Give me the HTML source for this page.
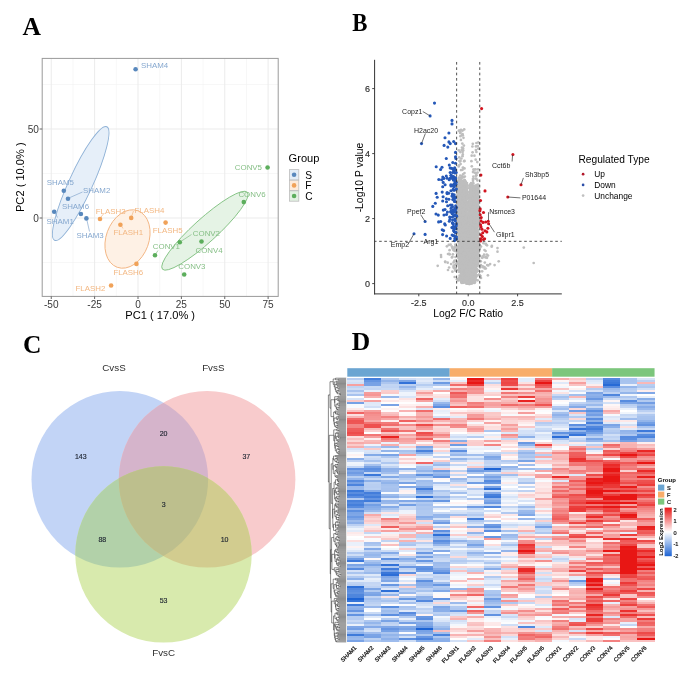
<!DOCTYPE html>
<html><head><meta charset="utf-8"><style>
html,body{margin:0;padding:0;background:#fff;width:685px;height:685px;overflow:hidden;}
svg{display:block;}
text{-webkit-font-smoothing:antialiased;}
</style></head><body>
<svg width="685" height="685" viewBox="0 0 685 685" style="will-change:transform">
<rect width="685" height="685" fill="#fff"/>
<text x="22.60" y="34.60" font-size="25.5" fill="#000" text-anchor="start" font-weight="bold" font-family='"Liberation Serif", serif' >A</text>
<text x="352.30" y="30.50" font-size="25.5" fill="#000" text-anchor="start" font-weight="bold" font-family='"Liberation Serif", serif' textLength="15.2" lengthAdjust="spacingAndGlyphs">B</text>
<text x="23.00" y="353.20" font-size="25.5" fill="#000" text-anchor="start" font-weight="bold" font-family='"Liberation Serif", serif' >C</text>
<text x="351.80" y="349.60" font-size="25.5" fill="#000" text-anchor="start" font-weight="bold" font-family='"Liberation Serif", serif' >D</text>
<g id="panelA">
<line x1="72.94" y1="58.40" x2="72.94" y2="296.40" stroke="#f2f2f2" stroke-width="0.6" />
<line x1="116.31" y1="58.40" x2="116.31" y2="296.40" stroke="#f2f2f2" stroke-width="0.6" />
<line x1="159.69" y1="58.40" x2="159.69" y2="296.40" stroke="#f2f2f2" stroke-width="0.6" />
<line x1="203.06" y1="58.40" x2="203.06" y2="296.40" stroke="#f2f2f2" stroke-width="0.6" />
<line x1="246.44" y1="58.40" x2="246.44" y2="296.40" stroke="#f2f2f2" stroke-width="0.6" />
<line x1="42.20" y1="262.50" x2="278.20" y2="262.50" stroke="#f2f2f2" stroke-width="0.6" />
<line x1="42.20" y1="173.50" x2="278.20" y2="173.50" stroke="#f2f2f2" stroke-width="0.6" />
<line x1="42.20" y1="84.50" x2="278.20" y2="84.50" stroke="#f2f2f2" stroke-width="0.6" />
<line x1="51.25" y1="58.40" x2="51.25" y2="296.40" stroke="#ebebeb" stroke-width="1.0" />
<line x1="94.62" y1="58.40" x2="94.62" y2="296.40" stroke="#ebebeb" stroke-width="1.0" />
<line x1="138.00" y1="58.40" x2="138.00" y2="296.40" stroke="#ebebeb" stroke-width="1.0" />
<line x1="181.38" y1="58.40" x2="181.38" y2="296.40" stroke="#ebebeb" stroke-width="1.0" />
<line x1="224.75" y1="58.40" x2="224.75" y2="296.40" stroke="#ebebeb" stroke-width="1.0" />
<line x1="268.12" y1="58.40" x2="268.12" y2="296.40" stroke="#ebebeb" stroke-width="1.0" />
<line x1="42.20" y1="218.00" x2="278.20" y2="218.00" stroke="#ebebeb" stroke-width="1.0" />
<line x1="42.20" y1="129.00" x2="278.20" y2="129.00" stroke="#ebebeb" stroke-width="1.0" />
<ellipse cx="80.7" cy="183.5" rx="62.5" ry="11.8" transform="rotate(-65.3 80.7 183.5)" fill="#e6eff9" stroke="#8eb1d6" stroke-width="0.9"/>
<ellipse cx="127.5" cy="239" rx="21.4" ry="30.1" transform="rotate(20 127.5 239)" fill="#fef1e5" stroke="#f3b684" stroke-width="0.9"/>
<ellipse cx="204.9" cy="230.7" rx="57.3" ry="11.8" transform="rotate(-42.2 204.9 230.7)" fill="#e5f3e5" stroke="#83c283" stroke-width="0.9"/>
<line x1="70.00" y1="197.50" x2="82.50" y2="192.00" stroke="#86a8cf" stroke-width="0.7" />
<line x1="55.50" y1="213.50" x2="57.50" y2="217.50" stroke="#86a8cf" stroke-width="0.7" />
<line x1="87.00" y1="220.50" x2="89.50" y2="231.50" stroke="#86a8cf" stroke-width="0.7" />
<line x1="101.00" y1="217.00" x2="103.50" y2="214.00" stroke="#f3b883" stroke-width="0.7" />
<line x1="131.80" y1="215.80" x2="133.50" y2="211.00" stroke="#f3b883" stroke-width="0.7" />
<line x1="121.50" y1="226.00" x2="123.00" y2="228.50" stroke="#f3b883" stroke-width="0.7" />
<line x1="156.00" y1="253.50" x2="158.00" y2="250.50" stroke="#86bf86" stroke-width="0.7" />
<line x1="181.50" y1="241.00" x2="191.50" y2="234.50" stroke="#86bf86" stroke-width="0.7" />
<circle cx="135.6" cy="69.2" r="2.3" fill="#5888bd"/>
<circle cx="63.8" cy="190.7" r="2.3" fill="#5888bd"/>
<circle cx="68.0" cy="198.7" r="2.3" fill="#5888bd"/>
<circle cx="80.9" cy="214.0" r="2.3" fill="#5888bd"/>
<circle cx="54.2" cy="211.8" r="2.3" fill="#5888bd"/>
<circle cx="86.4" cy="218.4" r="2.3" fill="#5888bd"/>
<circle cx="100.0" cy="219.0" r="2.3" fill="#f0a259"/>
<circle cx="131.2" cy="217.9" r="2.3" fill="#f0a259"/>
<circle cx="120.4" cy="224.7" r="2.3" fill="#f0a259"/>
<circle cx="165.6" cy="222.6" r="2.3" fill="#f0a259"/>
<circle cx="136.4" cy="263.9" r="2.3" fill="#f0a259"/>
<circle cx="111.1" cy="285.5" r="2.3" fill="#f0a259"/>
<circle cx="155.0" cy="255.2" r="2.3" fill="#5cae5c"/>
<circle cx="179.8" cy="242.3" r="2.3" fill="#5cae5c"/>
<circle cx="201.5" cy="241.5" r="2.3" fill="#5cae5c"/>
<circle cx="184.2" cy="274.5" r="2.3" fill="#5cae5c"/>
<circle cx="243.8" cy="202.1" r="2.3" fill="#5cae5c"/>
<circle cx="267.6" cy="167.5" r="2.3" fill="#5cae5c"/>
<text x="141.00" y="68.40" font-size="7.9" fill="#86a8cf" text-anchor="start" font-weight="normal" font-family='"Liberation Sans", sans-serif' >SHAM4</text>
<text x="46.80" y="185.30" font-size="7.9" fill="#86a8cf" text-anchor="start" font-weight="normal" font-family='"Liberation Sans", sans-serif' >SHAM5</text>
<text x="83.10" y="193.40" font-size="7.9" fill="#86a8cf" text-anchor="start" font-weight="normal" font-family='"Liberation Sans", sans-serif' >SHAM2</text>
<text x="61.90" y="208.80" font-size="7.9" fill="#86a8cf" text-anchor="start" font-weight="normal" font-family='"Liberation Sans", sans-serif' >SHAM6</text>
<text x="46.60" y="223.70" font-size="7.9" fill="#86a8cf" text-anchor="start" font-weight="normal" font-family='"Liberation Sans", sans-serif' >SHAM1</text>
<text x="76.50" y="238.30" font-size="7.9" fill="#86a8cf" text-anchor="start" font-weight="normal" font-family='"Liberation Sans", sans-serif' >SHAM3</text>
<text x="95.80" y="213.80" font-size="7.9" fill="#f3b883" text-anchor="start" font-weight="normal" font-family='"Liberation Sans", sans-serif' >FLASH3</text>
<text x="134.50" y="212.90" font-size="7.9" fill="#f3b883" text-anchor="start" font-weight="normal" font-family='"Liberation Sans", sans-serif' >FLASH4</text>
<text x="113.40" y="235.20" font-size="7.9" fill="#f3b883" text-anchor="start" font-weight="normal" font-family='"Liberation Sans", sans-serif' >FLASH1</text>
<text x="152.80" y="233.40" font-size="7.9" fill="#f3b883" text-anchor="start" font-weight="normal" font-family='"Liberation Sans", sans-serif' >FLASH5</text>
<text x="113.40" y="274.70" font-size="7.9" fill="#f3b883" text-anchor="start" font-weight="normal" font-family='"Liberation Sans", sans-serif' >FLASH6</text>
<text x="105.30" y="291.40" font-size="7.9" fill="#f3b883" text-anchor="end" font-weight="normal" font-family='"Liberation Sans", sans-serif' >FLASH2</text>
<text x="152.80" y="249.40" font-size="7.9" fill="#86bf86" text-anchor="start" font-weight="normal" font-family='"Liberation Sans", sans-serif' >CONV1</text>
<text x="192.80" y="236.00" font-size="7.9" fill="#86bf86" text-anchor="start" font-weight="normal" font-family='"Liberation Sans", sans-serif' >CONV2</text>
<text x="195.50" y="252.90" font-size="7.9" fill="#86bf86" text-anchor="start" font-weight="normal" font-family='"Liberation Sans", sans-serif' >CONV4</text>
<text x="178.30" y="269.00" font-size="7.9" fill="#86bf86" text-anchor="start" font-weight="normal" font-family='"Liberation Sans", sans-serif' >CONV3</text>
<text x="238.40" y="196.50" font-size="7.9" fill="#86bf86" text-anchor="start" font-weight="normal" font-family='"Liberation Sans", sans-serif' >CONV6</text>
<text x="262.00" y="170.20" font-size="7.9" fill="#86bf86" text-anchor="end" font-weight="normal" font-family='"Liberation Sans", sans-serif' >CONV5</text>
<rect x="42.2" y="58.4" width="236.00" height="238.00" fill="none" stroke="#9a9a9a" stroke-width="1"/>
<line x1="51.25" y1="296.40" x2="51.25" y2="299.00" stroke="#555" stroke-width="0.9" />
<text x="51.25" y="307.60" font-size="10.1" fill="#3a3a3a" text-anchor="middle" font-weight="normal" font-family='"Liberation Sans", sans-serif' >-50</text>
<line x1="94.62" y1="296.40" x2="94.62" y2="299.00" stroke="#555" stroke-width="0.9" />
<text x="94.62" y="307.60" font-size="10.1" fill="#3a3a3a" text-anchor="middle" font-weight="normal" font-family='"Liberation Sans", sans-serif' >-25</text>
<line x1="138.00" y1="296.40" x2="138.00" y2="299.00" stroke="#555" stroke-width="0.9" />
<text x="138.00" y="307.60" font-size="10.1" fill="#3a3a3a" text-anchor="middle" font-weight="normal" font-family='"Liberation Sans", sans-serif' >0</text>
<line x1="181.38" y1="296.40" x2="181.38" y2="299.00" stroke="#555" stroke-width="0.9" />
<text x="181.38" y="307.60" font-size="10.1" fill="#3a3a3a" text-anchor="middle" font-weight="normal" font-family='"Liberation Sans", sans-serif' >25</text>
<line x1="224.75" y1="296.40" x2="224.75" y2="299.00" stroke="#555" stroke-width="0.9" />
<text x="224.75" y="307.60" font-size="10.1" fill="#3a3a3a" text-anchor="middle" font-weight="normal" font-family='"Liberation Sans", sans-serif' >50</text>
<line x1="268.12" y1="296.40" x2="268.12" y2="299.00" stroke="#555" stroke-width="0.9" />
<text x="268.12" y="307.60" font-size="10.1" fill="#3a3a3a" text-anchor="middle" font-weight="normal" font-family='"Liberation Sans", sans-serif' >75</text>
<line x1="39.60" y1="218.00" x2="42.20" y2="218.00" stroke="#555" stroke-width="0.9" />
<text x="38.90" y="221.60" font-size="10.1" fill="#3a3a3a" text-anchor="end" font-weight="normal" font-family='"Liberation Sans", sans-serif' >0</text>
<line x1="39.60" y1="129.00" x2="42.20" y2="129.00" stroke="#555" stroke-width="0.9" />
<text x="38.90" y="132.60" font-size="10.1" fill="#3a3a3a" text-anchor="end" font-weight="normal" font-family='"Liberation Sans", sans-serif' >50</text>
<text x="160.20" y="319.40" font-size="11.1" fill="#000" text-anchor="middle" font-weight="normal" font-family='"Liberation Sans", sans-serif' >PC1 ( 17.0% )</text>
<text x="23.60" y="177.20" font-size="11.1" fill="#000" text-anchor="middle" font-weight="normal" font-family='"Liberation Sans", sans-serif' transform="rotate(-90 23.6 177.2)">PC2 ( 10.0% )</text>
<text x="288.60" y="162.20" font-size="11.1" fill="#000" text-anchor="start" font-weight="normal" font-family='"Liberation Sans", sans-serif' >Group</text>
<rect x="289.4" y="169.60" width="9.4" height="10.4" fill="#e3edf7" stroke="#bdbdbd" stroke-width="0.8"/>
<circle cx="294.1" cy="174.80" r="2.3" fill="#5888bd"/>
<text x="305.20" y="178.50" font-size="10.2" fill="#000" text-anchor="start" font-weight="normal" font-family='"Liberation Sans", sans-serif' >S</text>
<rect x="289.4" y="180.20" width="9.4" height="10.4" fill="#fdebdb" stroke="#bdbdbd" stroke-width="0.8"/>
<circle cx="294.1" cy="185.40" r="2.3" fill="#f0a259"/>
<text x="305.20" y="189.10" font-size="10.2" fill="#000" text-anchor="start" font-weight="normal" font-family='"Liberation Sans", sans-serif' >F</text>
<rect x="289.4" y="190.80" width="9.4" height="10.4" fill="#e2f1e2" stroke="#bdbdbd" stroke-width="0.8"/>
<circle cx="294.1" cy="196.00" r="2.3" fill="#5cae5c"/>
<text x="305.20" y="199.70" font-size="10.2" fill="#000" text-anchor="start" font-weight="normal" font-family='"Liberation Sans", sans-serif' >C</text>
</g>
<g id="panelB">
<path fill="#bebebe" d="M459.0 182.8 L458.4 190.8 L458.1 200.8 L458.1 238.8 L459.4 242.2 L459.4 267.2 L460.1 273.2 L461.1 278.2 L462.1 282.4 L467.2 283.4 L474.0 282.4 L475.5 277.2 L476.7 269.2 L477.5 261.2 L478.0 240.2 L478.2 210.8 L478.0 192.8 L477.4 186.8 L469.7 186.8 L468.7 183.8 Z"/>
<path fill="#fff" d="M466.6 180 L469.8 180 L468.9 200 L468.2 228 L467.5 200 Z"/>
<g fill="#bebebe"><circle cx="459.1" cy="232.9" r="1.35"/><circle cx="457.7" cy="193.8" r="1.35"/><circle cx="464.9" cy="234.2" r="1.35"/><circle cx="471.9" cy="209.2" r="1.35"/><circle cx="459.3" cy="263.5" r="1.35"/><circle cx="472.1" cy="234.3" r="1.35"/><circle cx="475.6" cy="238.2" r="1.35"/><circle cx="469.3" cy="231.3" r="1.35"/><circle cx="464.5" cy="242.7" r="1.35"/><circle cx="461.6" cy="265.0" r="1.35"/><circle cx="476.8" cy="193.6" r="1.35"/><circle cx="467.2" cy="209.4" r="1.35"/><circle cx="466.3" cy="195.7" r="1.35"/><circle cx="472.2" cy="201.4" r="1.35"/><circle cx="477.6" cy="203.0" r="1.35"/><circle cx="464.3" cy="229.7" r="1.35"/><circle cx="477.7" cy="253.9" r="1.35"/><circle cx="467.0" cy="253.3" r="1.35"/><circle cx="476.3" cy="242.3" r="1.35"/><circle cx="463.4" cy="213.6" r="1.35"/><circle cx="458.1" cy="198.3" r="1.35"/><circle cx="467.2" cy="193.5" r="1.35"/><circle cx="473.7" cy="200.7" r="1.35"/><circle cx="475.3" cy="200.2" r="1.35"/><circle cx="463.0" cy="257.1" r="1.35"/><circle cx="467.8" cy="270.4" r="1.35"/><circle cx="461.2" cy="213.4" r="1.35"/><circle cx="478.6" cy="216.1" r="1.35"/><circle cx="466.5" cy="213.3" r="1.35"/><circle cx="457.6" cy="222.8" r="1.35"/><circle cx="461.9" cy="269.6" r="1.35"/><circle cx="473.8" cy="237.9" r="1.35"/><circle cx="471.9" cy="253.4" r="1.35"/><circle cx="474.7" cy="278.3" r="1.35"/><circle cx="459.6" cy="246.4" r="1.35"/><circle cx="459.4" cy="227.0" r="1.35"/><circle cx="474.9" cy="274.8" r="1.35"/><circle cx="464.6" cy="197.3" r="1.35"/><circle cx="461.9" cy="217.9" r="1.35"/><circle cx="471.3" cy="196.9" r="1.35"/><circle cx="470.7" cy="204.6" r="1.35"/><circle cx="469.3" cy="247.5" r="1.35"/><circle cx="463.8" cy="248.2" r="1.35"/><circle cx="464.4" cy="193.8" r="1.35"/><circle cx="463.6" cy="221.9" r="1.35"/><circle cx="477.9" cy="192.3" r="1.35"/><circle cx="458.1" cy="239.5" r="1.35"/><circle cx="472.8" cy="187.1" r="1.35"/><circle cx="475.4" cy="252.4" r="1.35"/><circle cx="459.5" cy="229.3" r="1.35"/><circle cx="473.2" cy="265.3" r="1.35"/><circle cx="474.2" cy="208.3" r="1.35"/><circle cx="475.0" cy="206.4" r="1.35"/><circle cx="459.3" cy="221.4" r="1.35"/><circle cx="470.5" cy="243.9" r="1.35"/><circle cx="461.8" cy="246.0" r="1.35"/><circle cx="464.6" cy="257.9" r="1.35"/><circle cx="463.0" cy="264.7" r="1.35"/><circle cx="466.0" cy="238.6" r="1.35"/><circle cx="472.2" cy="234.9" r="1.35"/><circle cx="458.3" cy="214.4" r="1.35"/><circle cx="459.7" cy="264.7" r="1.35"/><circle cx="474.8" cy="247.5" r="1.35"/><circle cx="477.6" cy="260.1" r="1.35"/><circle cx="463.2" cy="248.4" r="1.35"/><circle cx="464.2" cy="259.5" r="1.35"/><circle cx="465.2" cy="196.2" r="1.35"/><circle cx="477.0" cy="253.2" r="1.35"/><circle cx="473.9" cy="239.3" r="1.35"/><circle cx="474.8" cy="227.5" r="1.35"/><circle cx="469.6" cy="186.6" r="1.35"/><circle cx="469.3" cy="266.3" r="1.35"/><circle cx="472.9" cy="265.1" r="1.35"/><circle cx="467.9" cy="273.4" r="1.35"/><circle cx="464.9" cy="189.6" r="1.35"/><circle cx="470.9" cy="228.2" r="1.35"/><circle cx="466.3" cy="270.3" r="1.35"/><circle cx="459.3" cy="245.4" r="1.35"/><circle cx="465.9" cy="236.0" r="1.35"/><circle cx="468.3" cy="271.4" r="1.35"/><circle cx="457.6" cy="228.7" r="1.35"/><circle cx="458.9" cy="224.4" r="1.35"/><circle cx="461.0" cy="255.7" r="1.35"/><circle cx="469.0" cy="210.5" r="1.35"/><circle cx="462.1" cy="271.9" r="1.35"/><circle cx="474.4" cy="226.2" r="1.35"/><circle cx="465.7" cy="258.2" r="1.35"/><circle cx="459.8" cy="218.4" r="1.35"/><circle cx="465.3" cy="258.4" r="1.35"/><circle cx="464.8" cy="274.1" r="1.35"/><circle cx="478.3" cy="223.1" r="1.35"/><circle cx="473.9" cy="218.7" r="1.35"/><circle cx="459.7" cy="241.0" r="1.35"/><circle cx="475.4" cy="277.0" r="1.35"/><circle cx="466.8" cy="192.4" r="1.35"/><circle cx="472.2" cy="219.6" r="1.35"/><circle cx="460.4" cy="210.9" r="1.35"/><circle cx="473.3" cy="214.4" r="1.35"/><circle cx="472.6" cy="233.2" r="1.35"/><circle cx="466.8" cy="282.6" r="1.35"/><circle cx="460.0" cy="231.6" r="1.35"/><circle cx="467.7" cy="215.2" r="1.35"/><circle cx="460.0" cy="243.0" r="1.35"/><circle cx="465.6" cy="193.5" r="1.35"/><circle cx="470.0" cy="235.0" r="1.35"/><circle cx="467.5" cy="235.5" r="1.35"/><circle cx="465.5" cy="222.4" r="1.35"/><circle cx="461.9" cy="183.1" r="1.35"/><circle cx="467.2" cy="256.1" r="1.35"/><circle cx="466.5" cy="218.6" r="1.35"/><circle cx="471.8" cy="197.3" r="1.35"/><circle cx="468.7" cy="271.8" r="1.35"/><circle cx="466.0" cy="263.3" r="1.35"/><circle cx="470.4" cy="204.0" r="1.35"/><circle cx="457.6" cy="193.5" r="1.35"/><circle cx="465.0" cy="215.7" r="1.35"/><circle cx="469.5" cy="274.1" r="1.35"/><circle cx="464.8" cy="199.5" r="1.35"/><circle cx="465.2" cy="213.6" r="1.35"/><circle cx="465.3" cy="185.4" r="1.35"/><circle cx="469.3" cy="246.2" r="1.35"/><circle cx="474.0" cy="281.5" r="1.35"/><circle cx="464.5" cy="249.6" r="1.35"/><circle cx="466.6" cy="202.8" r="1.35"/><circle cx="477.3" cy="259.1" r="1.35"/><circle cx="478.0" cy="193.6" r="1.35"/><circle cx="465.9" cy="252.9" r="1.35"/><circle cx="466.5" cy="234.4" r="1.35"/><circle cx="474.3" cy="187.5" r="1.35"/><circle cx="462.0" cy="256.6" r="1.35"/><circle cx="472.4" cy="223.0" r="1.35"/><circle cx="463.1" cy="267.8" r="1.35"/><circle cx="462.6" cy="183.3" r="1.35"/><circle cx="475.5" cy="193.0" r="1.35"/><circle cx="463.3" cy="242.0" r="1.35"/><circle cx="463.4" cy="220.2" r="1.35"/><circle cx="458.5" cy="221.2" r="1.35"/><circle cx="477.8" cy="209.8" r="1.35"/><circle cx="462.5" cy="252.0" r="1.35"/><circle cx="477.2" cy="211.4" r="1.35"/><circle cx="465.0" cy="255.8" r="1.35"/><circle cx="475.0" cy="245.1" r="1.35"/><circle cx="460.3" cy="199.2" r="1.35"/><circle cx="474.2" cy="254.9" r="1.35"/><circle cx="477.5" cy="262.7" r="1.35"/><circle cx="466.1" cy="194.1" r="1.35"/><circle cx="477.4" cy="253.7" r="1.35"/><circle cx="469.8" cy="252.3" r="1.35"/><circle cx="465.2" cy="216.4" r="1.35"/><circle cx="469.8" cy="231.2" r="1.35"/><circle cx="473.0" cy="279.2" r="1.35"/><circle cx="476.3" cy="221.1" r="1.35"/><circle cx="464.9" cy="278.2" r="1.35"/><circle cx="465.5" cy="264.8" r="1.35"/><circle cx="458.2" cy="227.8" r="1.35"/><circle cx="468.4" cy="265.7" r="1.35"/><circle cx="477.1" cy="196.2" r="1.35"/><circle cx="470.8" cy="246.7" r="1.35"/><circle cx="459.6" cy="268.4" r="1.35"/><circle cx="469.3" cy="281.9" r="1.35"/><circle cx="460.5" cy="235.6" r="1.35"/><circle cx="463.8" cy="248.1" r="1.35"/><circle cx="470.6" cy="234.3" r="1.35"/><circle cx="463.8" cy="233.4" r="1.35"/><circle cx="464.9" cy="274.4" r="1.35"/><circle cx="467.1" cy="230.4" r="1.35"/><circle cx="462.2" cy="206.9" r="1.35"/><circle cx="478.9" cy="213.3" r="1.35"/><circle cx="476.8" cy="243.0" r="1.35"/><circle cx="469.6" cy="255.1" r="1.35"/><circle cx="473.3" cy="227.5" r="1.35"/><circle cx="471.2" cy="204.2" r="1.35"/><circle cx="467.4" cy="276.0" r="1.35"/><circle cx="462.3" cy="266.7" r="1.35"/><circle cx="460.0" cy="204.2" r="1.35"/><circle cx="464.7" cy="192.2" r="1.35"/><circle cx="478.4" cy="218.3" r="1.35"/><circle cx="471.0" cy="228.2" r="1.35"/><circle cx="473.8" cy="265.5" r="1.35"/><circle cx="465.2" cy="236.7" r="1.35"/><circle cx="458.3" cy="210.3" r="1.35"/><circle cx="461.3" cy="212.7" r="1.35"/><circle cx="463.8" cy="241.0" r="1.35"/><circle cx="464.0" cy="214.6" r="1.35"/><circle cx="476.8" cy="247.2" r="1.35"/><circle cx="473.5" cy="281.5" r="1.35"/><circle cx="461.2" cy="277.5" r="1.35"/><circle cx="461.8" cy="235.0" r="1.35"/><circle cx="472.3" cy="264.5" r="1.35"/><circle cx="462.0" cy="230.6" r="1.35"/><circle cx="470.0" cy="263.4" r="1.35"/><circle cx="477.7" cy="215.2" r="1.35"/><circle cx="459.8" cy="236.2" r="1.35"/><circle cx="470.2" cy="253.4" r="1.35"/><circle cx="471.3" cy="277.7" r="1.35"/><circle cx="472.1" cy="283.4" r="1.35"/><circle cx="468.3" cy="265.9" r="1.35"/><circle cx="466.5" cy="272.9" r="1.35"/><circle cx="463.7" cy="246.2" r="1.35"/><circle cx="476.3" cy="255.4" r="1.35"/><circle cx="470.9" cy="282.9" r="1.35"/><circle cx="458.1" cy="190.8" r="1.35"/><circle cx="469.2" cy="281.2" r="1.35"/><circle cx="472.5" cy="212.8" r="1.35"/><circle cx="458.6" cy="227.5" r="1.35"/><circle cx="467.5" cy="229.6" r="1.35"/><circle cx="470.9" cy="208.9" r="1.35"/><circle cx="477.1" cy="210.6" r="1.35"/><circle cx="458.6" cy="217.0" r="1.35"/><circle cx="478.5" cy="196.9" r="1.35"/><circle cx="462.7" cy="278.2" r="1.35"/><circle cx="464.4" cy="269.4" r="1.35"/><circle cx="461.7" cy="199.1" r="1.35"/><circle cx="469.3" cy="195.3" r="1.35"/><circle cx="476.4" cy="222.0" r="1.35"/><circle cx="463.5" cy="233.1" r="1.35"/><circle cx="462.3" cy="243.2" r="1.35"/><circle cx="474.0" cy="281.5" r="1.35"/><circle cx="475.6" cy="279.8" r="1.35"/><circle cx="471.3" cy="257.8" r="1.35"/><circle cx="470.1" cy="188.6" r="1.35"/><circle cx="460.9" cy="263.7" r="1.35"/><circle cx="469.5" cy="227.0" r="1.35"/><circle cx="457.8" cy="207.7" r="1.35"/><circle cx="463.4" cy="216.6" r="1.35"/><circle cx="473.0" cy="197.7" r="1.35"/><circle cx="466.6" cy="244.3" r="1.35"/><circle cx="478.7" cy="192.2" r="1.35"/><circle cx="457.9" cy="200.3" r="1.35"/><circle cx="461.3" cy="197.3" r="1.35"/><circle cx="457.8" cy="202.2" r="1.35"/><circle cx="461.4" cy="230.8" r="1.35"/><circle cx="471.5" cy="218.6" r="1.35"/><circle cx="460.0" cy="190.0" r="1.35"/><circle cx="462.3" cy="198.1" r="1.35"/><circle cx="467.5" cy="272.3" r="1.35"/><circle cx="473.2" cy="201.5" r="1.35"/><circle cx="466.5" cy="218.5" r="1.35"/><circle cx="472.4" cy="188.9" r="1.35"/><circle cx="462.1" cy="252.7" r="1.35"/><circle cx="469.6" cy="234.8" r="1.35"/><circle cx="477.6" cy="192.0" r="1.35"/><circle cx="460.7" cy="240.0" r="1.35"/><circle cx="469.6" cy="283.9" r="1.35"/><circle cx="474.2" cy="253.9" r="1.35"/><circle cx="459.2" cy="243.8" r="1.35"/><circle cx="463.3" cy="218.1" r="1.35"/><circle cx="476.5" cy="256.0" r="1.35"/><circle cx="474.1" cy="210.5" r="1.35"/><circle cx="466.0" cy="198.7" r="1.35"/><circle cx="470.5" cy="269.0" r="1.35"/><circle cx="474.7" cy="279.0" r="1.35"/><circle cx="462.3" cy="254.3" r="1.35"/><circle cx="459.0" cy="236.8" r="1.35"/><circle cx="458.6" cy="237.3" r="1.35"/><circle cx="469.0" cy="216.8" r="1.35"/><circle cx="464.4" cy="255.4" r="1.35"/><circle cx="467.5" cy="223.2" r="1.35"/><circle cx="458.7" cy="209.9" r="1.35"/><circle cx="465.0" cy="272.3" r="1.35"/><circle cx="477.0" cy="203.1" r="1.35"/><circle cx="462.6" cy="253.8" r="1.35"/><circle cx="463.3" cy="281.3" r="1.35"/><circle cx="464.8" cy="257.4" r="1.35"/><circle cx="473.0" cy="202.6" r="1.35"/><circle cx="476.8" cy="214.8" r="1.35"/><circle cx="458.6" cy="185.3" r="1.35"/><circle cx="466.8" cy="247.1" r="1.35"/><circle cx="462.5" cy="269.2" r="1.35"/><circle cx="462.4" cy="269.8" r="1.35"/><circle cx="459.8" cy="227.5" r="1.35"/><circle cx="464.4" cy="221.8" r="1.35"/><circle cx="476.4" cy="241.4" r="1.35"/><circle cx="470.5" cy="221.3" r="1.35"/><circle cx="475.4" cy="233.2" r="1.35"/><circle cx="473.9" cy="276.9" r="1.35"/><circle cx="470.7" cy="226.1" r="1.35"/><circle cx="462.3" cy="276.7" r="1.35"/><circle cx="474.4" cy="264.7" r="1.35"/><circle cx="461.3" cy="226.3" r="1.35"/><circle cx="477.2" cy="206.1" r="1.35"/><circle cx="475.5" cy="237.1" r="1.35"/><circle cx="461.3" cy="219.8" r="1.35"/><circle cx="463.2" cy="261.5" r="1.35"/><circle cx="460.8" cy="236.9" r="1.35"/><circle cx="475.3" cy="240.4" r="1.35"/><circle cx="473.9" cy="239.9" r="1.35"/><circle cx="464.0" cy="241.7" r="1.35"/><circle cx="465.4" cy="192.6" r="1.35"/><circle cx="458.9" cy="184.8" r="1.35"/><circle cx="460.1" cy="206.0" r="1.35"/><circle cx="471.2" cy="241.5" r="1.35"/><circle cx="470.2" cy="267.1" r="1.35"/><circle cx="458.3" cy="221.2" r="1.35"/><circle cx="457.9" cy="224.4" r="1.35"/><circle cx="457.9" cy="187.0" r="1.35"/><circle cx="458.5" cy="221.3" r="1.35"/><circle cx="474.3" cy="209.9" r="1.35"/><circle cx="473.8" cy="204.7" r="1.35"/><circle cx="462.9" cy="230.0" r="1.35"/><circle cx="457.8" cy="227.6" r="1.35"/><circle cx="470.0" cy="267.4" r="1.35"/><circle cx="469.7" cy="241.3" r="1.35"/><circle cx="462.7" cy="237.9" r="1.35"/><circle cx="468.9" cy="276.5" r="1.35"/><circle cx="461.6" cy="250.2" r="1.35"/><circle cx="469.8" cy="234.4" r="1.35"/><circle cx="471.1" cy="238.4" r="1.35"/><circle cx="464.1" cy="248.0" r="1.35"/><circle cx="458.0" cy="230.8" r="1.35"/><circle cx="466.9" cy="202.6" r="1.35"/><circle cx="469.6" cy="251.0" r="1.35"/><circle cx="459.0" cy="211.5" r="1.35"/><circle cx="458.0" cy="204.3" r="1.35"/><circle cx="466.7" cy="227.9" r="1.35"/><circle cx="461.5" cy="244.7" r="1.35"/><circle cx="461.3" cy="243.2" r="1.35"/><circle cx="464.5" cy="213.8" r="1.35"/><circle cx="467.4" cy="242.1" r="1.35"/><circle cx="470.4" cy="253.0" r="1.35"/><circle cx="462.4" cy="189.7" r="1.35"/><circle cx="462.1" cy="214.6" r="1.35"/><circle cx="470.6" cy="223.9" r="1.35"/><circle cx="463.5" cy="190.4" r="1.35"/><circle cx="470.3" cy="191.7" r="1.35"/><circle cx="468.4" cy="253.0" r="1.35"/><circle cx="471.0" cy="196.9" r="1.35"/><circle cx="464.5" cy="279.7" r="1.35"/><circle cx="466.5" cy="245.0" r="1.35"/><circle cx="465.4" cy="193.1" r="1.35"/><circle cx="476.7" cy="264.7" r="1.35"/><circle cx="465.0" cy="237.0" r="1.35"/><circle cx="468.7" cy="283.8" r="1.35"/><circle cx="465.8" cy="263.5" r="1.35"/><circle cx="473.5" cy="224.9" r="1.35"/><circle cx="465.8" cy="192.4" r="1.35"/><circle cx="471.1" cy="227.2" r="1.35"/><circle cx="463.4" cy="208.5" r="1.35"/><circle cx="465.4" cy="279.8" r="1.35"/><circle cx="467.5" cy="206.9" r="1.35"/><circle cx="468.5" cy="277.2" r="1.35"/><circle cx="476.8" cy="251.8" r="1.35"/><circle cx="477.6" cy="260.2" r="1.35"/><circle cx="472.3" cy="225.4" r="1.35"/><circle cx="459.6" cy="257.6" r="1.35"/><circle cx="471.2" cy="282.6" r="1.35"/><circle cx="463.7" cy="272.9" r="1.35"/><circle cx="461.2" cy="280.3" r="1.35"/><circle cx="462.0" cy="280.1" r="1.35"/><circle cx="475.3" cy="225.4" r="1.35"/><circle cx="474.3" cy="275.6" r="1.35"/><circle cx="463.2" cy="272.7" r="1.35"/><circle cx="462.5" cy="214.8" r="1.35"/><circle cx="469.1" cy="198.0" r="1.35"/><circle cx="474.0" cy="193.6" r="1.35"/><circle cx="461.0" cy="208.5" r="1.35"/><circle cx="470.0" cy="265.7" r="1.35"/><circle cx="474.1" cy="258.6" r="1.35"/><circle cx="472.4" cy="237.6" r="1.35"/><circle cx="464.2" cy="199.1" r="1.35"/><circle cx="476.7" cy="223.4" r="1.35"/><circle cx="471.6" cy="187.2" r="1.35"/><circle cx="464.7" cy="190.6" r="1.35"/><circle cx="464.5" cy="257.7" r="1.35"/><circle cx="464.2" cy="252.3" r="1.35"/><circle cx="459.0" cy="220.8" r="1.35"/><circle cx="465.8" cy="234.0" r="1.35"/><circle cx="461.5" cy="254.1" r="1.35"/><circle cx="477.2" cy="266.1" r="1.35"/><circle cx="464.3" cy="240.7" r="1.35"/><circle cx="466.0" cy="280.1" r="1.35"/><circle cx="467.7" cy="268.1" r="1.35"/><circle cx="474.2" cy="199.3" r="1.35"/><circle cx="463.4" cy="258.0" r="1.35"/><circle cx="466.1" cy="207.9" r="1.35"/><circle cx="464.5" cy="238.3" r="1.35"/><circle cx="478.3" cy="203.0" r="1.35"/><circle cx="473.4" cy="252.7" r="1.35"/><circle cx="472.4" cy="237.7" r="1.35"/><circle cx="470.0" cy="200.9" r="1.35"/><circle cx="469.5" cy="251.3" r="1.35"/><circle cx="467.7" cy="252.0" r="1.35"/><circle cx="467.0" cy="265.2" r="1.35"/><circle cx="473.3" cy="189.4" r="1.35"/><circle cx="474.5" cy="210.2" r="1.35"/><circle cx="458.0" cy="192.8" r="1.35"/><circle cx="463.8" cy="235.6" r="1.35"/><circle cx="463.9" cy="201.6" r="1.35"/><circle cx="474.5" cy="219.6" r="1.35"/><circle cx="477.0" cy="205.9" r="1.35"/><circle cx="472.6" cy="217.9" r="1.35"/><circle cx="476.4" cy="248.5" r="1.35"/><circle cx="472.3" cy="189.8" r="1.35"/><circle cx="474.0" cy="217.6" r="1.35"/><circle cx="473.8" cy="269.6" r="1.35"/><circle cx="474.2" cy="282.7" r="1.35"/><circle cx="477.6" cy="226.2" r="1.35"/><circle cx="468.7" cy="267.4" r="1.35"/><circle cx="461.6" cy="229.0" r="1.35"/><circle cx="465.7" cy="244.4" r="1.35"/><circle cx="472.6" cy="223.9" r="1.35"/><circle cx="465.6" cy="207.2" r="1.35"/><circle cx="467.2" cy="240.9" r="1.35"/><circle cx="465.4" cy="233.6" r="1.35"/><circle cx="471.3" cy="270.3" r="1.35"/><circle cx="469.5" cy="220.6" r="1.35"/><circle cx="462.4" cy="196.1" r="1.35"/><circle cx="465.2" cy="216.3" r="1.35"/><circle cx="464.5" cy="270.2" r="1.35"/><circle cx="463.0" cy="194.1" r="1.35"/><circle cx="461.2" cy="280.7" r="1.35"/><circle cx="466.3" cy="218.2" r="1.35"/><circle cx="474.7" cy="279.2" r="1.35"/><circle cx="468.2" cy="266.3" r="1.35"/><circle cx="462.3" cy="217.1" r="1.35"/><circle cx="469.8" cy="205.1" r="1.35"/><circle cx="462.6" cy="199.9" r="1.35"/><circle cx="462.3" cy="269.0" r="1.35"/><circle cx="475.1" cy="192.1" r="1.35"/><circle cx="464.4" cy="256.6" r="1.35"/><circle cx="476.6" cy="239.4" r="1.35"/><circle cx="473.4" cy="205.2" r="1.35"/><circle cx="474.8" cy="267.0" r="1.35"/><circle cx="465.8" cy="205.0" r="1.35"/><circle cx="468.5" cy="279.5" r="1.35"/><circle cx="457.4" cy="226.3" r="1.35"/><circle cx="465.2" cy="272.2" r="1.35"/><circle cx="457.6" cy="201.3" r="1.35"/><circle cx="462.2" cy="221.8" r="1.35"/><circle cx="470.5" cy="245.2" r="1.35"/><circle cx="470.6" cy="249.0" r="1.35"/><circle cx="471.7" cy="241.9" r="1.35"/><circle cx="461.2" cy="224.5" r="1.35"/><circle cx="461.7" cy="272.0" r="1.35"/><circle cx="462.7" cy="197.3" r="1.35"/><circle cx="475.1" cy="260.7" r="1.35"/><circle cx="476.5" cy="251.8" r="1.35"/><circle cx="466.0" cy="230.4" r="1.35"/><circle cx="469.3" cy="243.2" r="1.35"/><circle cx="478.7" cy="208.1" r="1.35"/><circle cx="460.6" cy="280.1" r="1.35"/><circle cx="462.0" cy="234.2" r="1.35"/><circle cx="478.0" cy="249.4" r="1.35"/><circle cx="467.7" cy="254.4" r="1.35"/><circle cx="460.4" cy="194.8" r="1.35"/><circle cx="462.9" cy="195.4" r="1.35"/><circle cx="474.3" cy="268.4" r="1.35"/><circle cx="459.4" cy="187.8" r="1.35"/><circle cx="463.8" cy="252.8" r="1.35"/><circle cx="474.5" cy="228.8" r="1.35"/><circle cx="471.3" cy="277.3" r="1.35"/><circle cx="477.1" cy="192.5" r="1.35"/><circle cx="473.1" cy="262.3" r="1.35"/><circle cx="477.8" cy="224.3" r="1.35"/><circle cx="459.7" cy="230.2" r="1.35"/><circle cx="464.9" cy="221.7" r="1.35"/><circle cx="475.3" cy="249.1" r="1.35"/><circle cx="472.3" cy="249.2" r="1.35"/><circle cx="459.4" cy="186.2" r="1.35"/><circle cx="465.5" cy="270.1" r="1.35"/><circle cx="471.6" cy="263.9" r="1.35"/><circle cx="470.9" cy="263.1" r="1.35"/><circle cx="473.8" cy="266.2" r="1.35"/><circle cx="478.2" cy="205.2" r="1.35"/><circle cx="463.3" cy="194.3" r="1.35"/><circle cx="475.2" cy="211.6" r="1.35"/><circle cx="473.9" cy="276.5" r="1.35"/><circle cx="472.6" cy="225.0" r="1.35"/><circle cx="471.0" cy="270.7" r="1.35"/><circle cx="473.1" cy="206.7" r="1.35"/><circle cx="471.0" cy="186.7" r="1.35"/><circle cx="469.2" cy="242.4" r="1.35"/><circle cx="463.0" cy="273.9" r="1.35"/><circle cx="461.8" cy="195.2" r="1.35"/><circle cx="463.4" cy="215.9" r="1.35"/><circle cx="477.2" cy="249.6" r="1.35"/><circle cx="458.9" cy="221.7" r="1.35"/><circle cx="476.5" cy="189.9" r="1.35"/><circle cx="462.8" cy="259.2" r="1.35"/><circle cx="469.0" cy="212.9" r="1.35"/><circle cx="459.7" cy="252.9" r="1.35"/><circle cx="473.9" cy="195.1" r="1.35"/><circle cx="470.3" cy="202.1" r="1.35"/><circle cx="474.3" cy="210.3" r="1.35"/><circle cx="472.5" cy="248.7" r="1.35"/><circle cx="469.8" cy="203.1" r="1.35"/><circle cx="476.0" cy="217.6" r="1.35"/><circle cx="474.5" cy="230.3" r="1.35"/><circle cx="466.8" cy="255.5" r="1.35"/><circle cx="464.2" cy="260.9" r="1.35"/><circle cx="466.7" cy="258.5" r="1.35"/><circle cx="472.7" cy="280.2" r="1.35"/><circle cx="465.8" cy="217.0" r="1.35"/><circle cx="466.0" cy="254.3" r="1.35"/><circle cx="462.0" cy="281.5" r="1.35"/><circle cx="474.1" cy="248.8" r="1.35"/><circle cx="463.0" cy="265.8" r="1.35"/><circle cx="478.1" cy="263.9" r="1.35"/><circle cx="477.9" cy="189.8" r="1.35"/><circle cx="473.8" cy="271.8" r="1.35"/><circle cx="469.0" cy="205.7" r="1.35"/><circle cx="476.0" cy="247.3" r="1.35"/><circle cx="474.0" cy="251.2" r="1.35"/><circle cx="467.1" cy="192.9" r="1.35"/><circle cx="462.9" cy="233.6" r="1.35"/><circle cx="470.0" cy="212.0" r="1.35"/><circle cx="459.1" cy="216.3" r="1.35"/><circle cx="460.5" cy="278.6" r="1.35"/><circle cx="461.3" cy="221.8" r="1.35"/><circle cx="469.0" cy="206.7" r="1.35"/><circle cx="467.9" cy="238.6" r="1.35"/><circle cx="468.9" cy="195.5" r="1.35"/><circle cx="473.5" cy="231.1" r="1.35"/><circle cx="462.2" cy="220.2" r="1.35"/><circle cx="467.5" cy="219.3" r="1.35"/><circle cx="461.9" cy="224.1" r="1.35"/><circle cx="466.5" cy="252.9" r="1.35"/><circle cx="460.7" cy="184.8" r="1.35"/><circle cx="476.0" cy="187.3" r="1.35"/><circle cx="471.2" cy="238.2" r="1.35"/><circle cx="477.3" cy="193.8" r="1.35"/><circle cx="460.1" cy="249.3" r="1.35"/><circle cx="460.0" cy="242.2" r="1.35"/><circle cx="472.2" cy="193.3" r="1.35"/><circle cx="475.0" cy="224.8" r="1.35"/><circle cx="462.2" cy="222.7" r="1.35"/><circle cx="477.8" cy="216.4" r="1.35"/><circle cx="469.3" cy="262.1" r="1.35"/><circle cx="474.2" cy="230.0" r="1.35"/><circle cx="461.8" cy="193.6" r="1.35"/><circle cx="461.4" cy="201.2" r="1.35"/><circle cx="477.8" cy="223.2" r="1.35"/><circle cx="458.8" cy="247.6" r="1.35"/><circle cx="467.0" cy="183.1" r="1.35"/><circle cx="462.3" cy="268.3" r="1.35"/><circle cx="466.9" cy="251.4" r="1.35"/><circle cx="471.7" cy="257.6" r="1.35"/><circle cx="466.6" cy="195.5" r="1.35"/><circle cx="475.3" cy="226.7" r="1.35"/><circle cx="466.6" cy="260.5" r="1.35"/><circle cx="465.3" cy="247.3" r="1.35"/><circle cx="458.0" cy="191.9" r="1.35"/><circle cx="462.1" cy="209.7" r="1.35"/><circle cx="466.7" cy="204.3" r="1.35"/><circle cx="478.5" cy="225.4" r="1.35"/><circle cx="465.2" cy="275.6" r="1.35"/><circle cx="475.1" cy="261.6" r="1.35"/><circle cx="477.9" cy="258.1" r="1.35"/><circle cx="463.3" cy="281.9" r="1.35"/><circle cx="466.1" cy="215.8" r="1.35"/><circle cx="467.4" cy="222.4" r="1.35"/><circle cx="476.7" cy="265.4" r="1.35"/><circle cx="473.9" cy="204.7" r="1.35"/><circle cx="466.6" cy="188.0" r="1.35"/><circle cx="465.5" cy="196.0" r="1.35"/><circle cx="462.9" cy="272.5" r="1.35"/><circle cx="460.3" cy="255.4" r="1.35"/><circle cx="462.0" cy="227.2" r="1.35"/><circle cx="470.7" cy="217.2" r="1.35"/><circle cx="460.7" cy="242.3" r="1.35"/><circle cx="463.7" cy="207.3" r="1.35"/><circle cx="457.8" cy="201.7" r="1.35"/><circle cx="473.4" cy="192.2" r="1.35"/><circle cx="471.5" cy="211.3" r="1.35"/><circle cx="461.5" cy="231.3" r="1.35"/><circle cx="466.5" cy="227.4" r="1.35"/><circle cx="458.8" cy="239.8" r="1.35"/><circle cx="463.6" cy="206.7" r="1.35"/><circle cx="478.1" cy="245.4" r="1.35"/><circle cx="457.8" cy="237.0" r="1.35"/><circle cx="462.6" cy="197.6" r="1.35"/><circle cx="478.5" cy="241.5" r="1.35"/><circle cx="475.7" cy="255.1" r="1.35"/><circle cx="463.0" cy="249.2" r="1.35"/><circle cx="462.9" cy="229.2" r="1.35"/><circle cx="475.7" cy="203.4" r="1.35"/><circle cx="460.2" cy="270.3" r="1.35"/><circle cx="467.1" cy="198.4" r="1.35"/><circle cx="463.6" cy="209.7" r="1.35"/><circle cx="477.5" cy="230.1" r="1.35"/><circle cx="478.1" cy="229.8" r="1.35"/><circle cx="469.6" cy="263.4" r="1.35"/><circle cx="462.9" cy="192.2" r="1.35"/><circle cx="467.2" cy="245.7" r="1.35"/><circle cx="474.4" cy="275.0" r="1.35"/><circle cx="460.9" cy="271.7" r="1.35"/><circle cx="467.9" cy="246.0" r="1.35"/><circle cx="467.1" cy="269.9" r="1.35"/><circle cx="475.9" cy="250.1" r="1.35"/><circle cx="473.2" cy="193.2" r="1.35"/><circle cx="460.9" cy="246.3" r="1.35"/><circle cx="473.9" cy="250.1" r="1.35"/><circle cx="470.3" cy="249.4" r="1.35"/><circle cx="459.5" cy="227.8" r="1.35"/><circle cx="463.9" cy="258.0" r="1.35"/><circle cx="468.4" cy="256.3" r="1.35"/><circle cx="472.7" cy="276.0" r="1.35"/><circle cx="472.0" cy="219.6" r="1.35"/><circle cx="458.4" cy="230.7" r="1.35"/><circle cx="476.2" cy="264.4" r="1.35"/><circle cx="458.5" cy="201.4" r="1.35"/><circle cx="472.7" cy="282.6" r="1.35"/><circle cx="457.9" cy="189.4" r="1.35"/><circle cx="472.7" cy="245.3" r="1.35"/><circle cx="475.5" cy="201.0" r="1.35"/><circle cx="467.9" cy="264.9" r="1.35"/><circle cx="465.2" cy="222.4" r="1.35"/><circle cx="466.7" cy="220.1" r="1.35"/><circle cx="471.7" cy="270.4" r="1.35"/><circle cx="476.8" cy="216.3" r="1.35"/><circle cx="470.6" cy="221.1" r="1.35"/><circle cx="476.1" cy="264.1" r="1.35"/><circle cx="471.9" cy="267.3" r="1.35"/><circle cx="468.2" cy="240.5" r="1.35"/><circle cx="459.9" cy="255.0" r="1.35"/><circle cx="462.9" cy="239.6" r="1.35"/><circle cx="470.8" cy="246.9" r="1.35"/><circle cx="469.5" cy="206.7" r="1.35"/><circle cx="471.7" cy="250.1" r="1.35"/><circle cx="470.2" cy="220.0" r="1.35"/><circle cx="459.7" cy="239.0" r="1.35"/><circle cx="464.5" cy="210.0" r="1.35"/><circle cx="466.8" cy="191.0" r="1.35"/><circle cx="475.8" cy="240.8" r="1.35"/><circle cx="478.6" cy="215.0" r="1.35"/><circle cx="467.2" cy="198.2" r="1.35"/><circle cx="466.2" cy="278.3" r="1.35"/><circle cx="471.9" cy="237.8" r="1.35"/><circle cx="468.9" cy="247.3" r="1.35"/><circle cx="470.6" cy="228.0" r="1.35"/><circle cx="466.6" cy="251.5" r="1.35"/><circle cx="461.4" cy="209.4" r="1.35"/><circle cx="475.3" cy="194.4" r="1.35"/><circle cx="460.7" cy="266.8" r="1.35"/><circle cx="458.9" cy="211.9" r="1.35"/><circle cx="477.8" cy="223.8" r="1.35"/><circle cx="475.6" cy="261.0" r="1.35"/><circle cx="477.9" cy="214.1" r="1.35"/><circle cx="465.7" cy="279.1" r="1.35"/><circle cx="471.5" cy="246.6" r="1.35"/><circle cx="475.7" cy="221.8" r="1.35"/><circle cx="457.8" cy="194.0" r="1.35"/><circle cx="457.9" cy="224.0" r="1.35"/><circle cx="475.6" cy="186.2" r="1.35"/><circle cx="465.7" cy="222.5" r="1.35"/><circle cx="465.6" cy="235.8" r="1.35"/><circle cx="468.8" cy="201.6" r="1.35"/><circle cx="475.1" cy="234.8" r="1.35"/><circle cx="464.4" cy="282.2" r="1.35"/><circle cx="472.9" cy="197.3" r="1.35"/><circle cx="464.2" cy="205.2" r="1.35"/><circle cx="457.6" cy="205.9" r="1.35"/><circle cx="462.9" cy="216.5" r="1.35"/><circle cx="460.6" cy="219.3" r="1.35"/><circle cx="466.4" cy="188.8" r="1.35"/><circle cx="467.2" cy="233.9" r="1.35"/><circle cx="477.8" cy="225.9" r="1.35"/><circle cx="472.5" cy="252.0" r="1.35"/><circle cx="460.2" cy="240.1" r="1.35"/><circle cx="466.8" cy="197.2" r="1.35"/><circle cx="464.8" cy="188.7" r="1.35"/><circle cx="465.7" cy="268.8" r="1.35"/><circle cx="473.0" cy="224.0" r="1.35"/><circle cx="473.2" cy="258.2" r="1.35"/><circle cx="460.1" cy="255.9" r="1.35"/><circle cx="478.0" cy="252.9" r="1.35"/><circle cx="475.1" cy="229.8" r="1.35"/><circle cx="469.5" cy="261.3" r="1.35"/><circle cx="471.2" cy="187.5" r="1.35"/><circle cx="457.4" cy="208.9" r="1.35"/><circle cx="475.6" cy="203.5" r="1.35"/><circle cx="463.7" cy="267.3" r="1.35"/><circle cx="459.1" cy="209.7" r="1.35"/><circle cx="462.2" cy="185.0" r="1.35"/><circle cx="473.8" cy="214.0" r="1.35"/><circle cx="465.8" cy="215.3" r="1.35"/><circle cx="459.2" cy="210.3" r="1.35"/><circle cx="473.3" cy="216.9" r="1.35"/><circle cx="469.4" cy="213.6" r="1.35"/><circle cx="475.3" cy="235.6" r="1.35"/><circle cx="471.5" cy="251.2" r="1.35"/><circle cx="464.2" cy="227.3" r="1.35"/><circle cx="474.7" cy="202.9" r="1.35"/><circle cx="478.0" cy="197.6" r="1.35"/><circle cx="474.1" cy="210.6" r="1.35"/><circle cx="477.3" cy="261.0" r="1.35"/><circle cx="469.7" cy="283.9" r="1.35"/><circle cx="475.2" cy="268.8" r="1.35"/><circle cx="477.1" cy="245.9" r="1.35"/><circle cx="466.1" cy="200.8" r="1.35"/><circle cx="461.0" cy="201.4" r="1.35"/><circle cx="475.6" cy="187.7" r="1.35"/><circle cx="473.3" cy="204.4" r="1.35"/><circle cx="477.6" cy="196.5" r="1.35"/><circle cx="467.2" cy="244.5" r="1.35"/><circle cx="466.9" cy="202.9" r="1.35"/><circle cx="463.0" cy="279.1" r="1.35"/><circle cx="472.4" cy="230.0" r="1.35"/><circle cx="478.8" cy="223.8" r="1.35"/><circle cx="468.7" cy="238.1" r="1.35"/><circle cx="477.3" cy="187.2" r="1.35"/><circle cx="476.5" cy="235.4" r="1.35"/><circle cx="473.6" cy="223.9" r="1.35"/><circle cx="463.1" cy="215.6" r="1.35"/><circle cx="462.6" cy="228.1" r="1.35"/><circle cx="470.3" cy="268.1" r="1.35"/><circle cx="460.2" cy="227.7" r="1.35"/><circle cx="468.8" cy="266.7" r="1.35"/><circle cx="473.0" cy="246.1" r="1.35"/><circle cx="472.2" cy="227.5" r="1.35"/><circle cx="475.4" cy="268.8" r="1.35"/><circle cx="469.6" cy="192.4" r="1.35"/><circle cx="466.2" cy="208.1" r="1.35"/><circle cx="460.6" cy="211.4" r="1.35"/><circle cx="475.7" cy="216.9" r="1.35"/><circle cx="466.3" cy="220.6" r="1.35"/><circle cx="460.4" cy="240.6" r="1.35"/><circle cx="466.0" cy="279.3" r="1.35"/><circle cx="470.8" cy="283.7" r="1.35"/><circle cx="476.6" cy="232.0" r="1.35"/><circle cx="458.9" cy="258.2" r="1.35"/><circle cx="459.3" cy="248.4" r="1.35"/><circle cx="463.7" cy="230.9" r="1.35"/><circle cx="474.2" cy="211.6" r="1.35"/><circle cx="460.1" cy="210.5" r="1.35"/><circle cx="478.6" cy="238.6" r="1.35"/><circle cx="462.9" cy="195.4" r="1.35"/><circle cx="457.6" cy="215.4" r="1.35"/><circle cx="470.7" cy="228.4" r="1.35"/><circle cx="469.7" cy="216.6" r="1.35"/><circle cx="475.1" cy="189.4" r="1.35"/><circle cx="474.2" cy="273.5" r="1.35"/><circle cx="474.6" cy="190.5" r="1.35"/><circle cx="469.9" cy="265.0" r="1.35"/><circle cx="465.9" cy="269.5" r="1.35"/><circle cx="460.0" cy="236.0" r="1.35"/><circle cx="469.4" cy="263.6" r="1.35"/><circle cx="465.9" cy="207.4" r="1.35"/><circle cx="473.1" cy="192.1" r="1.35"/><circle cx="464.8" cy="229.6" r="1.35"/><circle cx="474.9" cy="225.0" r="1.35"/><circle cx="469.5" cy="251.9" r="1.35"/><circle cx="472.2" cy="282.1" r="1.35"/><circle cx="467.1" cy="240.6" r="1.35"/><circle cx="462.0" cy="202.4" r="1.35"/><circle cx="469.7" cy="267.5" r="1.35"/><circle cx="457.7" cy="205.7" r="1.35"/><circle cx="459.4" cy="240.9" r="1.35"/><circle cx="465.6" cy="275.8" r="1.35"/><circle cx="469.7" cy="260.3" r="1.35"/><circle cx="464.3" cy="220.0" r="1.35"/><circle cx="476.5" cy="245.2" r="1.35"/><circle cx="477.9" cy="206.8" r="1.35"/><circle cx="458.8" cy="251.8" r="1.35"/><circle cx="459.0" cy="188.1" r="1.35"/><circle cx="465.4" cy="252.8" r="1.35"/><circle cx="464.6" cy="259.8" r="1.35"/><circle cx="466.9" cy="210.2" r="1.35"/><circle cx="468.8" cy="244.1" r="1.35"/><circle cx="459.6" cy="242.7" r="1.35"/><circle cx="468.8" cy="201.8" r="1.35"/><circle cx="463.6" cy="240.8" r="1.35"/><circle cx="471.9" cy="255.4" r="1.35"/><circle cx="466.6" cy="246.8" r="1.35"/><circle cx="469.3" cy="211.4" r="1.35"/><circle cx="461.3" cy="222.3" r="1.35"/><circle cx="472.6" cy="194.3" r="1.35"/><circle cx="460.4" cy="251.0" r="1.35"/><circle cx="475.4" cy="261.3" r="1.35"/><circle cx="472.4" cy="206.9" r="1.35"/><circle cx="461.7" cy="282.8" r="1.35"/><circle cx="462.2" cy="190.0" r="1.35"/><circle cx="469.7" cy="202.5" r="1.35"/><circle cx="474.9" cy="228.9" r="1.35"/><circle cx="472.6" cy="247.5" r="1.35"/><circle cx="475.3" cy="220.6" r="1.35"/><circle cx="478.1" cy="261.1" r="1.35"/><circle cx="461.9" cy="253.2" r="1.35"/><circle cx="476.1" cy="192.5" r="1.35"/><circle cx="463.8" cy="274.9" r="1.35"/><circle cx="467.5" cy="196.2" r="1.35"/><circle cx="458.1" cy="193.0" r="1.35"/><circle cx="458.5" cy="217.8" r="1.35"/><circle cx="474.6" cy="228.0" r="1.35"/><circle cx="458.4" cy="217.4" r="1.35"/><circle cx="467.6" cy="227.5" r="1.35"/><circle cx="471.4" cy="252.1" r="1.35"/><circle cx="473.9" cy="236.8" r="1.35"/><circle cx="474.8" cy="257.3" r="1.35"/><circle cx="466.5" cy="274.0" r="1.35"/><circle cx="470.3" cy="254.2" r="1.35"/><circle cx="468.4" cy="240.7" r="1.35"/><circle cx="460.3" cy="210.5" r="1.35"/><circle cx="478.0" cy="214.1" r="1.35"/><circle cx="466.7" cy="191.8" r="1.35"/><circle cx="469.7" cy="254.3" r="1.35"/><circle cx="473.8" cy="204.7" r="1.35"/><circle cx="464.9" cy="249.4" r="1.35"/><circle cx="461.3" cy="186.9" r="1.35"/><circle cx="463.9" cy="236.1" r="1.35"/><circle cx="462.5" cy="263.7" r="1.35"/><circle cx="462.2" cy="193.1" r="1.35"/><circle cx="470.5" cy="260.6" r="1.35"/><circle cx="460.9" cy="215.4" r="1.35"/><circle cx="462.2" cy="183.1" r="1.35"/><circle cx="470.7" cy="246.5" r="1.35"/><circle cx="463.8" cy="256.0" r="1.35"/><circle cx="460.8" cy="208.2" r="1.35"/><circle cx="477.6" cy="201.0" r="1.35"/><circle cx="465.8" cy="232.9" r="1.35"/><circle cx="473.1" cy="214.0" r="1.35"/><circle cx="471.6" cy="203.6" r="1.35"/><circle cx="460.5" cy="186.5" r="1.35"/><circle cx="467.1" cy="263.0" r="1.35"/><circle cx="474.5" cy="283.0" r="1.35"/><circle cx="463.4" cy="188.2" r="1.35"/><circle cx="467.1" cy="237.5" r="1.35"/><circle cx="472.5" cy="240.5" r="1.35"/><circle cx="463.2" cy="197.2" r="1.35"/><circle cx="464.2" cy="229.7" r="1.35"/><circle cx="460.5" cy="211.7" r="1.35"/><circle cx="477.2" cy="224.9" r="1.35"/><circle cx="459.0" cy="250.5" r="1.35"/><circle cx="464.5" cy="234.6" r="1.35"/><circle cx="465.4" cy="192.2" r="1.35"/><circle cx="473.7" cy="240.3" r="1.35"/><circle cx="469.9" cy="225.1" r="1.35"/><circle cx="466.4" cy="256.6" r="1.35"/><circle cx="461.8" cy="222.4" r="1.35"/><circle cx="459.2" cy="240.1" r="1.35"/><circle cx="466.5" cy="184.5" r="1.35"/><circle cx="461.5" cy="221.9" r="1.35"/><circle cx="470.9" cy="266.7" r="1.35"/><circle cx="464.0" cy="187.1" r="1.35"/><circle cx="459.5" cy="260.9" r="1.35"/><circle cx="460.0" cy="268.3" r="1.35"/><circle cx="472.3" cy="253.7" r="1.35"/><circle cx="462.1" cy="217.5" r="1.35"/><circle cx="461.6" cy="279.9" r="1.35"/><circle cx="471.2" cy="238.6" r="1.35"/><circle cx="465.9" cy="256.0" r="1.35"/><circle cx="467.2" cy="228.9" r="1.35"/><circle cx="459.6" cy="267.3" r="1.35"/><circle cx="478.0" cy="235.5" r="1.35"/><circle cx="459.9" cy="203.1" r="1.35"/><circle cx="459.4" cy="254.3" r="1.35"/><circle cx="464.2" cy="215.0" r="1.35"/><circle cx="472.2" cy="273.1" r="1.35"/><circle cx="460.1" cy="255.8" r="1.35"/><circle cx="469.8" cy="262.9" r="1.35"/><circle cx="472.2" cy="238.3" r="1.35"/><circle cx="475.4" cy="201.6" r="1.35"/><circle cx="459.7" cy="212.8" r="1.35"/><circle cx="465.2" cy="280.6" r="1.35"/><circle cx="475.8" cy="258.9" r="1.35"/><circle cx="477.4" cy="220.6" r="1.35"/><circle cx="460.4" cy="220.0" r="1.35"/><circle cx="463.4" cy="200.5" r="1.35"/><circle cx="478.5" cy="221.4" r="1.35"/><circle cx="476.9" cy="243.2" r="1.35"/><circle cx="457.4" cy="226.0" r="1.35"/><circle cx="474.7" cy="213.8" r="1.35"/><circle cx="463.0" cy="189.9" r="1.35"/><circle cx="467.4" cy="279.9" r="1.35"/><circle cx="470.4" cy="209.7" r="1.35"/><circle cx="465.9" cy="250.4" r="1.35"/><circle cx="477.3" cy="217.1" r="1.35"/><circle cx="464.0" cy="223.3" r="1.35"/><circle cx="467.0" cy="229.5" r="1.35"/><circle cx="471.2" cy="265.7" r="1.35"/><circle cx="472.9" cy="215.4" r="1.35"/><circle cx="463.1" cy="215.3" r="1.35"/><circle cx="468.8" cy="265.9" r="1.35"/><circle cx="476.3" cy="239.5" r="1.35"/><circle cx="465.1" cy="230.2" r="1.35"/><circle cx="468.3" cy="246.5" r="1.35"/><circle cx="469.2" cy="209.4" r="1.35"/><circle cx="478.0" cy="222.2" r="1.35"/><circle cx="474.6" cy="211.5" r="1.35"/><circle cx="469.2" cy="200.1" r="1.35"/><circle cx="462.6" cy="214.9" r="1.35"/><circle cx="459.4" cy="260.6" r="1.35"/><circle cx="466.8" cy="216.8" r="1.35"/><circle cx="470.0" cy="204.4" r="1.35"/><circle cx="466.5" cy="240.2" r="1.35"/><circle cx="470.8" cy="224.8" r="1.35"/><circle cx="473.8" cy="271.9" r="1.35"/><circle cx="471.7" cy="194.3" r="1.35"/><circle cx="471.4" cy="236.3" r="1.35"/><circle cx="472.9" cy="208.7" r="1.35"/><circle cx="467.5" cy="252.2" r="1.35"/><circle cx="462.2" cy="223.1" r="1.35"/><circle cx="471.9" cy="259.8" r="1.35"/><circle cx="478.0" cy="238.5" r="1.35"/><circle cx="470.6" cy="260.3" r="1.35"/><circle cx="475.7" cy="239.6" r="1.35"/><circle cx="478.2" cy="254.1" r="1.35"/><circle cx="464.8" cy="265.5" r="1.35"/><circle cx="468.5" cy="252.4" r="1.35"/><circle cx="474.7" cy="266.5" r="1.35"/><circle cx="460.8" cy="184.0" r="1.35"/><circle cx="457.8" cy="229.3" r="1.35"/><circle cx="478.2" cy="211.1" r="1.35"/><circle cx="459.4" cy="223.1" r="1.35"/><circle cx="468.9" cy="220.3" r="1.35"/><circle cx="474.9" cy="225.1" r="1.35"/><circle cx="463.2" cy="260.2" r="1.35"/><circle cx="459.0" cy="211.0" r="1.35"/><circle cx="467.0" cy="226.9" r="1.35"/><circle cx="461.7" cy="275.6" r="1.35"/><circle cx="469.0" cy="255.6" r="1.35"/><circle cx="473.8" cy="251.5" r="1.35"/><circle cx="475.4" cy="273.4" r="1.35"/><circle cx="459.4" cy="189.5" r="1.35"/><circle cx="466.9" cy="191.4" r="1.35"/><circle cx="470.2" cy="279.8" r="1.35"/><circle cx="458.8" cy="236.4" r="1.35"/><circle cx="473.8" cy="265.5" r="1.35"/><circle cx="474.1" cy="229.3" r="1.35"/><circle cx="477.0" cy="237.3" r="1.35"/><circle cx="461.1" cy="211.9" r="1.35"/><circle cx="469.8" cy="188.1" r="1.35"/><circle cx="473.1" cy="221.8" r="1.35"/><circle cx="461.2" cy="281.3" r="1.35"/><circle cx="471.9" cy="215.6" r="1.35"/><circle cx="458.9" cy="231.9" r="1.35"/><circle cx="474.5" cy="234.3" r="1.35"/><circle cx="463.4" cy="192.0" r="1.35"/><circle cx="461.4" cy="263.8" r="1.35"/><circle cx="473.5" cy="222.7" r="1.35"/><circle cx="460.5" cy="229.3" r="1.35"/><circle cx="461.8" cy="188.1" r="1.35"/><circle cx="473.4" cy="280.8" r="1.35"/><circle cx="469.4" cy="211.6" r="1.35"/><circle cx="459.5" cy="187.4" r="1.35"/><circle cx="462.4" cy="225.9" r="1.35"/><circle cx="474.3" cy="229.7" r="1.35"/><circle cx="462.5" cy="275.5" r="1.35"/><circle cx="469.8" cy="243.9" r="1.35"/><circle cx="475.7" cy="251.1" r="1.35"/><circle cx="461.8" cy="281.0" r="1.35"/><circle cx="459.9" cy="197.0" r="1.35"/><circle cx="471.6" cy="241.8" r="1.35"/><circle cx="461.5" cy="254.4" r="1.35"/><circle cx="458.4" cy="230.4" r="1.35"/><circle cx="470.5" cy="264.1" r="1.35"/><circle cx="471.9" cy="204.7" r="1.35"/><circle cx="476.6" cy="244.8" r="1.35"/><circle cx="470.3" cy="281.0" r="1.35"/><circle cx="469.4" cy="214.5" r="1.35"/><circle cx="466.1" cy="238.9" r="1.35"/><circle cx="476.9" cy="269.3" r="1.35"/><circle cx="465.5" cy="231.8" r="1.35"/><circle cx="475.3" cy="201.0" r="1.35"/><circle cx="471.3" cy="194.9" r="1.35"/><circle cx="476.1" cy="257.4" r="1.35"/><circle cx="478.4" cy="210.1" r="1.35"/><circle cx="460.1" cy="240.5" r="1.35"/><circle cx="460.9" cy="194.1" r="1.35"/><circle cx="459.6" cy="254.6" r="1.35"/><circle cx="460.4" cy="262.7" r="1.35"/><circle cx="474.5" cy="234.7" r="1.35"/><circle cx="464.9" cy="224.5" r="1.35"/><circle cx="473.8" cy="232.2" r="1.35"/><circle cx="475.9" cy="236.8" r="1.35"/><circle cx="461.9" cy="236.8" r="1.35"/><circle cx="476.1" cy="209.7" r="1.35"/><circle cx="471.3" cy="241.4" r="1.35"/><circle cx="472.6" cy="218.2" r="1.35"/><circle cx="461.4" cy="250.4" r="1.35"/><circle cx="476.3" cy="230.0" r="1.35"/><circle cx="459.3" cy="265.2" r="1.35"/><circle cx="468.7" cy="252.3" r="1.35"/><circle cx="464.9" cy="274.3" r="1.35"/><circle cx="463.7" cy="256.7" r="1.35"/><circle cx="473.3" cy="269.9" r="1.35"/><circle cx="461.1" cy="243.0" r="1.35"/><circle cx="457.7" cy="203.8" r="1.35"/><circle cx="477.5" cy="243.7" r="1.35"/><circle cx="470.5" cy="275.8" r="1.35"/><circle cx="463.9" cy="239.0" r="1.35"/><circle cx="475.4" cy="200.6" r="1.35"/><circle cx="472.9" cy="188.2" r="1.35"/><circle cx="464.9" cy="199.6" r="1.35"/><circle cx="466.4" cy="201.7" r="1.35"/><circle cx="457.5" cy="227.1" r="1.35"/><circle cx="465.4" cy="257.8" r="1.35"/><circle cx="467.7" cy="230.6" r="1.35"/><circle cx="462.4" cy="229.8" r="1.35"/><circle cx="473.3" cy="263.9" r="1.35"/><circle cx="465.3" cy="186.4" r="1.35"/><circle cx="477.0" cy="189.3" r="1.35"/><circle cx="469.7" cy="207.5" r="1.35"/><circle cx="462.4" cy="261.3" r="1.35"/><circle cx="464.7" cy="262.1" r="1.35"/><circle cx="463.5" cy="185.8" r="1.35"/><circle cx="473.8" cy="252.9" r="1.35"/><circle cx="459.1" cy="257.2" r="1.35"/><circle cx="471.0" cy="219.0" r="1.35"/><circle cx="469.9" cy="233.3" r="1.35"/><circle cx="475.0" cy="280.9" r="1.35"/><circle cx="464.2" cy="189.6" r="1.35"/><circle cx="464.8" cy="243.5" r="1.35"/><circle cx="462.2" cy="196.4" r="1.35"/><circle cx="461.1" cy="270.0" r="1.35"/><circle cx="473.1" cy="193.3" r="1.35"/><circle cx="463.2" cy="208.7" r="1.35"/><circle cx="462.9" cy="239.9" r="1.35"/><circle cx="465.2" cy="187.4" r="1.35"/><circle cx="471.1" cy="232.2" r="1.35"/><circle cx="460.3" cy="216.1" r="1.35"/><circle cx="469.8" cy="269.0" r="1.35"/><circle cx="460.3" cy="278.7" r="1.35"/><circle cx="468.2" cy="283.6" r="1.35"/><circle cx="472.4" cy="205.8" r="1.35"/><circle cx="470.9" cy="274.3" r="1.35"/><circle cx="467.0" cy="249.2" r="1.35"/><circle cx="472.0" cy="199.9" r="1.35"/><circle cx="466.2" cy="210.9" r="1.35"/><circle cx="467.6" cy="260.8" r="1.35"/><circle cx="459.5" cy="238.6" r="1.35"/><circle cx="476.2" cy="217.1" r="1.35"/><circle cx="475.2" cy="187.5" r="1.35"/><circle cx="466.5" cy="191.5" r="1.35"/><circle cx="476.3" cy="250.4" r="1.35"/><circle cx="461.1" cy="219.5" r="1.35"/><circle cx="470.5" cy="208.0" r="1.35"/><circle cx="466.9" cy="250.5" r="1.35"/><circle cx="466.2" cy="186.1" r="1.35"/><circle cx="461.6" cy="266.6" r="1.35"/><circle cx="470.7" cy="264.5" r="1.35"/><circle cx="472.3" cy="249.7" r="1.35"/><circle cx="461.9" cy="255.1" r="1.35"/><circle cx="464.1" cy="196.6" r="1.35"/><circle cx="472.7" cy="210.3" r="1.35"/><circle cx="478.4" cy="255.4" r="1.35"/><circle cx="478.3" cy="251.3" r="1.35"/><circle cx="474.8" cy="264.3" r="1.35"/><circle cx="458.8" cy="213.9" r="1.35"/><circle cx="470.8" cy="214.1" r="1.35"/><circle cx="459.1" cy="214.7" r="1.35"/><circle cx="464.2" cy="268.3" r="1.35"/><circle cx="459.2" cy="268.1" r="1.35"/><circle cx="458.9" cy="220.7" r="1.35"/><circle cx="461.7" cy="220.7" r="1.35"/><circle cx="459.5" cy="220.2" r="1.35"/><circle cx="469.7" cy="229.2" r="1.35"/><circle cx="468.5" cy="274.7" r="1.35"/><circle cx="476.4" cy="192.0" r="1.35"/><circle cx="473.6" cy="264.4" r="1.35"/><circle cx="477.8" cy="221.6" r="1.35"/><circle cx="478.2" cy="239.0" r="1.35"/><circle cx="467.2" cy="233.9" r="1.35"/><circle cx="465.9" cy="253.1" r="1.35"/><circle cx="468.8" cy="273.1" r="1.35"/><circle cx="459.8" cy="223.8" r="1.35"/><circle cx="467.3" cy="266.2" r="1.35"/><circle cx="470.2" cy="198.0" r="1.35"/><circle cx="463.3" cy="236.8" r="1.35"/><circle cx="475.0" cy="255.1" r="1.35"/><circle cx="471.4" cy="207.1" r="1.35"/><circle cx="469.7" cy="206.0" r="1.35"/><circle cx="473.9" cy="206.8" r="1.35"/><circle cx="464.2" cy="234.7" r="1.35"/><circle cx="465.0" cy="185.1" r="1.35"/><circle cx="457.6" cy="218.0" r="1.35"/><circle cx="470.1" cy="198.6" r="1.35"/><circle cx="460.3" cy="204.6" r="1.35"/><circle cx="473.8" cy="261.0" r="1.35"/><circle cx="465.1" cy="222.4" r="1.35"/><circle cx="463.5" cy="276.8" r="1.35"/><circle cx="465.3" cy="191.9" r="1.35"/><circle cx="469.8" cy="274.2" r="1.35"/><circle cx="461.6" cy="233.8" r="1.35"/><circle cx="465.1" cy="251.6" r="1.35"/><circle cx="463.5" cy="207.0" r="1.35"/><circle cx="472.9" cy="249.6" r="1.35"/><circle cx="466.6" cy="246.0" r="1.35"/><circle cx="472.5" cy="260.5" r="1.35"/><circle cx="477.9" cy="219.5" r="1.35"/><circle cx="478.1" cy="233.8" r="1.35"/><circle cx="474.6" cy="208.8" r="1.35"/><circle cx="467.4" cy="239.0" r="1.35"/><circle cx="468.4" cy="277.9" r="1.35"/><circle cx="467.0" cy="272.9" r="1.35"/><circle cx="458.7" cy="202.3" r="1.35"/><circle cx="460.2" cy="199.4" r="1.35"/><circle cx="470.1" cy="190.8" r="1.35"/><circle cx="472.2" cy="272.4" r="1.35"/><circle cx="461.9" cy="226.7" r="1.35"/><circle cx="466.9" cy="225.3" r="1.35"/><circle cx="459.7" cy="187.3" r="1.35"/><circle cx="477.2" cy="243.4" r="1.35"/><circle cx="464.3" cy="273.3" r="1.35"/><circle cx="458.8" cy="222.2" r="1.35"/><circle cx="477.2" cy="210.2" r="1.35"/><circle cx="461.5" cy="282.4" r="1.35"/><circle cx="464.1" cy="255.1" r="1.35"/><circle cx="468.9" cy="217.0" r="1.35"/><circle cx="468.0" cy="232.9" r="1.35"/><circle cx="471.2" cy="261.1" r="1.35"/><circle cx="477.1" cy="265.0" r="1.35"/><circle cx="476.9" cy="219.8" r="1.35"/><circle cx="467.6" cy="207.2" r="1.35"/><circle cx="476.0" cy="194.2" r="1.35"/><circle cx="474.5" cy="189.3" r="1.35"/><circle cx="472.7" cy="236.5" r="1.35"/><circle cx="471.4" cy="194.5" r="1.35"/><circle cx="475.0" cy="263.4" r="1.35"/><circle cx="476.2" cy="222.7" r="1.35"/><circle cx="462.2" cy="238.3" r="1.35"/><circle cx="472.8" cy="260.6" r="1.35"/><circle cx="466.8" cy="244.5" r="1.35"/><circle cx="471.5" cy="242.7" r="1.35"/><circle cx="473.2" cy="212.8" r="1.35"/><circle cx="461.6" cy="210.6" r="1.35"/><circle cx="463.6" cy="249.4" r="1.35"/><circle cx="470.0" cy="273.3" r="1.35"/><circle cx="466.0" cy="231.0" r="1.35"/><circle cx="461.7" cy="274.1" r="1.35"/><circle cx="458.9" cy="185.4" r="1.35"/><circle cx="458.3" cy="204.9" r="1.35"/><circle cx="462.9" cy="282.8" r="1.35"/><circle cx="475.3" cy="191.0" r="1.35"/><circle cx="460.6" cy="253.5" r="1.35"/><circle cx="470.4" cy="227.3" r="1.35"/><circle cx="466.2" cy="259.1" r="1.35"/><circle cx="467.8" cy="256.3" r="1.35"/><circle cx="460.5" cy="242.8" r="1.35"/><circle cx="470.0" cy="272.1" r="1.35"/><circle cx="477.3" cy="265.6" r="1.35"/><circle cx="463.9" cy="186.2" r="1.35"/><circle cx="460.3" cy="218.2" r="1.35"/><circle cx="472.9" cy="228.4" r="1.35"/><circle cx="471.9" cy="266.3" r="1.35"/><circle cx="460.2" cy="212.9" r="1.35"/><circle cx="467.8" cy="238.4" r="1.35"/><circle cx="469.1" cy="256.8" r="1.35"/><circle cx="476.9" cy="246.2" r="1.35"/><circle cx="471.2" cy="241.3" r="1.35"/><circle cx="461.7" cy="261.0" r="1.35"/><circle cx="460.8" cy="207.3" r="1.35"/><circle cx="464.1" cy="235.6" r="1.35"/><circle cx="475.6" cy="217.8" r="1.35"/><circle cx="470.5" cy="226.1" r="1.35"/><circle cx="466.7" cy="282.4" r="1.35"/><circle cx="476.7" cy="233.1" r="1.35"/><circle cx="470.9" cy="232.7" r="1.35"/><circle cx="468.6" cy="219.8" r="1.35"/><circle cx="465.3" cy="230.7" r="1.35"/><circle cx="460.3" cy="204.8" r="1.35"/><circle cx="471.9" cy="261.7" r="1.35"/><circle cx="477.8" cy="196.8" r="1.35"/><circle cx="463.4" cy="199.6" r="1.35"/><circle cx="471.0" cy="212.0" r="1.35"/><circle cx="463.7" cy="187.1" r="1.35"/><circle cx="474.6" cy="278.8" r="1.35"/><circle cx="459.3" cy="232.0" r="1.35"/><circle cx="474.8" cy="272.1" r="1.35"/><circle cx="464.4" cy="186.3" r="1.35"/><circle cx="474.4" cy="255.2" r="1.35"/><circle cx="473.2" cy="240.4" r="1.35"/><circle cx="470.2" cy="188.5" r="1.35"/><circle cx="460.0" cy="261.5" r="1.35"/><circle cx="469.9" cy="221.8" r="1.35"/><circle cx="470.2" cy="192.8" r="1.35"/><circle cx="464.4" cy="215.3" r="1.35"/><circle cx="472.4" cy="236.0" r="1.35"/><circle cx="465.2" cy="218.5" r="1.35"/><circle cx="474.9" cy="267.9" r="1.35"/><circle cx="467.7" cy="239.2" r="1.35"/><circle cx="470.5" cy="233.8" r="1.35"/><circle cx="475.1" cy="259.8" r="1.35"/><circle cx="463.5" cy="201.0" r="1.35"/><circle cx="469.6" cy="269.9" r="1.35"/><circle cx="461.4" cy="207.1" r="1.35"/><circle cx="466.6" cy="197.4" r="1.35"/><circle cx="473.9" cy="190.2" r="1.35"/><circle cx="467.9" cy="250.8" r="1.35"/><circle cx="475.9" cy="238.7" r="1.35"/><circle cx="459.1" cy="265.7" r="1.35"/><circle cx="478.0" cy="245.9" r="1.35"/><circle cx="470.3" cy="221.2" r="1.35"/><circle cx="459.9" cy="243.7" r="1.35"/><circle cx="469.3" cy="247.6" r="1.35"/><circle cx="464.9" cy="193.5" r="1.35"/><circle cx="463.5" cy="276.2" r="1.35"/><circle cx="460.3" cy="218.1" r="1.35"/><circle cx="475.7" cy="259.4" r="1.35"/><circle cx="478.0" cy="193.1" r="1.35"/><circle cx="457.7" cy="203.5" r="1.35"/><circle cx="467.9" cy="252.1" r="1.35"/><circle cx="458.8" cy="246.5" r="1.35"/><circle cx="461.3" cy="282.0" r="1.35"/><circle cx="469.3" cy="194.8" r="1.35"/><circle cx="476.0" cy="232.4" r="1.35"/><circle cx="474.5" cy="237.5" r="1.35"/><circle cx="477.2" cy="209.8" r="1.35"/><circle cx="465.0" cy="196.7" r="1.35"/><circle cx="462.9" cy="221.2" r="1.35"/><circle cx="474.5" cy="237.0" r="1.35"/><circle cx="465.8" cy="200.6" r="1.35"/><circle cx="460.0" cy="223.1" r="1.35"/><circle cx="470.7" cy="270.5" r="1.35"/><circle cx="461.8" cy="271.5" r="1.35"/><circle cx="471.9" cy="196.9" r="1.35"/><circle cx="462.6" cy="280.0" r="1.35"/><circle cx="471.9" cy="274.0" r="1.35"/><circle cx="471.6" cy="257.6" r="1.35"/><circle cx="467.1" cy="225.0" r="1.35"/><circle cx="474.8" cy="199.3" r="1.35"/><circle cx="465.2" cy="239.3" r="1.35"/><circle cx="465.5" cy="258.9" r="1.35"/><circle cx="474.6" cy="199.4" r="1.35"/><circle cx="474.5" cy="213.7" r="1.35"/><circle cx="469.7" cy="231.2" r="1.35"/><circle cx="476.3" cy="224.3" r="1.35"/><circle cx="469.8" cy="266.5" r="1.35"/><circle cx="477.3" cy="204.2" r="1.35"/><circle cx="466.8" cy="275.5" r="1.35"/><circle cx="474.3" cy="269.8" r="1.35"/><circle cx="470.5" cy="220.2" r="1.35"/><circle cx="474.9" cy="216.6" r="1.35"/><circle cx="470.0" cy="202.3" r="1.35"/><circle cx="465.6" cy="227.6" r="1.35"/><circle cx="458.7" cy="190.8" r="1.35"/><circle cx="459.9" cy="218.8" r="1.35"/><circle cx="472.2" cy="195.2" r="1.35"/><circle cx="462.8" cy="281.3" r="1.35"/><circle cx="468.5" cy="242.2" r="1.35"/><circle cx="469.0" cy="233.8" r="1.35"/><circle cx="462.4" cy="246.4" r="1.35"/><circle cx="466.6" cy="270.0" r="1.35"/><circle cx="462.9" cy="200.4" r="1.35"/><circle cx="476.7" cy="236.8" r="1.35"/><circle cx="461.5" cy="262.4" r="1.35"/><circle cx="462.9" cy="256.2" r="1.35"/><circle cx="471.7" cy="211.0" r="1.35"/><circle cx="471.4" cy="231.8" r="1.35"/><circle cx="462.3" cy="220.7" r="1.35"/><circle cx="477.1" cy="253.2" r="1.35"/><circle cx="460.1" cy="248.0" r="1.35"/><circle cx="470.5" cy="250.2" r="1.35"/><circle cx="469.6" cy="217.5" r="1.35"/><circle cx="471.7" cy="228.7" r="1.35"/><circle cx="462.4" cy="196.6" r="1.35"/><circle cx="468.3" cy="245.8" r="1.35"/><circle cx="461.3" cy="280.3" r="1.35"/><circle cx="473.4" cy="191.9" r="1.35"/><circle cx="467.3" cy="205.5" r="1.35"/><circle cx="463.9" cy="193.9" r="1.35"/><circle cx="464.6" cy="264.4" r="1.35"/><circle cx="463.5" cy="241.7" r="1.35"/><circle cx="461.0" cy="193.2" r="1.35"/><circle cx="463.6" cy="183.5" r="1.35"/><circle cx="467.4" cy="254.8" r="1.35"/><circle cx="466.1" cy="203.9" r="1.35"/><circle cx="463.8" cy="266.9" r="1.35"/><circle cx="461.8" cy="215.1" r="1.35"/><circle cx="472.5" cy="206.4" r="1.35"/><circle cx="478.3" cy="198.3" r="1.35"/><circle cx="469.0" cy="240.4" r="1.35"/><circle cx="463.8" cy="262.7" r="1.35"/><circle cx="476.3" cy="231.7" r="1.35"/><circle cx="475.7" cy="265.3" r="1.35"/><circle cx="460.3" cy="194.9" r="1.35"/><circle cx="459.2" cy="189.1" r="1.35"/><circle cx="474.6" cy="220.5" r="1.35"/><circle cx="459.4" cy="238.2" r="1.35"/><circle cx="463.1" cy="185.0" r="1.35"/><circle cx="466.0" cy="267.6" r="1.35"/><circle cx="467.4" cy="282.1" r="1.35"/><circle cx="465.2" cy="231.9" r="1.35"/><circle cx="473.9" cy="228.6" r="1.35"/><circle cx="460.0" cy="255.3" r="1.35"/><circle cx="478.0" cy="217.8" r="1.35"/><circle cx="466.0" cy="212.8" r="1.35"/><circle cx="472.5" cy="232.2" r="1.35"/><circle cx="461.5" cy="275.2" r="1.35"/><circle cx="476.7" cy="190.0" r="1.35"/><circle cx="470.0" cy="198.3" r="1.35"/><circle cx="466.4" cy="190.2" r="1.35"/><circle cx="465.9" cy="235.7" r="1.35"/><circle cx="477.5" cy="219.8" r="1.35"/><circle cx="471.3" cy="194.3" r="1.35"/><circle cx="457.4" cy="220.4" r="1.35"/><circle cx="461.8" cy="218.9" r="1.35"/><circle cx="462.5" cy="276.7" r="1.35"/><circle cx="475.5" cy="251.1" r="1.35"/><circle cx="465.5" cy="272.1" r="1.35"/><circle cx="459.1" cy="266.5" r="1.35"/><circle cx="463.4" cy="185.5" r="1.35"/><circle cx="475.5" cy="230.0" r="1.35"/><circle cx="464.1" cy="223.5" r="1.35"/><circle cx="457.9" cy="192.4" r="1.35"/><circle cx="476.8" cy="228.0" r="1.35"/><circle cx="472.1" cy="215.3" r="1.35"/><circle cx="467.6" cy="264.2" r="1.35"/><circle cx="471.5" cy="222.3" r="1.35"/><circle cx="459.1" cy="191.1" r="1.35"/><circle cx="467.0" cy="238.2" r="1.35"/><circle cx="463.2" cy="221.8" r="1.35"/><circle cx="466.8" cy="267.9" r="1.35"/><circle cx="458.2" cy="199.0" r="1.35"/><circle cx="460.1" cy="229.4" r="1.35"/><circle cx="467.5" cy="252.1" r="1.35"/><circle cx="461.8" cy="223.2" r="1.35"/><circle cx="468.7" cy="263.8" r="1.35"/><circle cx="470.6" cy="199.1" r="1.35"/><circle cx="466.9" cy="220.7" r="1.35"/><circle cx="467.8" cy="283.6" r="1.35"/><circle cx="465.8" cy="238.6" r="1.35"/><circle cx="462.9" cy="206.0" r="1.35"/><circle cx="466.4" cy="274.2" r="1.35"/><circle cx="461.0" cy="185.0" r="1.35"/><circle cx="469.5" cy="218.5" r="1.35"/><circle cx="475.2" cy="260.4" r="1.35"/><circle cx="477.0" cy="254.4" r="1.35"/><circle cx="469.3" cy="249.8" r="1.35"/><circle cx="461.9" cy="215.5" r="1.35"/><circle cx="459.6" cy="222.7" r="1.35"/><circle cx="475.8" cy="216.2" r="1.35"/><circle cx="477.2" cy="200.7" r="1.35"/><circle cx="471.5" cy="204.8" r="1.35"/><circle cx="471.3" cy="263.4" r="1.35"/><circle cx="477.1" cy="260.8" r="1.35"/><circle cx="459.4" cy="252.6" r="1.35"/><circle cx="463.1" cy="233.7" r="1.35"/><circle cx="459.4" cy="226.9" r="1.35"/><circle cx="471.8" cy="192.1" r="1.35"/><circle cx="470.1" cy="273.8" r="1.35"/><circle cx="468.6" cy="214.6" r="1.35"/><circle cx="461.0" cy="229.2" r="1.35"/><circle cx="465.5" cy="253.5" r="1.35"/><circle cx="473.8" cy="254.0" r="1.35"/><circle cx="474.2" cy="263.7" r="1.35"/><circle cx="473.4" cy="206.5" r="1.35"/><circle cx="469.9" cy="221.5" r="1.35"/><circle cx="459.4" cy="252.7" r="1.35"/><circle cx="466.1" cy="237.9" r="1.35"/><circle cx="462.0" cy="278.7" r="1.35"/><circle cx="473.2" cy="225.3" r="1.35"/><circle cx="468.0" cy="247.2" r="1.35"/><circle cx="464.8" cy="250.6" r="1.35"/><circle cx="469.9" cy="222.8" r="1.35"/><circle cx="478.3" cy="192.7" r="1.35"/><circle cx="461.7" cy="267.9" r="1.35"/><circle cx="460.1" cy="224.6" r="1.35"/><circle cx="473.7" cy="281.0" r="1.35"/><circle cx="473.8" cy="276.4" r="1.35"/><circle cx="470.2" cy="238.8" r="1.35"/><circle cx="471.0" cy="209.6" r="1.35"/><circle cx="477.5" cy="203.5" r="1.35"/><circle cx="476.0" cy="221.0" r="1.35"/><circle cx="478.7" cy="202.8" r="1.35"/><circle cx="467.8" cy="233.5" r="1.35"/><circle cx="460.3" cy="230.8" r="1.35"/><circle cx="458.1" cy="209.8" r="1.35"/><circle cx="475.9" cy="252.0" r="1.35"/><circle cx="464.8" cy="248.8" r="1.35"/><circle cx="460.1" cy="250.0" r="1.35"/><circle cx="463.2" cy="207.2" r="1.35"/><circle cx="472.5" cy="245.2" r="1.35"/><circle cx="470.7" cy="251.3" r="1.35"/><circle cx="462.8" cy="201.3" r="1.35"/><circle cx="457.8" cy="196.5" r="1.35"/><circle cx="460.8" cy="264.5" r="1.35"/><circle cx="463.7" cy="221.0" r="1.35"/><circle cx="473.7" cy="282.7" r="1.35"/><circle cx="458.5" cy="242.2" r="1.35"/><circle cx="466.0" cy="199.2" r="1.35"/><circle cx="464.2" cy="263.0" r="1.35"/><circle cx="462.4" cy="239.4" r="1.35"/><circle cx="476.6" cy="271.3" r="1.35"/><circle cx="476.1" cy="226.1" r="1.35"/><circle cx="466.3" cy="251.4" r="1.35"/><circle cx="463.2" cy="230.3" r="1.35"/><circle cx="469.7" cy="246.7" r="1.35"/><circle cx="478.6" cy="241.3" r="1.35"/><circle cx="475.7" cy="230.1" r="1.35"/><circle cx="466.9" cy="276.1" r="1.35"/><circle cx="462.8" cy="212.1" r="1.35"/><circle cx="469.1" cy="191.8" r="1.35"/><circle cx="460.0" cy="234.8" r="1.35"/><circle cx="458.7" cy="184.5" r="1.35"/><circle cx="472.5" cy="275.0" r="1.35"/><circle cx="458.2" cy="211.5" r="1.35"/><circle cx="472.3" cy="247.9" r="1.35"/><circle cx="476.9" cy="250.2" r="1.35"/><circle cx="478.7" cy="211.1" r="1.35"/><circle cx="473.9" cy="242.5" r="1.35"/><circle cx="465.4" cy="256.4" r="1.35"/><circle cx="476.3" cy="241.4" r="1.35"/><circle cx="473.2" cy="223.7" r="1.35"/><circle cx="476.6" cy="220.8" r="1.35"/><circle cx="471.0" cy="243.2" r="1.35"/><circle cx="468.3" cy="277.3" r="1.35"/><circle cx="472.9" cy="242.5" r="1.35"/><circle cx="473.1" cy="255.1" r="1.35"/><circle cx="463.9" cy="213.5" r="1.35"/><circle cx="470.6" cy="194.8" r="1.35"/><circle cx="475.5" cy="261.5" r="1.35"/><circle cx="471.4" cy="215.3" r="1.35"/><circle cx="476.7" cy="256.3" r="1.35"/><circle cx="469.4" cy="210.1" r="1.35"/><circle cx="460.3" cy="266.6" r="1.35"/><circle cx="470.9" cy="205.1" r="1.35"/><circle cx="461.0" cy="231.6" r="1.35"/><circle cx="471.2" cy="260.8" r="1.35"/><circle cx="467.5" cy="206.5" r="1.35"/><circle cx="472.3" cy="193.7" r="1.35"/><circle cx="460.1" cy="219.4" r="1.35"/><circle cx="459.2" cy="255.0" r="1.35"/><circle cx="465.9" cy="227.4" r="1.35"/><circle cx="467.3" cy="198.6" r="1.35"/><circle cx="471.2" cy="189.7" r="1.35"/><circle cx="472.5" cy="265.7" r="1.35"/><circle cx="464.0" cy="196.0" r="1.35"/><circle cx="473.4" cy="247.3" r="1.35"/><circle cx="465.4" cy="211.3" r="1.35"/><circle cx="478.3" cy="189.2" r="1.35"/><circle cx="463.4" cy="230.8" r="1.35"/><circle cx="470.1" cy="207.1" r="1.35"/><circle cx="470.3" cy="191.9" r="1.35"/><circle cx="465.4" cy="255.5" r="1.35"/><circle cx="460.8" cy="196.1" r="1.35"/><circle cx="457.4" cy="225.1" r="1.35"/><circle cx="462.5" cy="266.7" r="1.35"/><circle cx="477.1" cy="260.8" r="1.35"/><circle cx="472.2" cy="240.5" r="1.35"/><circle cx="465.3" cy="209.9" r="1.35"/><circle cx="469.6" cy="205.7" r="1.35"/><circle cx="474.0" cy="191.5" r="1.35"/><circle cx="460.4" cy="238.3" r="1.35"/><circle cx="471.7" cy="274.9" r="1.35"/><circle cx="458.3" cy="232.7" r="1.35"/><circle cx="471.8" cy="224.1" r="1.35"/><circle cx="457.7" cy="190.2" r="1.35"/><circle cx="471.1" cy="190.4" r="1.35"/><circle cx="472.0" cy="233.5" r="1.35"/><circle cx="475.9" cy="200.0" r="1.35"/><circle cx="464.3" cy="231.8" r="1.35"/><circle cx="475.9" cy="196.7" r="1.35"/><circle cx="467.1" cy="240.3" r="1.35"/><circle cx="466.5" cy="216.1" r="1.35"/><circle cx="473.3" cy="235.6" r="1.35"/><circle cx="472.4" cy="260.8" r="1.35"/><circle cx="478.2" cy="232.2" r="1.35"/><circle cx="466.0" cy="277.5" r="1.35"/><circle cx="460.9" cy="276.3" r="1.35"/><circle cx="471.5" cy="235.4" r="1.35"/><circle cx="459.2" cy="197.2" r="1.35"/><circle cx="476.8" cy="210.6" r="1.35"/><circle cx="467.4" cy="225.3" r="1.35"/><circle cx="465.2" cy="225.1" r="1.35"/><circle cx="462.7" cy="275.4" r="1.35"/><circle cx="461.1" cy="265.0" r="1.35"/><circle cx="474.9" cy="267.1" r="1.35"/><circle cx="470.3" cy="215.0" r="1.35"/><circle cx="461.1" cy="219.5" r="1.35"/><circle cx="458.2" cy="209.2" r="1.35"/><circle cx="464.3" cy="192.3" r="1.35"/><circle cx="459.6" cy="192.7" r="1.35"/><circle cx="465.3" cy="278.2" r="1.35"/><circle cx="472.0" cy="246.4" r="1.35"/><circle cx="471.7" cy="262.5" r="1.35"/><circle cx="460.3" cy="277.1" r="1.35"/><circle cx="476.2" cy="239.5" r="1.35"/><circle cx="462.5" cy="252.8" r="1.35"/><circle cx="464.6" cy="196.2" r="1.35"/><circle cx="474.5" cy="200.2" r="1.35"/><circle cx="478.4" cy="201.1" r="1.35"/><circle cx="463.8" cy="265.0" r="1.35"/><circle cx="476.1" cy="222.6" r="1.35"/><circle cx="470.6" cy="280.1" r="1.35"/><circle cx="463.0" cy="208.4" r="1.35"/><circle cx="472.6" cy="193.0" r="1.35"/><circle cx="473.3" cy="210.5" r="1.35"/><circle cx="468.3" cy="239.5" r="1.35"/><circle cx="470.0" cy="238.5" r="1.35"/><circle cx="465.6" cy="254.3" r="1.35"/><circle cx="461.0" cy="272.2" r="1.35"/><circle cx="465.3" cy="261.9" r="1.35"/><circle cx="470.6" cy="227.9" r="1.35"/><circle cx="467.4" cy="235.7" r="1.35"/><circle cx="466.0" cy="239.5" r="1.35"/><circle cx="467.4" cy="269.4" r="1.35"/><circle cx="462.3" cy="259.8" r="1.35"/><circle cx="465.9" cy="270.3" r="1.35"/><circle cx="475.9" cy="188.0" r="1.35"/><circle cx="471.7" cy="200.3" r="1.35"/><circle cx="476.0" cy="242.7" r="1.35"/><circle cx="461.6" cy="247.8" r="1.35"/><circle cx="458.9" cy="254.1" r="1.35"/><circle cx="460.6" cy="212.4" r="1.35"/><circle cx="470.6" cy="249.6" r="1.35"/><circle cx="466.0" cy="209.7" r="1.35"/><circle cx="458.3" cy="217.8" r="1.35"/><circle cx="474.8" cy="278.9" r="1.35"/><circle cx="478.1" cy="188.9" r="1.35"/><circle cx="459.1" cy="219.0" r="1.35"/><circle cx="469.4" cy="185.3" r="1.35"/><circle cx="475.0" cy="254.5" r="1.35"/><circle cx="474.4" cy="224.6" r="1.35"/><circle cx="478.3" cy="193.1" r="1.35"/><circle cx="462.4" cy="247.4" r="1.35"/><circle cx="462.0" cy="268.9" r="1.35"/><circle cx="475.7" cy="263.6" r="1.35"/><circle cx="477.1" cy="247.4" r="1.35"/><circle cx="460.4" cy="214.9" r="1.35"/><circle cx="471.3" cy="253.9" r="1.35"/><circle cx="473.1" cy="207.5" r="1.35"/><circle cx="478.2" cy="237.7" r="1.35"/><circle cx="461.0" cy="279.3" r="1.35"/><circle cx="472.1" cy="252.4" r="1.35"/><circle cx="469.2" cy="256.5" r="1.35"/><circle cx="472.0" cy="202.8" r="1.35"/><circle cx="467.4" cy="256.7" r="1.35"/><circle cx="477.6" cy="204.4" r="1.35"/><circle cx="469.7" cy="187.3" r="1.35"/><circle cx="460.2" cy="220.2" r="1.35"/><circle cx="476.9" cy="212.0" r="1.35"/><circle cx="459.6" cy="191.1" r="1.35"/><circle cx="469.3" cy="222.6" r="1.35"/><circle cx="471.0" cy="222.6" r="1.35"/><circle cx="468.6" cy="223.0" r="1.35"/><circle cx="462.8" cy="258.7" r="1.35"/><circle cx="464.3" cy="261.8" r="1.35"/><circle cx="475.8" cy="205.8" r="1.35"/><circle cx="465.1" cy="208.0" r="1.35"/><circle cx="466.5" cy="277.4" r="1.35"/><circle cx="472.7" cy="191.1" r="1.35"/><circle cx="475.5" cy="269.0" r="1.35"/><circle cx="478.1" cy="262.3" r="1.35"/><circle cx="462.5" cy="259.2" r="1.35"/><circle cx="472.0" cy="224.2" r="1.35"/><circle cx="468.1" cy="273.8" r="1.35"/><circle cx="468.8" cy="220.5" r="1.35"/><circle cx="458.6" cy="200.1" r="1.35"/><circle cx="469.2" cy="212.6" r="1.35"/><circle cx="477.3" cy="244.7" r="1.35"/><circle cx="463.1" cy="249.4" r="1.35"/><circle cx="460.7" cy="258.6" r="1.35"/><circle cx="465.6" cy="256.4" r="1.35"/><circle cx="468.9" cy="229.2" r="1.35"/><circle cx="472.6" cy="199.5" r="1.35"/><circle cx="472.6" cy="278.1" r="1.35"/><circle cx="476.1" cy="248.0" r="1.35"/><circle cx="468.6" cy="246.0" r="1.35"/><circle cx="460.4" cy="227.3" r="1.35"/><circle cx="477.0" cy="218.5" r="1.35"/><circle cx="462.4" cy="235.2" r="1.35"/><circle cx="475.5" cy="273.5" r="1.35"/><circle cx="458.6" cy="228.3" r="1.35"/><circle cx="469.3" cy="251.9" r="1.35"/><circle cx="458.7" cy="218.6" r="1.35"/><circle cx="465.0" cy="244.4" r="1.35"/><circle cx="464.9" cy="213.4" r="1.35"/><circle cx="460.5" cy="250.3" r="1.35"/><circle cx="463.4" cy="201.7" r="1.35"/><circle cx="477.9" cy="220.8" r="1.35"/><circle cx="462.9" cy="189.6" r="1.35"/><circle cx="468.5" cy="216.2" r="1.35"/><circle cx="470.0" cy="213.0" r="1.35"/><circle cx="467.3" cy="193.6" r="1.35"/><circle cx="473.6" cy="224.5" r="1.35"/><circle cx="460.8" cy="250.3" r="1.35"/><circle cx="470.5" cy="245.8" r="1.35"/><circle cx="478.3" cy="225.9" r="1.35"/><circle cx="466.0" cy="232.9" r="1.35"/><circle cx="458.3" cy="233.5" r="1.35"/><circle cx="462.5" cy="214.9" r="1.35"/><circle cx="463.7" cy="256.2" r="1.35"/><circle cx="463.8" cy="226.7" r="1.35"/><circle cx="477.0" cy="226.7" r="1.35"/><circle cx="466.9" cy="204.6" r="1.35"/><circle cx="478.5" cy="239.1" r="1.35"/><circle cx="464.5" cy="186.3" r="1.35"/><circle cx="471.0" cy="221.8" r="1.35"/><circle cx="463.0" cy="203.3" r="1.35"/><circle cx="474.2" cy="275.3" r="1.35"/><circle cx="468.8" cy="275.7" r="1.35"/><circle cx="471.4" cy="217.0" r="1.35"/><circle cx="472.9" cy="263.0" r="1.35"/><circle cx="471.5" cy="221.0" r="1.35"/><circle cx="474.1" cy="219.6" r="1.35"/><circle cx="464.7" cy="209.8" r="1.35"/><circle cx="459.0" cy="218.8" r="1.35"/><circle cx="461.5" cy="211.3" r="1.35"/><circle cx="465.7" cy="280.7" r="1.35"/><circle cx="462.4" cy="260.8" r="1.35"/><circle cx="471.3" cy="273.2" r="1.35"/><circle cx="462.6" cy="278.4" r="1.35"/><circle cx="461.4" cy="226.8" r="1.35"/><circle cx="462.0" cy="275.7" r="1.35"/><circle cx="461.5" cy="273.0" r="1.35"/><circle cx="462.6" cy="274.5" r="1.35"/><circle cx="475.0" cy="257.7" r="1.35"/><circle cx="462.4" cy="256.0" r="1.35"/><circle cx="471.0" cy="216.8" r="1.35"/><circle cx="471.7" cy="276.2" r="1.35"/><circle cx="464.0" cy="198.0" r="1.35"/><circle cx="464.0" cy="240.3" r="1.35"/><circle cx="461.8" cy="266.7" r="1.35"/><circle cx="477.2" cy="241.9" r="1.35"/><circle cx="467.9" cy="229.8" r="1.35"/><circle cx="460.7" cy="207.3" r="1.35"/><circle cx="468.2" cy="234.3" r="1.35"/><circle cx="468.7" cy="227.4" r="1.35"/><circle cx="476.4" cy="197.7" r="1.35"/><circle cx="460.3" cy="278.8" r="1.35"/><circle cx="470.1" cy="245.5" r="1.35"/><circle cx="467.3" cy="225.4" r="1.35"/><circle cx="464.4" cy="236.6" r="1.35"/><circle cx="478.6" cy="200.1" r="1.35"/><circle cx="467.7" cy="267.7" r="1.35"/><circle cx="459.2" cy="249.0" r="1.35"/><circle cx="470.5" cy="238.7" r="1.35"/><circle cx="475.9" cy="193.8" r="1.35"/><circle cx="461.3" cy="276.6" r="1.35"/><circle cx="478.8" cy="193.2" r="1.35"/><circle cx="472.1" cy="190.4" r="1.35"/><circle cx="472.6" cy="230.9" r="1.35"/><circle cx="471.6" cy="239.4" r="1.35"/><circle cx="475.8" cy="268.3" r="1.35"/><circle cx="476.7" cy="268.9" r="1.35"/><circle cx="461.3" cy="201.8" r="1.35"/><circle cx="472.7" cy="238.4" r="1.35"/><circle cx="465.7" cy="272.0" r="1.35"/><circle cx="466.8" cy="194.2" r="1.35"/><circle cx="463.9" cy="282.0" r="1.35"/><circle cx="474.5" cy="269.0" r="1.35"/><circle cx="462.2" cy="265.1" r="1.35"/><circle cx="471.0" cy="249.8" r="1.35"/><circle cx="466.9" cy="281.6" r="1.35"/><circle cx="464.9" cy="208.8" r="1.35"/><circle cx="460.9" cy="259.2" r="1.35"/><circle cx="475.6" cy="267.4" r="1.35"/><circle cx="465.9" cy="197.7" r="1.35"/><circle cx="462.8" cy="182.9" r="1.35"/><circle cx="472.7" cy="206.5" r="1.35"/><circle cx="469.5" cy="282.0" r="1.35"/><circle cx="461.7" cy="210.3" r="1.35"/><circle cx="462.2" cy="187.0" r="1.35"/><circle cx="469.6" cy="238.5" r="1.35"/><circle cx="470.4" cy="282.1" r="1.35"/><circle cx="469.8" cy="244.7" r="1.35"/><circle cx="468.6" cy="244.2" r="1.35"/><circle cx="464.8" cy="232.8" r="1.35"/><circle cx="467.6" cy="236.2" r="1.35"/><circle cx="461.7" cy="243.7" r="1.35"/><circle cx="462.8" cy="212.9" r="1.35"/><circle cx="463.4" cy="263.2" r="1.35"/><circle cx="460.0" cy="245.6" r="1.35"/><circle cx="461.6" cy="252.6" r="1.35"/><circle cx="476.6" cy="226.0" r="1.35"/><circle cx="470.1" cy="218.8" r="1.35"/><circle cx="461.5" cy="270.0" r="1.35"/><circle cx="472.8" cy="213.0" r="1.35"/><circle cx="474.6" cy="275.4" r="1.35"/><circle cx="473.5" cy="255.4" r="1.35"/><circle cx="470.3" cy="275.0" r="1.35"/><circle cx="473.9" cy="274.2" r="1.35"/><circle cx="475.4" cy="257.5" r="1.35"/><circle cx="470.4" cy="209.6" r="1.35"/><circle cx="462.0" cy="277.0" r="1.35"/><circle cx="475.1" cy="206.8" r="1.35"/><circle cx="473.0" cy="225.1" r="1.35"/><circle cx="477.9" cy="248.5" r="1.35"/><circle cx="469.4" cy="188.5" r="1.35"/><circle cx="477.1" cy="192.4" r="1.35"/><circle cx="462.6" cy="248.7" r="1.35"/><circle cx="472.4" cy="278.1" r="1.35"/><circle cx="475.0" cy="220.5" r="1.35"/><circle cx="473.4" cy="196.5" r="1.35"/><circle cx="471.3" cy="278.4" r="1.35"/><circle cx="460.0" cy="243.5" r="1.35"/><circle cx="460.4" cy="254.9" r="1.35"/><circle cx="478.2" cy="226.3" r="1.35"/><circle cx="458.1" cy="228.5" r="1.35"/><circle cx="462.7" cy="195.8" r="1.35"/><circle cx="462.2" cy="202.0" r="1.35"/><circle cx="477.2" cy="210.3" r="1.35"/><circle cx="459.8" cy="196.0" r="1.35"/><circle cx="473.4" cy="225.6" r="1.35"/><circle cx="465.3" cy="254.7" r="1.35"/><circle cx="471.2" cy="229.0" r="1.35"/><circle cx="470.9" cy="212.7" r="1.35"/><circle cx="466.4" cy="251.6" r="1.35"/><circle cx="465.2" cy="214.3" r="1.35"/><circle cx="468.0" cy="253.0" r="1.35"/><circle cx="473.7" cy="261.7" r="1.35"/><circle cx="461.9" cy="250.8" r="1.35"/><circle cx="458.8" cy="241.5" r="1.35"/><circle cx="460.0" cy="226.1" r="1.35"/><circle cx="458.9" cy="198.7" r="1.35"/><circle cx="467.3" cy="235.3" r="1.35"/><circle cx="476.7" cy="202.0" r="1.35"/><circle cx="477.2" cy="205.1" r="1.35"/><circle cx="465.5" cy="281.7" r="1.35"/><circle cx="466.9" cy="267.2" r="1.35"/><circle cx="476.9" cy="192.0" r="1.35"/><circle cx="468.4" cy="219.8" r="1.35"/><circle cx="458.0" cy="226.6" r="1.35"/><circle cx="463.1" cy="258.3" r="1.35"/><circle cx="464.3" cy="224.6" r="1.35"/><circle cx="466.4" cy="283.7" r="1.35"/><circle cx="472.5" cy="220.7" r="1.35"/><circle cx="464.1" cy="226.3" r="1.35"/><circle cx="478.4" cy="243.3" r="1.35"/><circle cx="478.9" cy="201.8" r="1.35"/><circle cx="468.5" cy="256.5" r="1.35"/><circle cx="475.8" cy="191.0" r="1.35"/><circle cx="465.7" cy="272.5" r="1.35"/><circle cx="470.7" cy="195.0" r="1.35"/><circle cx="466.1" cy="233.2" r="1.35"/><circle cx="467.4" cy="282.0" r="1.35"/><circle cx="468.4" cy="235.9" r="1.35"/><circle cx="467.0" cy="246.8" r="1.35"/><circle cx="461.2" cy="240.8" r="1.35"/><circle cx="458.3" cy="209.1" r="1.35"/><circle cx="468.5" cy="212.6" r="1.35"/><circle cx="466.7" cy="255.5" r="1.35"/><circle cx="460.3" cy="249.5" r="1.35"/><circle cx="465.0" cy="247.7" r="1.35"/><circle cx="458.7" cy="256.5" r="1.35"/><circle cx="474.0" cy="203.4" r="1.35"/><circle cx="465.1" cy="244.1" r="1.35"/><circle cx="471.8" cy="245.7" r="1.35"/><circle cx="474.0" cy="270.2" r="1.35"/><circle cx="475.3" cy="191.6" r="1.35"/><circle cx="468.7" cy="255.6" r="1.35"/><circle cx="475.4" cy="236.2" r="1.35"/><circle cx="471.2" cy="282.2" r="1.35"/><circle cx="474.5" cy="210.1" r="1.35"/><circle cx="478.4" cy="251.9" r="1.35"/><circle cx="463.3" cy="209.3" r="1.35"/><circle cx="466.6" cy="234.0" r="1.35"/><circle cx="476.3" cy="228.4" r="1.35"/><circle cx="473.1" cy="215.5" r="1.35"/><circle cx="467.3" cy="214.4" r="1.35"/><circle cx="465.4" cy="254.1" r="1.35"/><circle cx="461.6" cy="231.9" r="1.35"/><circle cx="465.8" cy="261.9" r="1.35"/><circle cx="471.8" cy="266.4" r="1.35"/><circle cx="462.2" cy="245.1" r="1.35"/><circle cx="463.4" cy="188.9" r="1.35"/><circle cx="474.9" cy="211.7" r="1.35"/><circle cx="473.6" cy="261.7" r="1.35"/><circle cx="475.3" cy="210.7" r="1.35"/><circle cx="475.2" cy="205.9" r="1.35"/><circle cx="474.8" cy="186.7" r="1.35"/><circle cx="473.2" cy="247.1" r="1.35"/><circle cx="473.0" cy="265.6" r="1.35"/><circle cx="466.2" cy="218.9" r="1.35"/><circle cx="471.9" cy="200.1" r="1.35"/><circle cx="469.4" cy="205.3" r="1.35"/><circle cx="461.0" cy="260.0" r="1.35"/><circle cx="469.2" cy="262.5" r="1.35"/><circle cx="471.9" cy="270.2" r="1.35"/><circle cx="475.8" cy="201.1" r="1.35"/><circle cx="471.8" cy="188.4" r="1.35"/><circle cx="457.7" cy="228.9" r="1.35"/><circle cx="476.4" cy="229.4" r="1.35"/><circle cx="458.5" cy="212.9" r="1.35"/><circle cx="469.6" cy="208.6" r="1.35"/><circle cx="472.8" cy="224.4" r="1.35"/><circle cx="475.1" cy="188.7" r="1.35"/><circle cx="475.7" cy="275.7" r="1.35"/><circle cx="462.1" cy="205.2" r="1.35"/><circle cx="477.2" cy="223.9" r="1.35"/><circle cx="465.5" cy="242.0" r="1.35"/><circle cx="469.2" cy="266.2" r="1.35"/><circle cx="472.1" cy="254.8" r="1.35"/><circle cx="466.3" cy="234.5" r="1.35"/><circle cx="476.5" cy="271.9" r="1.35"/><circle cx="470.7" cy="242.7" r="1.35"/><circle cx="463.3" cy="230.9" r="1.35"/><circle cx="460.7" cy="231.5" r="1.35"/><circle cx="457.4" cy="207.3" r="1.35"/><circle cx="462.8" cy="230.2" r="1.35"/><circle cx="472.4" cy="190.4" r="1.35"/><circle cx="471.4" cy="262.2" r="1.35"/><circle cx="460.0" cy="194.7" r="1.35"/><circle cx="465.5" cy="184.1" r="1.35"/><circle cx="458.8" cy="218.5" r="1.35"/><circle cx="460.6" cy="265.9" r="1.35"/><circle cx="478.3" cy="196.1" r="1.35"/><circle cx="475.1" cy="232.6" r="1.35"/><circle cx="459.0" cy="211.1" r="1.35"/><circle cx="466.7" cy="282.1" r="1.35"/><circle cx="461.1" cy="250.0" r="1.35"/><circle cx="473.0" cy="272.3" r="1.35"/><circle cx="472.2" cy="219.7" r="1.35"/><circle cx="466.6" cy="230.4" r="1.35"/><circle cx="470.1" cy="236.4" r="1.35"/><circle cx="464.7" cy="246.2" r="1.35"/><circle cx="463.5" cy="227.4" r="1.35"/><circle cx="471.3" cy="200.0" r="1.35"/><circle cx="476.0" cy="268.8" r="1.35"/><circle cx="464.3" cy="233.7" r="1.35"/><circle cx="478.1" cy="229.9" r="1.35"/><circle cx="467.7" cy="235.9" r="1.35"/><circle cx="464.4" cy="225.3" r="1.35"/><circle cx="468.8" cy="272.8" r="1.35"/><circle cx="467.6" cy="239.2" r="1.35"/><circle cx="473.0" cy="264.7" r="1.35"/><circle cx="470.4" cy="256.0" r="1.35"/><circle cx="458.9" cy="258.4" r="1.35"/><circle cx="461.3" cy="273.3" r="1.35"/><circle cx="476.9" cy="246.6" r="1.35"/><circle cx="457.8" cy="232.6" r="1.35"/><circle cx="460.8" cy="182.4" r="1.35"/><circle cx="476.2" cy="210.3" r="1.35"/><circle cx="471.2" cy="187.3" r="1.35"/><circle cx="470.9" cy="254.9" r="1.35"/><circle cx="470.8" cy="231.0" r="1.35"/><circle cx="473.7" cy="203.9" r="1.35"/><circle cx="472.2" cy="210.4" r="1.35"/><circle cx="457.6" cy="219.7" r="1.35"/><circle cx="474.1" cy="197.6" r="1.35"/><circle cx="474.6" cy="217.9" r="1.35"/><circle cx="460.0" cy="250.6" r="1.35"/><circle cx="477.9" cy="208.3" r="1.35"/><circle cx="472.5" cy="273.3" r="1.35"/><circle cx="463.0" cy="184.5" r="1.35"/><circle cx="468.0" cy="281.5" r="1.35"/><circle cx="464.3" cy="207.7" r="1.35"/><circle cx="459.8" cy="182.2" r="1.35"/><circle cx="458.0" cy="188.7" r="1.35"/><circle cx="477.3" cy="254.5" r="1.35"/><circle cx="460.4" cy="225.9" r="1.35"/><circle cx="466.8" cy="271.6" r="1.35"/><circle cx="457.3" cy="223.9" r="1.35"/><circle cx="471.3" cy="234.7" r="1.35"/><circle cx="460.5" cy="210.4" r="1.35"/><circle cx="469.0" cy="196.2" r="1.35"/><circle cx="478.3" cy="206.9" r="1.35"/><circle cx="476.3" cy="200.8" r="1.35"/><circle cx="468.0" cy="266.9" r="1.35"/><circle cx="471.9" cy="194.3" r="1.35"/><circle cx="462.2" cy="220.6" r="1.35"/><circle cx="468.1" cy="282.4" r="1.35"/><circle cx="464.4" cy="218.3" r="1.35"/><circle cx="468.9" cy="204.2" r="1.35"/><circle cx="474.0" cy="276.8" r="1.35"/><circle cx="463.9" cy="261.0" r="1.35"/><circle cx="473.4" cy="262.5" r="1.35"/><circle cx="472.0" cy="238.0" r="1.35"/><circle cx="462.8" cy="225.0" r="1.35"/><circle cx="458.8" cy="247.4" r="1.35"/><circle cx="458.7" cy="214.8" r="1.35"/><circle cx="460.7" cy="200.8" r="1.35"/><circle cx="474.6" cy="214.8" r="1.35"/><circle cx="466.9" cy="282.2" r="1.35"/><circle cx="477.8" cy="248.6" r="1.35"/><circle cx="472.7" cy="256.5" r="1.35"/><circle cx="469.1" cy="273.3" r="1.35"/><circle cx="476.7" cy="259.7" r="1.35"/><circle cx="473.0" cy="229.3" r="1.35"/><circle cx="464.1" cy="282.4" r="1.35"/><circle cx="469.9" cy="279.6" r="1.35"/><circle cx="461.3" cy="197.6" r="1.35"/><circle cx="473.7" cy="250.7" r="1.35"/><circle cx="466.0" cy="234.9" r="1.35"/><circle cx="478.3" cy="252.1" r="1.35"/><circle cx="469.2" cy="209.7" r="1.35"/><circle cx="460.1" cy="220.2" r="1.35"/><circle cx="463.3" cy="254.9" r="1.35"/><circle cx="462.8" cy="211.9" r="1.35"/><circle cx="470.4" cy="270.0" r="1.35"/><circle cx="463.3" cy="209.8" r="1.35"/><circle cx="467.5" cy="261.8" r="1.35"/><circle cx="472.5" cy="274.1" r="1.35"/><circle cx="462.5" cy="235.5" r="1.35"/><circle cx="462.8" cy="222.9" r="1.35"/><circle cx="473.2" cy="236.0" r="1.35"/><circle cx="474.6" cy="240.0" r="1.35"/><circle cx="472.2" cy="193.6" r="1.35"/><circle cx="469.8" cy="252.3" r="1.35"/><circle cx="471.2" cy="263.4" r="1.35"/><circle cx="461.0" cy="186.6" r="1.35"/><circle cx="466.1" cy="262.7" r="1.35"/><circle cx="474.1" cy="221.2" r="1.35"/><circle cx="473.9" cy="262.2" r="1.35"/><circle cx="475.1" cy="281.9" r="1.35"/><circle cx="467.1" cy="257.4" r="1.35"/><circle cx="478.0" cy="210.8" r="1.35"/><circle cx="472.0" cy="194.6" r="1.35"/><circle cx="460.6" cy="189.7" r="1.35"/><circle cx="467.6" cy="258.8" r="1.35"/><circle cx="462.5" cy="200.5" r="1.35"/><circle cx="470.1" cy="229.1" r="1.35"/><circle cx="477.8" cy="246.9" r="1.35"/><circle cx="467.6" cy="206.9" r="1.35"/><circle cx="476.1" cy="213.2" r="1.35"/><circle cx="475.5" cy="254.0" r="1.35"/><circle cx="471.5" cy="243.4" r="1.35"/><circle cx="473.0" cy="197.7" r="1.35"/><circle cx="459.3" cy="183.7" r="1.35"/><circle cx="460.9" cy="191.5" r="1.35"/><circle cx="461.5" cy="183.5" r="1.35"/><circle cx="458.5" cy="199.0" r="1.35"/><circle cx="465.7" cy="182.2" r="1.35"/><circle cx="463.9" cy="184.4" r="1.35"/><circle cx="458.3" cy="181.8" r="1.35"/><circle cx="464.5" cy="192.3" r="1.35"/><circle cx="462.1" cy="184.0" r="1.35"/><circle cx="465.3" cy="183.2" r="1.35"/><circle cx="463.0" cy="182.7" r="1.35"/><circle cx="459.9" cy="198.9" r="1.35"/><circle cx="462.3" cy="194.6" r="1.35"/><circle cx="465.6" cy="197.2" r="1.35"/><circle cx="462.1" cy="190.0" r="1.35"/><circle cx="464.3" cy="195.4" r="1.35"/><circle cx="466.3" cy="186.6" r="1.35"/><circle cx="460.2" cy="190.1" r="1.35"/><circle cx="461.5" cy="187.9" r="1.35"/><circle cx="461.0" cy="190.0" r="1.35"/><circle cx="466.6" cy="189.2" r="1.35"/><circle cx="460.3" cy="199.9" r="1.35"/><circle cx="461.3" cy="186.2" r="1.35"/><circle cx="460.0" cy="184.6" r="1.35"/><circle cx="461.7" cy="189.7" r="1.35"/><circle cx="462.6" cy="181.6" r="1.35"/><circle cx="466.4" cy="189.5" r="1.35"/><circle cx="463.6" cy="197.0" r="1.35"/><circle cx="459.0" cy="190.5" r="1.35"/><circle cx="466.2" cy="192.9" r="1.35"/><circle cx="466.2" cy="199.3" r="1.35"/><circle cx="461.0" cy="194.8" r="1.35"/><circle cx="460.0" cy="183.6" r="1.35"/><circle cx="459.0" cy="187.9" r="1.35"/><circle cx="466.6" cy="186.1" r="1.35"/><circle cx="464.2" cy="194.9" r="1.35"/><circle cx="462.5" cy="183.2" r="1.35"/><circle cx="466.1" cy="189.8" r="1.35"/><circle cx="460.7" cy="193.4" r="1.35"/><circle cx="458.9" cy="185.2" r="1.35"/><circle cx="463.5" cy="190.0" r="1.35"/><circle cx="466.3" cy="188.0" r="1.35"/><circle cx="462.8" cy="195.0" r="1.35"/><circle cx="463.8" cy="187.9" r="1.35"/><circle cx="464.5" cy="193.8" r="1.35"/><circle cx="461.5" cy="186.3" r="1.35"/><circle cx="459.2" cy="184.7" r="1.35"/><circle cx="460.3" cy="186.2" r="1.35"/><circle cx="462.2" cy="185.7" r="1.35"/><circle cx="464.4" cy="187.7" r="1.35"/><circle cx="464.3" cy="185.2" r="1.35"/><circle cx="462.4" cy="197.8" r="1.35"/><circle cx="458.7" cy="196.1" r="1.35"/><circle cx="458.8" cy="185.2" r="1.35"/><circle cx="461.3" cy="189.9" r="1.35"/><circle cx="460.0" cy="189.7" r="1.35"/><circle cx="464.7" cy="180.7" r="1.35"/><circle cx="459.7" cy="198.8" r="1.35"/><circle cx="461.1" cy="194.8" r="1.35"/><circle cx="463.3" cy="194.8" r="1.35"/><circle cx="466.7" cy="195.1" r="1.35"/><circle cx="465.7" cy="185.6" r="1.35"/><circle cx="465.0" cy="184.1" r="1.35"/><circle cx="459.8" cy="183.2" r="1.35"/><circle cx="459.8" cy="188.6" r="1.35"/><circle cx="458.3" cy="196.1" r="1.35"/><circle cx="463.0" cy="186.9" r="1.35"/><circle cx="466.6" cy="196.0" r="1.35"/><circle cx="459.7" cy="190.7" r="1.35"/><circle cx="463.4" cy="184.6" r="1.35"/><circle cx="465.5" cy="182.9" r="1.35"/><circle cx="464.4" cy="196.8" r="1.35"/><circle cx="462.0" cy="199.4" r="1.35"/><circle cx="459.8" cy="199.2" r="1.35"/><circle cx="462.7" cy="185.1" r="1.35"/><circle cx="458.1" cy="197.8" r="1.35"/><circle cx="461.3" cy="197.1" r="1.35"/><circle cx="465.5" cy="197.3" r="1.35"/><circle cx="463.0" cy="197.7" r="1.35"/><circle cx="460.7" cy="182.4" r="1.35"/><circle cx="463.7" cy="187.1" r="1.35"/><circle cx="462.3" cy="186.8" r="1.35"/><circle cx="463.5" cy="187.2" r="1.35"/><circle cx="461.4" cy="183.1" r="1.35"/><circle cx="460.5" cy="197.6" r="1.35"/><circle cx="464.8" cy="189.7" r="1.35"/><circle cx="462.1" cy="193.9" r="1.35"/><circle cx="465.6" cy="181.5" r="1.35"/><circle cx="465.0" cy="198.4" r="1.35"/><circle cx="465.8" cy="195.3" r="1.35"/><circle cx="462.2" cy="197.5" r="1.35"/><circle cx="462.0" cy="187.8" r="1.35"/><circle cx="459.7" cy="182.7" r="1.35"/><circle cx="464.5" cy="193.8" r="1.35"/><circle cx="463.1" cy="193.9" r="1.35"/><circle cx="461.3" cy="183.1" r="1.35"/><circle cx="466.4" cy="199.0" r="1.35"/><circle cx="461.3" cy="185.9" r="1.35"/><circle cx="461.2" cy="183.7" r="1.35"/><circle cx="460.5" cy="189.0" r="1.35"/><circle cx="458.7" cy="198.1" r="1.35"/><circle cx="458.6" cy="188.8" r="1.35"/><circle cx="464.7" cy="187.2" r="1.35"/><circle cx="463.1" cy="182.0" r="1.35"/><circle cx="463.0" cy="191.4" r="1.35"/><circle cx="463.4" cy="190.0" r="1.35"/><circle cx="460.3" cy="185.3" r="1.35"/><circle cx="459.5" cy="195.5" r="1.35"/><circle cx="465.9" cy="196.5" r="1.35"/><circle cx="460.5" cy="191.4" r="1.35"/><circle cx="462.5" cy="188.7" r="1.35"/><circle cx="466.3" cy="193.9" r="1.35"/><circle cx="459.8" cy="188.5" r="1.35"/><circle cx="466.4" cy="186.2" r="1.35"/><circle cx="460.2" cy="184.2" r="1.35"/><circle cx="463.4" cy="180.6" r="1.35"/><circle cx="465.3" cy="189.4" r="1.35"/><circle cx="463.7" cy="192.8" r="1.35"/><circle cx="462.0" cy="193.7" r="1.35"/><circle cx="458.2" cy="185.9" r="1.35"/><circle cx="458.1" cy="187.9" r="1.35"/><circle cx="461.3" cy="184.3" r="1.35"/><circle cx="461.3" cy="190.4" r="1.35"/><circle cx="464.6" cy="184.3" r="1.35"/><circle cx="461.1" cy="186.3" r="1.35"/><circle cx="458.6" cy="184.5" r="1.35"/><circle cx="462.0" cy="195.1" r="1.35"/><circle cx="465.7" cy="191.1" r="1.35"/><circle cx="463.1" cy="197.6" r="1.35"/><circle cx="462.8" cy="198.9" r="1.35"/><circle cx="462.1" cy="197.6" r="1.35"/><circle cx="462.4" cy="185.3" r="1.35"/><circle cx="461.4" cy="183.2" r="1.35"/><circle cx="462.0" cy="184.6" r="1.35"/><circle cx="461.8" cy="181.8" r="1.35"/><circle cx="466.7" cy="191.4" r="1.35"/><circle cx="463.8" cy="199.9" r="1.35"/><circle cx="464.6" cy="189.1" r="1.35"/><circle cx="464.1" cy="198.4" r="1.35"/><circle cx="463.4" cy="183.8" r="1.35"/><circle cx="466.1" cy="190.0" r="1.35"/><circle cx="466.5" cy="193.3" r="1.35"/><circle cx="464.1" cy="180.9" r="1.35"/><circle cx="462.1" cy="184.3" r="1.35"/><circle cx="466.8" cy="196.9" r="1.35"/><circle cx="465.6" cy="184.4" r="1.35"/><circle cx="460.7" cy="182.6" r="1.35"/><circle cx="466.6" cy="184.4" r="1.35"/><circle cx="465.1" cy="182.1" r="1.35"/><circle cx="464.3" cy="190.5" r="1.35"/><circle cx="462.1" cy="181.7" r="1.35"/><circle cx="460.4" cy="160.7" r="1.35"/><circle cx="459.1" cy="165.3" r="1.35"/><circle cx="462.6" cy="134.2" r="1.35"/><circle cx="463.9" cy="145.6" r="1.35"/><circle cx="464.1" cy="161.2" r="1.35"/><circle cx="463.0" cy="174.4" r="1.35"/><circle cx="460.1" cy="180.2" r="1.35"/><circle cx="459.4" cy="161.1" r="1.35"/><circle cx="463.7" cy="168.1" r="1.35"/><circle cx="461.9" cy="176.4" r="1.35"/><circle cx="461.0" cy="177.8" r="1.35"/><circle cx="463.2" cy="150.5" r="1.35"/><circle cx="459.1" cy="177.5" r="1.35"/><circle cx="461.4" cy="158.5" r="1.35"/><circle cx="459.3" cy="130.5" r="1.35"/><circle cx="464.5" cy="173.1" r="1.35"/><circle cx="460.1" cy="161.4" r="1.35"/><circle cx="461.2" cy="180.1" r="1.35"/><circle cx="463.5" cy="137.8" r="1.35"/><circle cx="462.9" cy="167.6" r="1.35"/><circle cx="460.3" cy="152.1" r="1.35"/><circle cx="462.3" cy="143.6" r="1.35"/><circle cx="463.1" cy="148.4" r="1.35"/><circle cx="463.8" cy="177.3" r="1.35"/><circle cx="462.6" cy="130.6" r="1.35"/><circle cx="460.4" cy="132.1" r="1.35"/><circle cx="462.0" cy="147.5" r="1.35"/><circle cx="460.0" cy="131.4" r="1.35"/><circle cx="458.8" cy="178.1" r="1.35"/><circle cx="461.6" cy="150.0" r="1.35"/><circle cx="460.4" cy="136.2" r="1.35"/><circle cx="460.6" cy="164.0" r="1.35"/><circle cx="464.5" cy="160.9" r="1.35"/><circle cx="462.8" cy="135.3" r="1.35"/><circle cx="461.0" cy="129.8" r="1.35"/><circle cx="464.5" cy="168.4" r="1.35"/><circle cx="462.5" cy="156.2" r="1.35"/><circle cx="459.3" cy="157.4" r="1.35"/><circle cx="462.0" cy="134.9" r="1.35"/><circle cx="460.2" cy="175.5" r="1.35"/><circle cx="462.5" cy="169.8" r="1.35"/><circle cx="462.7" cy="149.6" r="1.35"/><circle cx="460.2" cy="133.0" r="1.35"/><circle cx="462.6" cy="152.0" r="1.35"/><circle cx="458.9" cy="130.8" r="1.35"/><circle cx="461.9" cy="177.8" r="1.35"/><circle cx="464.8" cy="176.5" r="1.35"/><circle cx="460.9" cy="139.9" r="1.35"/><circle cx="458.6" cy="180.4" r="1.35"/><circle cx="464.8" cy="180.2" r="1.35"/><circle cx="461.0" cy="170.1" r="1.35"/><circle cx="458.7" cy="166.5" r="1.35"/><circle cx="458.8" cy="150.4" r="1.35"/><circle cx="462.8" cy="154.4" r="1.35"/><circle cx="464.2" cy="129.4" r="1.35"/><circle cx="472.4" cy="146.5" r="1.35"/><circle cx="471.4" cy="161.2" r="1.35"/><circle cx="475.9" cy="175.7" r="1.35"/><circle cx="473.9" cy="169.5" r="1.35"/><circle cx="473.5" cy="169.7" r="1.35"/><circle cx="477.6" cy="172.5" r="1.35"/><circle cx="473.4" cy="176.6" r="1.35"/><circle cx="473.0" cy="180.8" r="1.35"/><circle cx="476.3" cy="173.0" r="1.35"/><circle cx="477.3" cy="162.1" r="1.35"/><circle cx="471.4" cy="184.0" r="1.35"/><circle cx="472.8" cy="143.8" r="1.35"/><circle cx="478.3" cy="142.4" r="1.35"/><circle cx="471.7" cy="155.7" r="1.35"/><circle cx="478.0" cy="169.3" r="1.35"/><circle cx="477.4" cy="180.4" r="1.35"/><circle cx="472.6" cy="152.3" r="1.35"/><circle cx="476.0" cy="146.4" r="1.35"/><circle cx="475.7" cy="159.7" r="1.35"/><circle cx="476.4" cy="143.0" r="1.35"/><circle cx="478.3" cy="148.7" r="1.35"/><circle cx="474.4" cy="155.7" r="1.35"/><circle cx="475.5" cy="178.5" r="1.35"/><circle cx="477.8" cy="146.0" r="1.35"/><circle cx="476.5" cy="175.2" r="1.35"/><circle cx="471.8" cy="166.3" r="1.35"/><circle cx="473.0" cy="172.1" r="1.35"/><circle cx="473.1" cy="178.9" r="1.35"/><circle cx="474.8" cy="172.7" r="1.35"/><circle cx="475.9" cy="150.1" r="1.35"/><circle cx="471.0" cy="183.9" r="1.35"/><circle cx="475.6" cy="169.4" r="1.35"/><circle cx="473.0" cy="179.1" r="1.35"/><circle cx="476.4" cy="178.8" r="1.35"/><circle cx="476.4" cy="152.0" r="1.35"/><circle cx="471.8" cy="190.6" r="1.35"/><circle cx="473.0" cy="187.1" r="1.35"/><circle cx="471.4" cy="195.6" r="1.35"/><circle cx="477.3" cy="193.9" r="1.35"/><circle cx="478.2" cy="191.8" r="1.35"/><circle cx="474.6" cy="195.2" r="1.35"/><circle cx="475.0" cy="199.4" r="1.35"/><circle cx="471.9" cy="185.5" r="1.35"/><circle cx="477.7" cy="197.0" r="1.35"/><circle cx="473.2" cy="189.7" r="1.35"/><circle cx="477.6" cy="186.5" r="1.35"/><circle cx="478.5" cy="199.8" r="1.35"/><circle cx="478.0" cy="190.5" r="1.35"/><circle cx="470.6" cy="186.4" r="1.35"/><circle cx="473.1" cy="192.5" r="1.35"/><circle cx="470.7" cy="191.2" r="1.35"/><circle cx="474.4" cy="186.0" r="1.35"/><circle cx="476.4" cy="191.6" r="1.35"/><circle cx="473.5" cy="195.6" r="1.35"/><circle cx="472.5" cy="190.7" r="1.35"/><circle cx="473.6" cy="185.6" r="1.35"/><circle cx="479.0" cy="192.9" r="1.35"/><circle cx="477.3" cy="195.6" r="1.35"/><circle cx="478.4" cy="197.0" r="1.35"/><circle cx="471.6" cy="198.6" r="1.35"/><circle cx="472.4" cy="188.4" r="1.35"/><circle cx="474.4" cy="196.7" r="1.35"/><circle cx="475.2" cy="199.1" r="1.35"/><circle cx="472.2" cy="183.5" r="1.35"/><circle cx="471.2" cy="189.9" r="1.35"/><circle cx="470.4" cy="192.5" r="1.35"/><circle cx="470.1" cy="187.1" r="1.35"/><circle cx="476.4" cy="185.0" r="1.35"/><circle cx="478.6" cy="191.6" r="1.35"/><circle cx="471.7" cy="185.2" r="1.35"/><circle cx="471.8" cy="184.0" r="1.35"/><circle cx="473.9" cy="188.0" r="1.35"/><circle cx="471.5" cy="187.2" r="1.35"/><circle cx="470.5" cy="189.5" r="1.35"/><circle cx="475.1" cy="197.0" r="1.35"/><circle cx="474.2" cy="191.7" r="1.35"/><circle cx="478.9" cy="192.4" r="1.35"/><circle cx="475.1" cy="189.5" r="1.35"/><circle cx="473.6" cy="186.6" r="1.35"/><circle cx="477.8" cy="184.6" r="1.35"/><circle cx="476.9" cy="194.6" r="1.35"/><circle cx="471.2" cy="196.0" r="1.35"/><circle cx="471.3" cy="193.8" r="1.35"/><circle cx="471.2" cy="193.5" r="1.35"/><circle cx="471.1" cy="185.7" r="1.35"/><circle cx="471.1" cy="192.1" r="1.35"/><circle cx="473.8" cy="189.2" r="1.35"/><circle cx="477.0" cy="199.8" r="1.35"/><circle cx="476.6" cy="192.9" r="1.35"/><circle cx="473.3" cy="183.2" r="1.35"/><circle cx="476.0" cy="187.9" r="1.35"/><circle cx="478.5" cy="185.2" r="1.35"/><circle cx="477.9" cy="188.5" r="1.35"/><circle cx="474.2" cy="197.4" r="1.35"/><circle cx="471.1" cy="183.0" r="1.35"/><circle cx="476.6" cy="189.6" r="1.35"/><circle cx="478.4" cy="191.1" r="1.35"/><circle cx="472.9" cy="198.4" r="1.35"/><circle cx="474.8" cy="199.8" r="1.35"/><circle cx="470.3" cy="184.3" r="1.35"/><circle cx="473.7" cy="189.3" r="1.35"/><circle cx="478.1" cy="186.1" r="1.35"/><circle cx="477.0" cy="188.3" r="1.35"/><circle cx="473.9" cy="186.7" r="1.35"/><circle cx="476.9" cy="189.5" r="1.35"/><circle cx="485.7" cy="256.9" r="1.35"/><circle cx="455.3" cy="267.7" r="1.35"/><circle cx="455.1" cy="246.8" r="1.35"/><circle cx="479.0" cy="274.6" r="1.35"/><circle cx="452.4" cy="271.7" r="1.35"/><circle cx="482.1" cy="257.8" r="1.35"/><circle cx="449.1" cy="253.9" r="1.35"/><circle cx="453.5" cy="267.0" r="1.35"/><circle cx="478.6" cy="270.7" r="1.35"/><circle cx="460.5" cy="276.2" r="1.35"/><circle cx="479.3" cy="256.0" r="1.35"/><circle cx="457.1" cy="262.2" r="1.35"/><circle cx="490.1" cy="264.1" r="1.35"/><circle cx="457.0" cy="256.7" r="1.35"/><circle cx="482.7" cy="266.4" r="1.35"/><circle cx="455.4" cy="244.5" r="1.35"/><circle cx="485.8" cy="243.8" r="1.35"/><circle cx="479.1" cy="247.4" r="1.35"/><circle cx="457.3" cy="262.5" r="1.35"/><circle cx="487.0" cy="245.3" r="1.35"/><circle cx="448.0" cy="254.0" r="1.35"/><circle cx="480.8" cy="261.3" r="1.35"/><circle cx="485.8" cy="268.5" r="1.35"/><circle cx="479.6" cy="249.0" r="1.35"/><circle cx="455.5" cy="270.8" r="1.35"/><circle cx="454.3" cy="248.6" r="1.35"/><circle cx="459.2" cy="279.3" r="1.35"/><circle cx="483.0" cy="256.4" r="1.35"/><circle cx="456.6" cy="251.4" r="1.35"/><circle cx="481.0" cy="246.6" r="1.35"/><circle cx="488.0" cy="255.6" r="1.35"/><circle cx="480.0" cy="267.4" r="1.35"/><circle cx="481.0" cy="278.0" r="1.35"/><circle cx="476.7" cy="275.7" r="1.35"/><circle cx="475.7" cy="279.4" r="1.35"/><circle cx="446.9" cy="246.3" r="1.35"/><circle cx="483.1" cy="257.1" r="1.35"/><circle cx="455.7" cy="268.9" r="1.35"/><circle cx="452.6" cy="248.4" r="1.35"/><circle cx="459.5" cy="277.8" r="1.35"/><circle cx="484.5" cy="267.0" r="1.35"/><circle cx="457.0" cy="248.9" r="1.35"/><circle cx="451.1" cy="264.0" r="1.35"/><circle cx="479.8" cy="245.2" r="1.35"/><circle cx="457.0" cy="279.2" r="1.35"/><circle cx="453.7" cy="265.7" r="1.35"/><circle cx="482.1" cy="271.3" r="1.35"/><circle cx="455.2" cy="264.8" r="1.35"/><circle cx="477.5" cy="275.5" r="1.35"/><circle cx="456.4" cy="263.9" r="1.35"/><circle cx="441.1" cy="257.0" r="1.35"/><circle cx="447.7" cy="262.7" r="1.35"/><circle cx="459.3" cy="272.0" r="1.35"/><circle cx="454.8" cy="261.1" r="1.35"/><circle cx="475.8" cy="277.2" r="1.35"/><circle cx="480.5" cy="276.0" r="1.35"/><circle cx="449.1" cy="267.5" r="1.35"/><circle cx="477.7" cy="280.3" r="1.35"/><circle cx="448.8" cy="244.9" r="1.35"/><circle cx="477.6" cy="270.5" r="1.35"/><circle cx="451.9" cy="246.6" r="1.35"/><circle cx="454.4" cy="260.9" r="1.35"/><circle cx="459.0" cy="270.2" r="1.35"/><circle cx="452.9" cy="254.3" r="1.35"/><circle cx="483.5" cy="243.2" r="1.35"/><circle cx="452.5" cy="247.1" r="1.35"/><circle cx="453.6" cy="262.4" r="1.35"/><circle cx="484.5" cy="250.0" r="1.35"/><circle cx="459.6" cy="275.7" r="1.35"/><circle cx="445.2" cy="262.1" r="1.35"/><circle cx="486.8" cy="254.5" r="1.35"/><circle cx="458.3" cy="280.4" r="1.35"/><circle cx="452.4" cy="256.8" r="1.35"/><circle cx="479.6" cy="265.9" r="1.35"/><circle cx="485.5" cy="257.4" r="1.35"/><circle cx="454.3" cy="249.6" r="1.35"/><circle cx="457.1" cy="270.0" r="1.35"/><circle cx="480.9" cy="265.0" r="1.35"/><circle cx="479.8" cy="248.5" r="1.35"/><circle cx="455.9" cy="260.5" r="1.35"/><circle cx="456.3" cy="251.0" r="1.35"/><circle cx="479.8" cy="275.3" r="1.35"/><circle cx="453.4" cy="250.1" r="1.35"/><circle cx="488.3" cy="265.4" r="1.35"/><circle cx="486.0" cy="244.4" r="1.35"/><circle cx="451.9" cy="257.4" r="1.35"/><circle cx="449.7" cy="254.4" r="1.35"/><circle cx="480.2" cy="256.0" r="1.35"/><circle cx="484.8" cy="262.6" r="1.35"/><circle cx="455.7" cy="245.8" r="1.35"/><circle cx="455.5" cy="257.0" r="1.35"/><circle cx="460.0" cy="277.8" r="1.35"/><circle cx="455.3" cy="270.1" r="1.35"/><circle cx="491.9" cy="245.9" r="1.35"/><circle cx="457.1" cy="253.5" r="1.35"/><circle cx="454.7" cy="277.0" r="1.35"/><circle cx="479.0" cy="258.0" r="1.35"/><circle cx="449.6" cy="250.2" r="1.35"/><circle cx="454.1" cy="268.2" r="1.35"/><circle cx="487.2" cy="265.1" r="1.35"/><circle cx="454.5" cy="250.8" r="1.35"/><circle cx="485.6" cy="251.0" r="1.35"/><circle cx="484.1" cy="254.7" r="1.35"/><circle cx="450.6" cy="244.6" r="1.35"/><circle cx="459.8" cy="277.8" r="1.35"/><circle cx="476.4" cy="275.2" r="1.35"/><circle cx="456.7" cy="264.0" r="1.35"/><circle cx="484.7" cy="268.5" r="1.35"/><circle cx="456.7" cy="246.6" r="1.35"/><circle cx="482.8" cy="267.2" r="1.35"/><circle cx="523.8" cy="247.6" r="1.35"/><circle cx="533.7" cy="263.0" r="1.35"/><circle cx="497.5" cy="248.1" r="1.35"/><circle cx="497.5" cy="251.7" r="1.35"/><circle cx="498.7" cy="261.3" r="1.35"/><circle cx="494.6" cy="265.1" r="1.35"/><circle cx="487.9" cy="275.3" r="1.35"/><circle cx="491.7" cy="246.7" r="1.35"/><circle cx="487.0" cy="257.8" r="1.35"/><circle cx="437.7" cy="265.8" r="1.35"/><circle cx="445.2" cy="261.5" r="1.35"/><circle cx="441.0" cy="255.0" r="1.35"/><circle cx="448.0" cy="270.0" r="1.35"/></g>
<g fill="#2558b8"><circle cx="434.5" cy="103.1" r="1.55"/><circle cx="430.1" cy="115.9" r="1.55"/><circle cx="421.5" cy="143.6" r="1.55"/><circle cx="452.0" cy="120.4" r="1.55"/><circle cx="452.0" cy="123.9" r="1.55"/><circle cx="448.9" cy="133.0" r="1.55"/><circle cx="445.0" cy="137.8" r="1.55"/><circle cx="448.9" cy="141.9" r="1.55"/><circle cx="450.2" cy="143.6" r="1.55"/><circle cx="453.7" cy="141.5" r="1.55"/><circle cx="455.5" cy="143.6" r="1.55"/><circle cx="444.1" cy="145.4" r="1.55"/><circle cx="447.8" cy="147.1" r="1.55"/><circle cx="455.5" cy="152.4" r="1.55"/><circle cx="455.5" cy="156.8" r="1.55"/><circle cx="446.3" cy="158.5" r="1.55"/><circle cx="455.9" cy="158.5" r="1.55"/><circle cx="452.8" cy="162.5" r="1.55"/><circle cx="455.5" cy="163.3" r="1.55"/><circle cx="436.2" cy="166.8" r="1.55"/><circle cx="440.6" cy="169.5" r="1.55"/><circle cx="449.3" cy="165.1" r="1.55"/><circle cx="451.5" cy="168.2" r="1.55"/><circle cx="450.2" cy="172.5" r="1.55"/><circle cx="452.8" cy="172.5" r="1.55"/><circle cx="455.0" cy="173.0" r="1.55"/><circle cx="446.3" cy="176.0" r="1.55"/><circle cx="447.1" cy="178.2" r="1.55"/><circle cx="438.8" cy="179.5" r="1.55"/><circle cx="437.2" cy="197.2" r="1.55"/><circle cx="442.2" cy="192.1" r="1.55"/><circle cx="447.1" cy="192.6" r="1.55"/><circle cx="432.8" cy="206.4" r="1.55"/><circle cx="436.0" cy="214.0" r="1.55"/><circle cx="438.3" cy="215.1" r="1.55"/><circle cx="443.3" cy="210.1" r="1.55"/><circle cx="446.5" cy="214.5" r="1.55"/><circle cx="440.7" cy="221.5" r="1.55"/><circle cx="444.7" cy="223.9" r="1.55"/><circle cx="442.2" cy="229.7" r="1.55"/><circle cx="442.6" cy="234.6" r="1.55"/><circle cx="446.5" cy="201.7" r="1.55"/><circle cx="447.7" cy="205.8" r="1.55"/><circle cx="425.1" cy="221.5" r="1.55"/><circle cx="425.1" cy="234.4" r="1.55"/><circle cx="414.0" cy="233.8" r="1.55"/><circle cx="456.2" cy="182.2" r="1.55"/><circle cx="456.1" cy="237.0" r="1.55"/><circle cx="456.4" cy="189.1" r="1.55"/><circle cx="454.9" cy="215.2" r="1.55"/><circle cx="450.8" cy="184.9" r="1.55"/><circle cx="453.8" cy="170.0" r="1.55"/><circle cx="454.5" cy="240.6" r="1.55"/><circle cx="451.1" cy="175.2" r="1.55"/><circle cx="453.4" cy="235.8" r="1.55"/><circle cx="447.1" cy="193.6" r="1.55"/><circle cx="451.1" cy="185.9" r="1.55"/><circle cx="453.4" cy="224.1" r="1.55"/><circle cx="453.6" cy="211.8" r="1.55"/><circle cx="452.4" cy="222.9" r="1.55"/><circle cx="456.1" cy="228.7" r="1.55"/><circle cx="451.0" cy="211.2" r="1.55"/><circle cx="455.1" cy="197.5" r="1.55"/><circle cx="453.0" cy="212.3" r="1.55"/><circle cx="445.3" cy="225.0" r="1.55"/><circle cx="453.6" cy="215.9" r="1.55"/><circle cx="454.4" cy="190.2" r="1.55"/><circle cx="454.9" cy="215.0" r="1.55"/><circle cx="454.3" cy="231.8" r="1.55"/><circle cx="454.6" cy="197.2" r="1.55"/><circle cx="455.6" cy="232.8" r="1.55"/><circle cx="456.4" cy="223.9" r="1.55"/><circle cx="453.6" cy="230.8" r="1.55"/><circle cx="456.2" cy="172.5" r="1.55"/><circle cx="454.5" cy="198.5" r="1.55"/><circle cx="455.5" cy="178.2" r="1.55"/><circle cx="456.5" cy="207.5" r="1.55"/><circle cx="453.8" cy="170.8" r="1.55"/><circle cx="451.1" cy="175.4" r="1.55"/><circle cx="450.7" cy="211.9" r="1.55"/><circle cx="450.0" cy="219.3" r="1.55"/><circle cx="452.4" cy="217.0" r="1.55"/><circle cx="455.6" cy="169.9" r="1.55"/><circle cx="454.2" cy="194.9" r="1.55"/><circle cx="442.0" cy="167.3" r="1.55"/><circle cx="454.2" cy="184.4" r="1.55"/><circle cx="455.7" cy="209.6" r="1.55"/><circle cx="452.1" cy="235.0" r="1.55"/><circle cx="442.7" cy="186.7" r="1.55"/><circle cx="455.9" cy="232.2" r="1.55"/><circle cx="455.3" cy="215.0" r="1.55"/><circle cx="452.2" cy="196.1" r="1.55"/><circle cx="443.1" cy="196.7" r="1.55"/><circle cx="452.7" cy="223.3" r="1.55"/><circle cx="454.7" cy="167.8" r="1.55"/><circle cx="449.3" cy="221.3" r="1.55"/><circle cx="443.2" cy="182.4" r="1.55"/><circle cx="453.0" cy="177.1" r="1.55"/><circle cx="452.7" cy="168.7" r="1.55"/><circle cx="452.2" cy="213.0" r="1.55"/><circle cx="452.0" cy="205.1" r="1.55"/><circle cx="450.4" cy="205.1" r="1.55"/><circle cx="452.4" cy="194.1" r="1.55"/><circle cx="452.1" cy="196.0" r="1.55"/><circle cx="450.2" cy="168.0" r="1.55"/><circle cx="455.5" cy="197.9" r="1.55"/><circle cx="455.4" cy="221.1" r="1.55"/><circle cx="453.3" cy="190.0" r="1.55"/><circle cx="454.6" cy="178.7" r="1.55"/><circle cx="455.2" cy="208.2" r="1.55"/><circle cx="456.2" cy="225.7" r="1.55"/><circle cx="456.5" cy="239.0" r="1.55"/><circle cx="455.0" cy="238.2" r="1.55"/><circle cx="443.8" cy="178.4" r="1.55"/><circle cx="445.0" cy="209.5" r="1.55"/><circle cx="449.7" cy="217.1" r="1.55"/><circle cx="455.4" cy="227.4" r="1.55"/><circle cx="452.6" cy="220.1" r="1.55"/><circle cx="454.7" cy="180.1" r="1.55"/><circle cx="453.5" cy="176.6" r="1.55"/><circle cx="454.2" cy="186.8" r="1.55"/><circle cx="450.0" cy="178.2" r="1.55"/><circle cx="456.0" cy="212.0" r="1.55"/><circle cx="451.9" cy="227.6" r="1.55"/><circle cx="455.4" cy="180.0" r="1.55"/><circle cx="452.2" cy="213.7" r="1.55"/><circle cx="453.9" cy="229.5" r="1.55"/><circle cx="452.2" cy="185.1" r="1.55"/><circle cx="455.9" cy="183.7" r="1.55"/><circle cx="454.5" cy="183.5" r="1.55"/><circle cx="453.2" cy="189.2" r="1.55"/><circle cx="456.6" cy="215.9" r="1.55"/><circle cx="455.2" cy="181.8" r="1.55"/><circle cx="454.8" cy="219.1" r="1.55"/><circle cx="453.3" cy="209.7" r="1.55"/><circle cx="453.4" cy="227.4" r="1.55"/><circle cx="452.8" cy="199.5" r="1.55"/><circle cx="453.6" cy="197.7" r="1.55"/><circle cx="455.8" cy="184.6" r="1.55"/><circle cx="451.5" cy="178.1" r="1.55"/><circle cx="451.0" cy="208.4" r="1.55"/><circle cx="453.5" cy="226.4" r="1.55"/><circle cx="454.3" cy="228.0" r="1.55"/><circle cx="454.4" cy="235.7" r="1.55"/><circle cx="455.2" cy="201.6" r="1.55"/><circle cx="453.9" cy="186.2" r="1.55"/><circle cx="456.6" cy="216.2" r="1.55"/><circle cx="452.5" cy="206.7" r="1.55"/><circle cx="455.4" cy="211.9" r="1.55"/><circle cx="453.3" cy="227.2" r="1.55"/><circle cx="455.5" cy="177.9" r="1.55"/><circle cx="454.4" cy="201.4" r="1.55"/><circle cx="454.4" cy="211.5" r="1.55"/><circle cx="453.1" cy="178.8" r="1.55"/><circle cx="453.9" cy="186.4" r="1.55"/><circle cx="449.2" cy="179.8" r="1.55"/><circle cx="450.9" cy="190.8" r="1.55"/><circle cx="456.2" cy="236.7" r="1.55"/><circle cx="455.6" cy="205.9" r="1.55"/><circle cx="453.4" cy="180.1" r="1.55"/><circle cx="450.2" cy="238.4" r="1.55"/><circle cx="442.7" cy="201.0" r="1.55"/><circle cx="448.9" cy="199.2" r="1.55"/><circle cx="438.6" cy="221.9" r="1.55"/><circle cx="442.8" cy="177.0" r="1.55"/><circle cx="446.6" cy="236.0" r="1.55"/><circle cx="435.3" cy="203.3" r="1.55"/><circle cx="444.0" cy="215.0" r="1.55"/><circle cx="445.1" cy="184.7" r="1.55"/><circle cx="446.4" cy="198.7" r="1.55"/><circle cx="447.4" cy="212.1" r="1.55"/><circle cx="436.1" cy="193.4" r="1.55"/><circle cx="448.7" cy="193.3" r="1.55"/><circle cx="441.6" cy="179.8" r="1.55"/><circle cx="443.6" cy="230.6" r="1.55"/></g>
<g fill="#d3141f"><circle cx="481.6" cy="108.6" r="1.55"/><circle cx="512.9" cy="154.5" r="1.55"/><circle cx="480.9" cy="175.1" r="1.55"/><circle cx="485.0" cy="190.9" r="1.55"/><circle cx="507.8" cy="197.0" r="1.55"/><circle cx="521.0" cy="184.8" r="1.55"/><circle cx="480.2" cy="208.9" r="1.55"/><circle cx="479.9" cy="210.7" r="1.55"/><circle cx="483.5" cy="212.5" r="1.55"/><circle cx="480.2" cy="214.7" r="1.55"/><circle cx="481.0" cy="220.9" r="1.55"/><circle cx="483.1" cy="222.4" r="1.55"/><circle cx="485.7" cy="222.0" r="1.55"/><circle cx="488.2" cy="221.3" r="1.55"/><circle cx="488.6" cy="223.8" r="1.55"/><circle cx="480.6" cy="224.9" r="1.55"/><circle cx="481.0" cy="227.1" r="1.55"/><circle cx="487.9" cy="228.2" r="1.55"/><circle cx="482.0" cy="229.3" r="1.55"/><circle cx="485.0" cy="230.8" r="1.55"/><circle cx="486.8" cy="231.9" r="1.55"/><circle cx="481.0" cy="234.8" r="1.55"/><circle cx="482.4" cy="236.6" r="1.55"/><circle cx="480.6" cy="238.8" r="1.55"/><circle cx="483.5" cy="239.5" r="1.55"/><circle cx="484.6" cy="238.8" r="1.55"/><circle cx="480.6" cy="241.0" r="1.55"/><circle cx="480.5" cy="200.5" r="1.55"/><circle cx="481.2" cy="217.6" r="1.55"/><circle cx="482.8" cy="232.8" r="1.55"/></g>
<line x1="456.64" y1="61.97" x2="456.64" y2="293.90" stroke="#333" stroke-width="0.85" stroke-dasharray="2.67 2.67"/>
<line x1="479.76" y1="61.97" x2="479.76" y2="293.90" stroke="#333" stroke-width="0.85" stroke-dasharray="2.67 2.67"/>
<line x1="374.60" y1="241.32" x2="561.80" y2="241.32" stroke="#333" stroke-width="0.85" stroke-dasharray="2.59 2.59" stroke-dashoffset="0.64"/>
<line x1="422.80" y1="111.50" x2="430.10" y2="115.90" stroke="#333" stroke-width="0.7" />
<line x1="425.40" y1="133.40" x2="421.50" y2="143.60" stroke="#333" stroke-width="0.7" />
<line x1="512.10" y1="161.50" x2="512.60" y2="154.80" stroke="#333" stroke-width="0.7" />
<line x1="420.70" y1="214.70" x2="425.10" y2="221.50" stroke="#333" stroke-width="0.7" />
<line x1="408.50" y1="243.50" x2="414.00" y2="233.80" stroke="#333" stroke-width="0.7" />
<line x1="488.50" y1="212.20" x2="488.50" y2="220.30" stroke="#333" stroke-width="0.7" />
<line x1="489.30" y1="224.20" x2="494.50" y2="232.20" stroke="#333" stroke-width="0.7" />
<line x1="523.40" y1="177.90" x2="521.00" y2="184.80" stroke="#333" stroke-width="0.7" />
<line x1="507.80" y1="197.00" x2="520.40" y2="197.90" stroke="#333" stroke-width="0.7" />
<text x="402.10" y="113.70" font-size="7.0" fill="#222" text-anchor="start" font-weight="normal" font-family='"Liberation Sans", sans-serif' >Copz1</text>
<text x="414.00" y="133.30" font-size="7.0" fill="#222" text-anchor="start" font-weight="normal" font-family='"Liberation Sans", sans-serif' >H2ac20</text>
<text x="492.00" y="168.30" font-size="7.0" fill="#222" text-anchor="start" font-weight="normal" font-family='"Liberation Sans", sans-serif' >Cct6b</text>
<text x="524.90" y="177.40" font-size="7.0" fill="#222" text-anchor="start" font-weight="normal" font-family='"Liberation Sans", sans-serif' >Sh3bp5</text>
<text x="521.90" y="200.40" font-size="7.0" fill="#222" text-anchor="start" font-weight="normal" font-family='"Liberation Sans", sans-serif' >P01644</text>
<text x="489.30" y="213.50" font-size="7.0" fill="#222" text-anchor="start" font-weight="normal" font-family='"Liberation Sans", sans-serif' >Nsmce3</text>
<text x="496.00" y="237.20" font-size="7.0" fill="#222" text-anchor="start" font-weight="normal" font-family='"Liberation Sans", sans-serif' >Glipr1</text>
<text x="407.10" y="213.70" font-size="7.0" fill="#222" text-anchor="start" font-weight="normal" font-family='"Liberation Sans", sans-serif' >Ppef2</text>
<text x="423.60" y="244.00" font-size="7.0" fill="#222" text-anchor="start" font-weight="normal" font-family='"Liberation Sans", sans-serif' >Arg1</text>
<text x="390.80" y="246.70" font-size="7.0" fill="#222" text-anchor="start" font-weight="normal" font-family='"Liberation Sans", sans-serif' >Emp2</text>
<line x1="374.60" y1="59.80" x2="374.60" y2="294.40" stroke="#333" stroke-width="1.0" />
<line x1="374.10" y1="293.90" x2="561.80" y2="293.90" stroke="#333" stroke-width="1.0" />
<line x1="372.20" y1="283.60" x2="374.60" y2="283.60" stroke="#333" stroke-width="0.9" />
<text x="370.00" y="286.80" font-size="9.0" fill="#2e2e2e" text-anchor="end" font-weight="normal" font-family='"Liberation Sans", sans-serif' stroke="#2e2e2e" stroke-width="0.15">0</text>
<line x1="372.20" y1="218.60" x2="374.60" y2="218.60" stroke="#333" stroke-width="0.9" />
<text x="370.00" y="221.80" font-size="9.0" fill="#2e2e2e" text-anchor="end" font-weight="normal" font-family='"Liberation Sans", sans-serif' stroke="#2e2e2e" stroke-width="0.15">2</text>
<line x1="372.20" y1="153.60" x2="374.60" y2="153.60" stroke="#333" stroke-width="0.9" />
<text x="370.00" y="156.80" font-size="9.0" fill="#2e2e2e" text-anchor="end" font-weight="normal" font-family='"Liberation Sans", sans-serif' stroke="#2e2e2e" stroke-width="0.15">4</text>
<line x1="372.20" y1="88.60" x2="374.60" y2="88.60" stroke="#333" stroke-width="0.9" />
<text x="370.00" y="91.80" font-size="9.0" fill="#2e2e2e" text-anchor="end" font-weight="normal" font-family='"Liberation Sans", sans-serif' stroke="#2e2e2e" stroke-width="0.15">6</text>
<line x1="418.80" y1="293.90" x2="418.80" y2="296.30" stroke="#333" stroke-width="0.9" />
<text x="418.80" y="305.60" font-size="9.0" fill="#2e2e2e" text-anchor="middle" font-weight="normal" font-family='"Liberation Sans", sans-serif' stroke="#2e2e2e" stroke-width="0.15">-2.5</text>
<line x1="468.20" y1="293.90" x2="468.20" y2="296.30" stroke="#333" stroke-width="0.9" />
<text x="468.20" y="305.60" font-size="9.0" fill="#2e2e2e" text-anchor="middle" font-weight="normal" font-family='"Liberation Sans", sans-serif' stroke="#2e2e2e" stroke-width="0.15">0.0</text>
<line x1="517.60" y1="293.90" x2="517.60" y2="296.30" stroke="#333" stroke-width="0.9" />
<text x="517.60" y="305.60" font-size="9.0" fill="#2e2e2e" text-anchor="middle" font-weight="normal" font-family='"Liberation Sans", sans-serif' stroke="#2e2e2e" stroke-width="0.15">2.5</text>
<text x="468.20" y="317.40" font-size="10.4" fill="#000" text-anchor="middle" font-weight="normal" font-family='"Liberation Sans", sans-serif' >Log2 F/C Ratio</text>
<text x="362.60" y="177.50" font-size="10.4" fill="#000" text-anchor="middle" font-weight="normal" font-family='"Liberation Sans", sans-serif' transform="rotate(-90 362.6 177.5)">-Log10 P value</text>
<text x="578.50" y="162.50" font-size="10.2" fill="#000" text-anchor="start" font-weight="normal" font-family='"Liberation Sans", sans-serif' >Regulated Type</text>
<circle cx="583.1" cy="174.20" r="1.35" fill="#b2182b"/>
<text x="594.30" y="177.20" font-size="8.4" fill="#000" text-anchor="start" font-weight="normal" font-family='"Liberation Sans", sans-serif' >Up</text>
<circle cx="583.1" cy="184.90" r="1.35" fill="#2c4ea8"/>
<text x="594.30" y="187.90" font-size="8.4" fill="#000" text-anchor="start" font-weight="normal" font-family='"Liberation Sans", sans-serif' >Down</text>
<circle cx="583.1" cy="195.60" r="1.35" fill="#c0c0c0"/>
<text x="594.30" y="198.60" font-size="8.4" fill="#000" text-anchor="start" font-weight="normal" font-family='"Liberation Sans", sans-serif' >Unchange</text>
</g>
<g id="panelC">
<defs><clipPath id="clB"><circle cx="119.8" cy="479.3" r="88.3" fill="#000" /></clipPath><clipPath id="clR"><circle cx="207.1" cy="479.3" r="88.3" fill="#000" /></clipPath><clipPath id="clBR" clip-path="url(#clB)"><circle cx="207.1" cy="479.3" r="88.3" fill="#000" /></clipPath></defs>
<circle cx="119.8" cy="479.3" r="88.3" fill="rgb(194,212,246)" />
<circle cx="207.1" cy="479.3" r="88.3" fill="rgb(248,203,204)" />
<circle cx="163.5" cy="554.4" r="88.2" fill="rgb(216,234,173)" />
<g clip-path="url(#clB)"><circle cx="207.1" cy="479.3" r="88.3" fill="rgb(213,180,203)" /><circle cx="163.5" cy="554.4" r="88.2" fill="rgb(178,209,169)" /></g>
<g clip-path="url(#clR)"><circle cx="163.5" cy="554.4" r="88.2" fill="rgb(210,204,143)" /></g>
<g clip-path="url(#clBR)"><circle cx="163.5" cy="554.4" r="88.2" fill="rgb(189,191,141)" /></g>
<text x="114.00" y="371.40" font-size="9.8" fill="#303030" text-anchor="middle" font-weight="normal" font-family='"Liberation Sans", sans-serif' >CvsS</text>
<text x="213.30" y="370.90" font-size="9.8" fill="#303030" text-anchor="middle" font-weight="normal" font-family='"Liberation Sans", sans-serif' >FvsS</text>
<text x="163.60" y="656.20" font-size="9.8" fill="#303030" text-anchor="middle" font-weight="normal" font-family='"Liberation Sans", sans-serif' >FvsC</text>
<text x="80.80" y="459.00" font-size="7.0" fill="#1e2530" text-anchor="middle" font-weight="normal" font-family='"Liberation Sans", sans-serif' stroke="#1e2530" stroke-width="0.15">143</text>
<text x="163.60" y="436.10" font-size="7.0" fill="#1e2530" text-anchor="middle" font-weight="normal" font-family='"Liberation Sans", sans-serif' stroke="#1e2530" stroke-width="0.15">20</text>
<text x="246.30" y="459.00" font-size="7.0" fill="#1e2530" text-anchor="middle" font-weight="normal" font-family='"Liberation Sans", sans-serif' stroke="#1e2530" stroke-width="0.15">37</text>
<text x="163.60" y="507.10" font-size="7.0" fill="#1e2530" text-anchor="middle" font-weight="normal" font-family='"Liberation Sans", sans-serif' stroke="#1e2530" stroke-width="0.15">3</text>
<text x="102.30" y="542.30" font-size="7.0" fill="#1e2530" text-anchor="middle" font-weight="normal" font-family='"Liberation Sans", sans-serif' stroke="#1e2530" stroke-width="0.15">88</text>
<text x="224.60" y="542.30" font-size="7.0" fill="#1e2530" text-anchor="middle" font-weight="normal" font-family='"Liberation Sans", sans-serif' stroke="#1e2530" stroke-width="0.15">10</text>
<text x="163.60" y="602.60" font-size="7.0" fill="#1e2530" text-anchor="middle" font-weight="normal" font-family='"Liberation Sans", sans-serif' stroke="#1e2530" stroke-width="0.15">53</text>
</g>
<g id="panelD" shape-rendering="crispEdges">
<path fill="#b8cef1" d="M347.30 377.90h17.07v2.00h-17.07zM586.28 377.90h17.07v2.00h-17.07zM620.42 403.93h17.07v2.00h-17.07zM552.14 417.95h17.07v2.00h-17.07zM364.37 484.02h17.07v2.00h-17.07zM432.65 498.04h17.07v2.00h-17.07zM415.58 542.09h17.07v2.00h-17.07zM347.30 584.13h17.07v2.00h-17.07z"/>
<path fill="#457fdc" d="M364.37 377.90h17.07v2.00h-17.07z"/>
<path fill="#aec7ef" d="M381.44 377.90h17.07v2.00h-17.07zM415.58 506.05h17.07v2.00h-17.07zM500.93 602.15h17.07v2.00h-17.07zM364.37 620.18h17.07v2.00h-17.07z"/>
<path fill="#ceddf6" d="M398.51 377.90h17.07v2.00h-17.07zM347.30 391.92h17.07v2.00h-17.07zM449.72 482.02h17.07v2.00h-17.07zM449.72 486.02h17.07v2.00h-17.07zM483.86 510.05h17.07v2.00h-17.07zM415.58 538.08h17.07v2.00h-17.07z"/>
<path fill="#d8e4f7" d="M415.58 377.90h17.07v2.00h-17.07zM500.93 476.01h17.07v2.00h-17.07zM449.72 522.06h17.07v2.00h-17.07z"/>
<path fill="#95b6eb" d="M432.65 377.90h17.07v2.00h-17.07zM620.42 385.91h17.07v2.00h-17.07zM637.49 437.97h17.07v2.00h-17.07zM586.28 439.97h17.07v2.00h-17.07zM466.79 476.01h17.07v2.00h-17.07zM347.30 478.01h17.07v2.00h-17.07zM432.65 514.05h17.07v2.00h-17.07zM432.65 532.08h17.07v2.00h-17.07zM364.37 554.10h17.07v2.00h-17.07zM347.30 566.11h17.07v2.00h-17.07zM381.44 594.15h17.07v2.00h-17.07zM398.51 630.19h17.07v2.00h-17.07z"/>
<path fill="#fef6f6" d="M449.72 377.90h17.07v2.00h-17.07zM500.93 409.94h17.07v2.00h-17.07zM398.51 413.94h17.07v2.00h-17.07zM518.00 423.95h17.07v2.00h-17.07zM500.93 443.98h17.07v2.00h-17.07zM415.58 459.99h17.07v2.00h-17.07zM432.65 478.01h17.07v2.00h-17.07zM535.07 534.08h17.07v2.00h-17.07z"/>
<path fill="#e81614" d="M466.79 377.90h17.07v2.00h-17.07zM466.79 381.90h17.07v2.00h-17.07zM535.07 381.90h17.07v2.00h-17.07zM620.42 453.99h17.07v2.00h-17.07zM637.49 462.00h17.07v2.00h-17.07zM603.35 468.00h17.07v2.00h-17.07zM603.35 470.00h17.07v2.00h-17.07zM603.35 476.01h17.07v2.00h-17.07zM603.35 478.01h17.07v2.00h-17.07zM603.35 480.02h17.07v2.00h-17.07zM586.28 482.02h17.07v2.00h-17.07zM586.28 490.03h17.07v2.00h-17.07zM603.35 490.03h17.07v2.00h-17.07zM586.28 492.03h17.07v2.00h-17.07zM620.42 494.03h17.07v2.00h-17.07zM603.35 496.03h17.07v2.00h-17.07zM620.42 496.03h17.07v2.00h-17.07zM603.35 498.04h17.07v2.00h-17.07zM620.42 498.04h17.07v2.00h-17.07zM586.28 502.04h17.07v2.00h-17.07zM603.35 502.04h17.07v2.00h-17.07zM620.42 502.04h17.07v2.00h-17.07zM603.35 506.05h17.07v2.00h-17.07zM620.42 514.05h17.07v2.00h-17.07zM620.42 546.09h17.07v2.00h-17.07zM518.00 550.10h17.07v2.00h-17.07zM603.35 550.10h17.07v2.00h-17.07zM620.42 550.10h17.07v2.00h-17.07zM620.42 552.10h17.07v2.00h-17.07zM620.42 554.10h17.07v2.00h-17.07zM620.42 556.10h17.07v2.00h-17.07zM620.42 558.10h17.07v2.00h-17.07zM620.42 560.11h17.07v2.00h-17.07zM620.42 562.11h17.07v2.00h-17.07zM620.42 564.11h17.07v2.00h-17.07zM637.49 564.11h17.07v2.00h-17.07zM620.42 566.11h17.07v2.00h-17.07zM620.42 568.12h17.07v2.00h-17.07zM620.42 570.12h17.07v2.00h-17.07zM620.42 572.12h17.07v2.00h-17.07zM586.28 578.13h17.07v2.00h-17.07zM586.28 580.13h17.07v2.00h-17.07zM586.28 584.13h17.07v2.00h-17.07zM637.49 638.20h17.07v2.00h-17.07z"/>
<path fill="#f7abab" d="M483.86 377.90h17.07v2.00h-17.07zM449.72 389.91h17.07v2.00h-17.07zM535.07 455.99h17.07v2.00h-17.07z"/>
<path fill="#ec3e3c" d="M500.93 377.90h17.07v2.00h-17.07zM518.00 395.92h17.07v2.00h-17.07zM569.21 506.05h17.07v2.00h-17.07zM603.35 510.05h17.07v2.00h-17.07zM620.42 590.14h17.07v2.00h-17.07zM586.28 620.18h17.07v2.00h-17.07zM586.28 632.19h17.07v2.00h-17.07z"/>
<path fill="#e1ebf9" d="M518.00 377.90h17.07v2.00h-17.07zM432.65 508.05h17.07v2.00h-17.07zM432.65 618.17h17.07v2.00h-17.07z"/>
<path fill="#f27776" d="M535.07 377.90h17.07v2.00h-17.07zM466.79 417.95h17.07v2.00h-17.07zM364.37 433.96h17.07v2.00h-17.07zM603.35 568.12h17.07v2.00h-17.07zM586.28 598.15h17.07v2.00h-17.07z"/>
<path fill="#f7adac" d="M552.14 377.90h17.07v2.00h-17.07zM500.93 401.93h17.07v2.00h-17.07z"/>
<path fill="#fac8c7" d="M569.21 377.90h17.07v2.00h-17.07zM415.58 393.92h17.07v2.00h-17.07zM483.86 411.94h17.07v2.00h-17.07zM398.51 520.06h17.07v2.00h-17.07z"/>
<path fill="#5489de" d="M603.35 377.90h17.07v2.00h-17.07z"/>
<path fill="#a9c4ef" d="M620.42 377.90h17.07v2.00h-17.07zM620.42 381.90h17.07v2.00h-17.07zM637.49 425.95h17.07v2.00h-17.07zM415.58 484.02h17.07v2.00h-17.07zM381.44 486.02h17.07v2.00h-17.07zM347.30 572.12h17.07v2.00h-17.07zM364.37 640.20h17.07v2.00h-17.07z"/>
<path fill="#d7e4f7" d="M637.49 377.90h17.07v2.00h-17.07zM466.79 510.05h17.07v2.00h-17.07zM500.93 546.09h17.07v2.00h-17.07zM466.79 586.14h17.07v2.00h-17.07z"/>
<path fill="#d8e4f8" d="M347.30 379.90h17.07v2.00h-17.07zM432.65 387.91h17.07v2.00h-17.07zM432.65 451.98h17.07v2.00h-17.07zM364.37 462.00h17.07v2.00h-17.07zM483.86 472.01h17.07v2.00h-17.07zM466.79 478.01h17.07v2.00h-17.07zM432.65 484.02h17.07v2.00h-17.07zM415.58 544.09h17.07v2.00h-17.07zM483.86 548.09h17.07v2.00h-17.07zM500.93 556.10h17.07v2.00h-17.07zM415.58 592.14h17.07v2.00h-17.07zM449.72 614.17h17.07v2.00h-17.07zM569.21 630.19h17.07v2.00h-17.07z"/>
<path fill="#6595e2" d="M364.37 379.90h17.07v2.00h-17.07zM432.65 476.01h17.07v2.00h-17.07zM415.58 566.11h17.07v2.00h-17.07z"/>
<path fill="#94b5ea" d="M381.44 379.90h17.07v2.00h-17.07zM620.42 391.92h17.07v2.00h-17.07zM518.00 518.06h17.07v2.00h-17.07z"/>
<path fill="#7ca5e6" d="M398.51 379.90h17.07v2.00h-17.07zM347.30 512.05h17.07v2.00h-17.07zM347.30 564.11h17.07v2.00h-17.07z"/>
<path fill="#e1eaf9" d="M415.58 379.90h17.07v2.00h-17.07zM364.37 403.93h17.07v2.00h-17.07zM535.07 417.95h17.07v2.00h-17.07zM347.30 449.98h17.07v2.00h-17.07zM415.58 478.01h17.07v2.00h-17.07zM415.58 546.09h17.07v2.00h-17.07z"/>
<path fill="#cedef6" d="M432.65 379.90h17.07v2.00h-17.07zM415.58 385.91h17.07v2.00h-17.07z"/>
<path fill="#e6eefa" d="M449.72 379.90h17.07v2.00h-17.07zM432.65 409.94h17.07v2.00h-17.07zM500.93 498.04h17.07v2.00h-17.07zM347.30 562.11h17.07v2.00h-17.07zM569.21 578.13h17.07v2.00h-17.07zM500.93 618.17h17.07v2.00h-17.07zM398.51 624.18h17.07v2.00h-17.07z"/>
<path fill="#ea2b2a" d="M466.79 379.90h17.07v2.00h-17.07z"/>
<path fill="#dfe9f9" d="M483.86 379.90h17.07v2.00h-17.07zM364.37 401.93h17.07v2.00h-17.07zM603.35 421.95h17.07v2.00h-17.07zM449.72 433.96h17.07v2.00h-17.07zM569.21 443.98h17.07v2.00h-17.07zM466.79 455.99h17.07v2.00h-17.07zM466.79 492.03h17.07v2.00h-17.07zM364.37 524.07h17.07v2.00h-17.07zM500.93 560.11h17.07v2.00h-17.07zM466.79 562.11h17.07v2.00h-17.07zM364.37 616.17h17.07v2.00h-17.07zM449.72 622.18h17.07v2.00h-17.07zM535.07 626.18h17.07v2.00h-17.07z"/>
<path fill="#ee4e4c" d="M500.93 379.90h17.07v2.00h-17.07z"/>
<path fill="#e3ecfa" d="M518.00 379.90h17.07v2.00h-17.07zM586.28 381.90h17.07v2.00h-17.07zM432.65 397.92h17.07v2.00h-17.07zM569.21 397.92h17.07v2.00h-17.07zM620.42 427.96h17.07v2.00h-17.07zM518.00 437.97h17.07v2.00h-17.07zM586.28 441.97h17.07v2.00h-17.07zM466.79 459.99h17.07v2.00h-17.07zM466.79 464.00h17.07v2.00h-17.07zM569.21 576.12h17.07v2.00h-17.07zM449.72 604.16h17.07v2.00h-17.07zM415.58 606.16h17.07v2.00h-17.07z"/>
<path fill="#ed4543" d="M535.07 379.90h17.07v2.00h-17.07zM518.00 546.09h17.07v2.00h-17.07zM586.28 582.13h17.07v2.00h-17.07z"/>
<path fill="#fef5f5" d="M552.14 379.90h17.07v2.00h-17.07zM603.35 399.92h17.07v2.00h-17.07zM518.00 413.94h17.07v2.00h-17.07zM449.72 468.00h17.07v2.00h-17.07zM466.79 500.04h17.07v2.00h-17.07zM500.93 606.16h17.07v2.00h-17.07zM449.72 626.18h17.07v2.00h-17.07z"/>
<path fill="#fbdbda" d="M569.21 379.90h17.07v2.00h-17.07zM432.65 425.95h17.07v2.00h-17.07zM500.93 449.98h17.07v2.00h-17.07z"/>
<path fill="#dce7f8" d="M586.28 379.90h17.07v2.00h-17.07zM535.07 435.97h17.07v2.00h-17.07zM364.37 546.09h17.07v2.00h-17.07zM347.30 550.10h17.07v2.00h-17.07zM552.14 556.10h17.07v2.00h-17.07zM535.07 604.16h17.07v2.00h-17.07z"/>
<path fill="#427ddb" d="M603.35 379.90h17.07v2.00h-17.07z"/>
<path fill="#a8c3ee" d="M620.42 379.90h17.07v2.00h-17.07zM637.49 415.94h17.07v2.00h-17.07zM518.00 455.99h17.07v2.00h-17.07zM364.37 459.99h17.07v2.00h-17.07zM381.44 600.15h17.07v2.00h-17.07zM398.51 606.16h17.07v2.00h-17.07z"/>
<path fill="#bbd0f2" d="M637.49 379.90h17.07v2.00h-17.07zM483.86 381.90h17.07v2.00h-17.07zM620.42 389.91h17.07v2.00h-17.07zM637.49 409.94h17.07v2.00h-17.07zM364.37 445.98h17.07v2.00h-17.07zM398.51 564.11h17.07v2.00h-17.07zM466.79 570.12h17.07v2.00h-17.07zM364.37 602.15h17.07v2.00h-17.07zM432.65 622.18h17.07v2.00h-17.07z"/>
<path fill="#d0dff6" d="M347.30 381.90h17.07v2.00h-17.07zM415.58 381.90h17.07v2.00h-17.07zM637.49 387.91h17.07v2.00h-17.07zM432.65 399.92h17.07v2.00h-17.07zM603.35 433.96h17.07v2.00h-17.07zM518.00 532.08h17.07v2.00h-17.07zM483.86 578.13h17.07v2.00h-17.07zM398.51 636.19h17.07v2.00h-17.07z"/>
<path fill="#77a1e5" d="M364.37 381.90h17.07v2.00h-17.07zM483.86 476.01h17.07v2.00h-17.07zM347.30 482.02h17.07v2.00h-17.07zM398.51 614.17h17.07v2.00h-17.07z"/>
<path fill="#adc6ef" d="M381.44 381.90h17.07v2.00h-17.07zM603.35 431.96h17.07v2.00h-17.07zM466.79 498.04h17.07v2.00h-17.07zM483.86 528.07h17.07v2.00h-17.07z"/>
<path fill="#3372d8" d="M398.51 381.90h17.07v2.00h-17.07z"/>
<path fill="#6d9be3" d="M432.65 381.90h17.07v2.00h-17.07z"/>
<path fill="#f9c1c0" d="M449.72 381.90h17.07v2.00h-17.07zM518.00 417.95h17.07v2.00h-17.07zM500.93 425.95h17.07v2.00h-17.07zM449.72 580.13h17.07v2.00h-17.07zM637.49 610.16h17.07v2.00h-17.07zM569.21 626.18h17.07v2.00h-17.07zM483.86 638.20h17.07v2.00h-17.07z"/>
<path fill="#ed4645" d="M500.93 381.90h17.07v2.00h-17.07z"/>
<path fill="#fce1e1" d="M518.00 381.90h17.07v2.00h-17.07zM466.79 399.92h17.07v2.00h-17.07zM603.35 419.95h17.07v2.00h-17.07zM569.21 556.10h17.07v2.00h-17.07zM518.00 558.10h17.07v2.00h-17.07zM500.93 626.18h17.07v2.00h-17.07zM466.79 632.19h17.07v2.00h-17.07z"/>
<path fill="#e0e9f9" d="M552.14 381.90h17.07v2.00h-17.07zM398.51 538.08h17.07v2.00h-17.07z"/>
<path fill="#f6a09f" d="M569.21 381.90h17.07v2.00h-17.07zM500.93 423.95h17.07v2.00h-17.07zM415.58 427.96h17.07v2.00h-17.07zM500.93 427.96h17.07v2.00h-17.07zM432.65 435.97h17.07v2.00h-17.07zM637.49 512.05h17.07v2.00h-17.07zM603.35 526.07h17.07v2.00h-17.07zM381.44 530.07h17.07v2.00h-17.07zM620.42 630.19h17.07v2.00h-17.07z"/>
<path fill="#3b78d9" d="M603.35 381.90h17.07v2.00h-17.07zM364.37 474.01h17.07v2.00h-17.07z"/>
<path fill="#f8b8b8" d="M637.49 381.90h17.07v2.00h-17.07zM620.42 522.06h17.07v2.00h-17.07zM552.14 586.14h17.07v2.00h-17.07zM552.14 636.19h17.07v2.00h-17.07z"/>
<path fill="#f6a0a0" d="M347.30 383.91h17.07v2.00h-17.07z"/>
<path fill="#79a2e5" d="M364.37 383.91h17.07v2.00h-17.07z"/>
<path fill="#c2d5f3" d="M381.44 383.91h17.07v2.00h-17.07zM415.58 453.99h17.07v2.00h-17.07zM398.51 494.03h17.07v2.00h-17.07zM500.93 506.05h17.07v2.00h-17.07zM466.79 522.06h17.07v2.00h-17.07zM449.72 562.11h17.07v2.00h-17.07zM364.37 576.12h17.07v2.00h-17.07z"/>
<path fill="#bdd1f2" d="M398.51 383.91h17.07v2.00h-17.07zM449.72 447.98h17.07v2.00h-17.07zM347.30 459.99h17.07v2.00h-17.07zM449.72 542.09h17.07v2.00h-17.07zM415.58 588.14h17.07v2.00h-17.07z"/>
<path fill="#b6cdf1" d="M415.58 383.91h17.07v2.00h-17.07zM466.79 435.97h17.07v2.00h-17.07zM500.93 538.08h17.07v2.00h-17.07zM347.30 616.17h17.07v2.00h-17.07z"/>
<path fill="#abc5ef" d="M432.65 383.91h17.07v2.00h-17.07zM483.86 453.99h17.07v2.00h-17.07zM483.86 466.00h17.07v2.00h-17.07zM535.07 468.00h17.07v2.00h-17.07zM466.79 472.01h17.07v2.00h-17.07zM398.51 496.03h17.07v2.00h-17.07zM398.51 544.09h17.07v2.00h-17.07zM415.58 620.18h17.07v2.00h-17.07zM381.44 632.19h17.07v2.00h-17.07z"/>
<path fill="#f06c6b" d="M449.72 383.91h17.07v2.00h-17.07zM432.65 417.95h17.07v2.00h-17.07zM381.44 423.95h17.07v2.00h-17.07z"/>
<path fill="#ec3d3b" d="M466.79 383.91h17.07v2.00h-17.07z"/>
<path fill="#fcdddd" d="M483.86 383.91h17.07v2.00h-17.07zM449.72 385.91h17.07v2.00h-17.07zM518.00 389.91h17.07v2.00h-17.07zM518.00 419.95h17.07v2.00h-17.07zM500.93 445.98h17.07v2.00h-17.07zM364.37 528.07h17.07v2.00h-17.07zM483.86 544.09h17.07v2.00h-17.07zM518.00 592.14h17.07v2.00h-17.07z"/>
<path fill="#ed4c4b" d="M500.93 383.91h17.07v2.00h-17.07zM347.30 431.96h17.07v2.00h-17.07z"/>
<path fill="#f7a9a9" d="M518.00 383.91h17.07v2.00h-17.07z"/>
<path fill="#ee4f4e" d="M535.07 383.91h17.07v2.00h-17.07z"/>
<path fill="#fef7f7" d="M552.14 383.91h17.07v2.00h-17.07zM381.44 397.92h17.07v2.00h-17.07zM603.35 403.93h17.07v2.00h-17.07zM398.51 455.99h17.07v2.00h-17.07zM432.65 457.99h17.07v2.00h-17.07zM398.51 472.01h17.07v2.00h-17.07zM466.79 574.12h17.07v2.00h-17.07zM432.65 596.15h17.07v2.00h-17.07z"/>
<path fill="#f9c3c3" d="M569.21 383.91h17.07v2.00h-17.07zM398.51 425.95h17.07v2.00h-17.07zM552.14 459.99h17.07v2.00h-17.07zM518.00 600.15h17.07v2.00h-17.07zM466.79 640.20h17.07v2.00h-17.07z"/>
<path fill="#fdeeee" d="M586.28 383.91h17.07v2.00h-17.07zM518.00 397.92h17.07v2.00h-17.07zM381.44 419.95h17.07v2.00h-17.07zM637.49 441.97h17.07v2.00h-17.07zM415.58 457.99h17.07v2.00h-17.07zM535.07 478.01h17.07v2.00h-17.07zM500.93 552.10h17.07v2.00h-17.07zM500.93 554.10h17.07v2.00h-17.07zM603.35 576.12h17.07v2.00h-17.07zM518.00 606.16h17.07v2.00h-17.07z"/>
<path fill="#276ad6" d="M603.35 383.91h17.07v2.00h-17.07z"/>
<path fill="#eaf0fb" d="M620.42 383.91h17.07v2.00h-17.07zM500.93 494.03h17.07v2.00h-17.07zM347.30 544.09h17.07v2.00h-17.07zM466.79 558.10h17.07v2.00h-17.07z"/>
<path fill="#b7cdf1" d="M637.49 383.91h17.07v2.00h-17.07zM552.14 397.92h17.07v2.00h-17.07zM586.28 401.93h17.07v2.00h-17.07zM535.07 453.99h17.07v2.00h-17.07zM364.37 486.02h17.07v2.00h-17.07zM415.58 536.08h17.07v2.00h-17.07z"/>
<path fill="#bfd3f3" d="M347.30 385.91h17.07v2.00h-17.07zM381.44 466.00h17.07v2.00h-17.07zM381.44 554.10h17.07v2.00h-17.07zM415.58 554.10h17.07v2.00h-17.07zM398.51 568.12h17.07v2.00h-17.07zM347.30 582.13h17.07v2.00h-17.07z"/>
<path fill="#c9daf5" d="M364.37 385.91h17.07v2.00h-17.07zM518.00 433.96h17.07v2.00h-17.07zM518.00 445.98h17.07v2.00h-17.07zM483.86 464.00h17.07v2.00h-17.07zM415.58 498.04h17.07v2.00h-17.07zM398.51 508.05h17.07v2.00h-17.07zM518.00 508.05h17.07v2.00h-17.07zM415.58 558.10h17.07v2.00h-17.07zM432.65 574.12h17.07v2.00h-17.07zM364.37 612.17h17.07v2.00h-17.07zM364.37 628.18h17.07v2.00h-17.07z"/>
<path fill="#c0d3f3" d="M381.44 385.91h17.07v2.00h-17.07zM569.21 401.93h17.07v2.00h-17.07zM535.07 429.96h17.07v2.00h-17.07zM432.65 455.99h17.07v2.00h-17.07zM518.00 457.99h17.07v2.00h-17.07zM381.44 540.08h17.07v2.00h-17.07zM364.37 550.10h17.07v2.00h-17.07zM552.14 558.10h17.07v2.00h-17.07zM569.21 584.13h17.07v2.00h-17.07zM364.37 596.15h17.07v2.00h-17.07z"/>
<path fill="#98b8eb" d="M398.51 385.91h17.07v2.00h-17.07zM637.49 407.93h17.07v2.00h-17.07zM620.42 431.96h17.07v2.00h-17.07zM449.72 453.99h17.07v2.00h-17.07zM432.65 516.06h17.07v2.00h-17.07zM432.65 544.09h17.07v2.00h-17.07zM364.37 562.11h17.07v2.00h-17.07z"/>
<path fill="#f5f8fd" d="M432.65 385.91h17.07v2.00h-17.07zM483.86 407.93h17.07v2.00h-17.07zM500.93 480.02h17.07v2.00h-17.07zM449.72 488.02h17.07v2.00h-17.07zM449.72 494.03h17.07v2.00h-17.07zM552.14 524.07h17.07v2.00h-17.07zM449.72 532.08h17.07v2.00h-17.07zM500.93 540.08h17.07v2.00h-17.07zM449.72 548.09h17.07v2.00h-17.07zM449.72 578.13h17.07v2.00h-17.07zM569.21 636.19h17.07v2.00h-17.07zM552.14 640.20h17.07v2.00h-17.07z"/>
<path fill="#f6a2a1" d="M466.79 385.91h17.07v2.00h-17.07zM364.37 399.92h17.07v2.00h-17.07zM415.58 399.92h17.07v2.00h-17.07zM483.86 401.93h17.07v2.00h-17.07zM603.35 536.08h17.07v2.00h-17.07zM569.21 628.18h17.07v2.00h-17.07zM535.07 632.19h17.07v2.00h-17.07z"/>
<path fill="#fde7e7" d="M483.86 385.91h17.07v2.00h-17.07zM381.44 399.92h17.07v2.00h-17.07zM449.72 413.94h17.07v2.00h-17.07zM398.51 431.96h17.07v2.00h-17.07zM466.79 431.96h17.07v2.00h-17.07zM535.07 484.02h17.07v2.00h-17.07zM500.93 514.05h17.07v2.00h-17.07zM518.00 538.08h17.07v2.00h-17.07zM552.14 590.14h17.07v2.00h-17.07zM381.44 596.15h17.07v2.00h-17.07zM466.79 604.16h17.07v2.00h-17.07z"/>
<path fill="#f8b9b8" d="M500.93 385.91h17.07v2.00h-17.07zM569.21 395.92h17.07v2.00h-17.07zM449.72 417.95h17.07v2.00h-17.07zM586.28 512.05h17.07v2.00h-17.07zM398.51 536.08h17.07v2.00h-17.07zM535.07 548.09h17.07v2.00h-17.07zM586.28 552.10h17.07v2.00h-17.07zM466.79 592.14h17.07v2.00h-17.07z"/>
<path fill="#fce1e0" d="M518.00 385.91h17.07v2.00h-17.07zM500.93 441.97h17.07v2.00h-17.07zM569.21 600.15h17.07v2.00h-17.07zM535.07 610.16h17.07v2.00h-17.07z"/>
<path fill="#f06362" d="M535.07 385.91h17.07v2.00h-17.07zM415.58 397.92h17.07v2.00h-17.07zM347.30 411.94h17.07v2.00h-17.07zM398.51 419.95h17.07v2.00h-17.07zM620.42 542.09h17.07v2.00h-17.07z"/>
<path fill="#f3f7fd" d="M552.14 385.91h17.07v2.00h-17.07zM569.21 421.95h17.07v2.00h-17.07zM432.65 447.98h17.07v2.00h-17.07zM449.72 466.00h17.07v2.00h-17.07zM500.93 500.04h17.07v2.00h-17.07zM364.37 534.08h17.07v2.00h-17.07zM552.14 614.17h17.07v2.00h-17.07zM449.72 624.18h17.07v2.00h-17.07z"/>
<path fill="#fcfdfe" d="M569.21 385.91h17.07v2.00h-17.07zM347.30 395.92h17.07v2.00h-17.07zM364.37 397.92h17.07v2.00h-17.07zM347.30 538.08h17.07v2.00h-17.07zM449.72 564.11h17.07v2.00h-17.07zM637.49 598.15h17.07v2.00h-17.07zM535.07 618.17h17.07v2.00h-17.07zM500.93 622.18h17.07v2.00h-17.07zM603.35 638.20h17.07v2.00h-17.07z"/>
<path fill="#f9bfbf" d="M586.28 385.91h17.07v2.00h-17.07zM552.14 540.08h17.07v2.00h-17.07zM381.44 544.09h17.07v2.00h-17.07zM432.65 630.19h17.07v2.00h-17.07z"/>
<path fill="#5c8ee0" d="M603.35 385.91h17.07v2.00h-17.07zM347.30 496.03h17.07v2.00h-17.07z"/>
<path fill="#afc8f0" d="M637.49 385.91h17.07v2.00h-17.07zM381.44 462.00h17.07v2.00h-17.07zM415.58 466.00h17.07v2.00h-17.07zM535.07 532.08h17.07v2.00h-17.07zM381.44 560.11h17.07v2.00h-17.07zM364.37 570.12h17.07v2.00h-17.07zM432.65 614.17h17.07v2.00h-17.07zM364.37 624.18h17.07v2.00h-17.07zM347.30 630.19h17.07v2.00h-17.07z"/>
<path fill="#cddcf5" d="M347.30 387.91h17.07v2.00h-17.07zM603.35 397.92h17.07v2.00h-17.07zM466.79 516.06h17.07v2.00h-17.07zM535.07 590.14h17.07v2.00h-17.07z"/>
<path fill="#c4d6f4" d="M364.37 387.91h17.07v2.00h-17.07zM347.30 466.00h17.07v2.00h-17.07zM364.37 582.13h17.07v2.00h-17.07zM381.44 624.18h17.07v2.00h-17.07zM620.42 624.18h17.07v2.00h-17.07z"/>
<path fill="#c8d9f4" d="M381.44 387.91h17.07v2.00h-17.07zM552.14 419.95h17.07v2.00h-17.07zM483.86 504.04h17.07v2.00h-17.07zM415.58 594.15h17.07v2.00h-17.07zM500.93 616.17h17.07v2.00h-17.07z"/>
<path fill="#b5ccf1" d="M398.51 387.91h17.07v2.00h-17.07zM620.42 387.91h17.07v2.00h-17.07zM603.35 429.96h17.07v2.00h-17.07zM466.79 457.99h17.07v2.00h-17.07zM347.30 618.17h17.07v2.00h-17.07z"/>
<path fill="#e5edfa" d="M415.58 387.91h17.07v2.00h-17.07zM449.72 415.94h17.07v2.00h-17.07zM603.35 417.95h17.07v2.00h-17.07zM518.00 427.96h17.07v2.00h-17.07zM432.65 486.02h17.07v2.00h-17.07zM466.79 548.09h17.07v2.00h-17.07zM483.86 564.11h17.07v2.00h-17.07zM415.58 572.12h17.07v2.00h-17.07zM483.86 572.12h17.07v2.00h-17.07zM483.86 580.13h17.07v2.00h-17.07zM483.86 582.13h17.07v2.00h-17.07zM483.86 586.14h17.07v2.00h-17.07zM347.30 602.15h17.07v2.00h-17.07z"/>
<path fill="#f27e7c" d="M449.72 387.91h17.07v2.00h-17.07z"/>
<path fill="#f48d8c" d="M466.79 387.91h17.07v2.00h-17.07zM483.86 397.92h17.07v2.00h-17.07zM415.58 419.95h17.07v2.00h-17.07zM449.72 425.95h17.07v2.00h-17.07zM637.49 498.04h17.07v2.00h-17.07zM603.35 548.09h17.07v2.00h-17.07z"/>
<path fill="#fef4f4" d="M483.86 387.91h17.07v2.00h-17.07zM586.28 451.98h17.07v2.00h-17.07zM449.72 476.01h17.07v2.00h-17.07zM398.51 492.03h17.07v2.00h-17.07zM586.28 540.08h17.07v2.00h-17.07zM381.44 542.09h17.07v2.00h-17.07zM552.14 548.09h17.07v2.00h-17.07zM500.93 574.12h17.07v2.00h-17.07zM552.14 576.12h17.07v2.00h-17.07z"/>
<path fill="#eb3634" d="M500.93 387.91h17.07v2.00h-17.07zM603.35 484.02h17.07v2.00h-17.07z"/>
<path fill="#f69f9e" d="M518.00 387.91h17.07v2.00h-17.07zM552.14 500.04h17.07v2.00h-17.07zM620.42 508.05h17.07v2.00h-17.07zM637.49 522.06h17.07v2.00h-17.07z"/>
<path fill="#f6a8a7" d="M535.07 387.91h17.07v2.00h-17.07zM432.65 389.91h17.07v2.00h-17.07zM535.07 395.92h17.07v2.00h-17.07zM500.93 580.13h17.07v2.00h-17.07zM569.21 616.17h17.07v2.00h-17.07zM483.86 632.19h17.07v2.00h-17.07z"/>
<path fill="#f9c4c4" d="M552.14 387.91h17.07v2.00h-17.07zM381.44 411.94h17.07v2.00h-17.07zM637.49 544.09h17.07v2.00h-17.07zM500.93 564.11h17.07v2.00h-17.07zM535.07 620.18h17.07v2.00h-17.07z"/>
<path fill="#fef2f1" d="M569.21 387.91h17.07v2.00h-17.07z"/>
<path fill="#b4ccf1" d="M586.28 387.91h17.07v2.00h-17.07zM483.86 596.15h17.07v2.00h-17.07zM398.51 616.17h17.07v2.00h-17.07zM347.30 622.18h17.07v2.00h-17.07z"/>
<path fill="#9ab9ec" d="M603.35 387.91h17.07v2.00h-17.07zM347.30 486.02h17.07v2.00h-17.07zM364.37 502.04h17.07v2.00h-17.07zM381.44 502.04h17.07v2.00h-17.07zM500.93 534.08h17.07v2.00h-17.07zM398.51 592.14h17.07v2.00h-17.07z"/>
<path fill="#a9c3ee" d="M347.30 389.91h17.07v2.00h-17.07z"/>
<path fill="#e8effb" d="M364.37 389.91h17.07v2.00h-17.07zM398.51 447.98h17.07v2.00h-17.07zM586.28 449.98h17.07v2.00h-17.07zM500.93 484.02h17.07v2.00h-17.07zM500.93 488.02h17.07v2.00h-17.07zM449.72 544.09h17.07v2.00h-17.07zM603.35 602.15h17.07v2.00h-17.07zM483.86 608.16h17.07v2.00h-17.07zM381.44 616.17h17.07v2.00h-17.07zM620.42 622.18h17.07v2.00h-17.07zM500.93 638.20h17.07v2.00h-17.07z"/>
<path fill="#facece" d="M381.44 389.91h17.07v2.00h-17.07zM535.07 415.94h17.07v2.00h-17.07zM415.58 443.98h17.07v2.00h-17.07zM500.93 472.01h17.07v2.00h-17.07zM483.86 516.06h17.07v2.00h-17.07zM449.72 534.08h17.07v2.00h-17.07zM364.37 536.08h17.07v2.00h-17.07zM466.79 584.13h17.07v2.00h-17.07z"/>
<path fill="#d6e3f7" d="M398.51 389.91h17.07v2.00h-17.07zM347.30 397.92h17.07v2.00h-17.07zM466.79 480.02h17.07v2.00h-17.07zM500.93 496.03h17.07v2.00h-17.07zM518.00 500.04h17.07v2.00h-17.07zM518.00 504.04h17.07v2.00h-17.07zM347.30 526.07h17.07v2.00h-17.07zM364.37 630.19h17.07v2.00h-17.07z"/>
<path fill="#fbd3d2" d="M415.58 389.91h17.07v2.00h-17.07zM535.07 510.05h17.07v2.00h-17.07zM569.21 532.08h17.07v2.00h-17.07zM637.49 600.15h17.07v2.00h-17.07zM500.93 630.19h17.07v2.00h-17.07z"/>
<path fill="#f59998" d="M466.79 389.91h17.07v2.00h-17.07zM381.44 433.96h17.07v2.00h-17.07zM398.51 522.06h17.07v2.00h-17.07zM552.14 522.06h17.07v2.00h-17.07zM569.21 574.12h17.07v2.00h-17.07z"/>
<path fill="#eef3fc" d="M483.86 389.91h17.07v2.00h-17.07zM398.51 393.92h17.07v2.00h-17.07zM364.37 443.98h17.07v2.00h-17.07zM381.44 532.08h17.07v2.00h-17.07zM347.30 548.09h17.07v2.00h-17.07zM415.58 564.11h17.07v2.00h-17.07z"/>
<path fill="#fce2e2" d="M500.93 389.91h17.07v2.00h-17.07zM398.51 405.93h17.07v2.00h-17.07zM449.72 484.02h17.07v2.00h-17.07zM535.07 624.18h17.07v2.00h-17.07z"/>
<path fill="#f1706f" d="M535.07 389.91h17.07v2.00h-17.07zM586.28 464.00h17.07v2.00h-17.07zM620.42 476.01h17.07v2.00h-17.07zM552.14 532.08h17.07v2.00h-17.07z"/>
<path fill="#f4f7fd" d="M552.14 389.91h17.07v2.00h-17.07zM398.51 464.00h17.07v2.00h-17.07zM483.86 550.10h17.07v2.00h-17.07z"/>
<path fill="#d4e1f7" d="M569.21 389.91h17.07v2.00h-17.07zM586.28 389.91h17.07v2.00h-17.07zM637.49 411.94h17.07v2.00h-17.07zM518.00 429.96h17.07v2.00h-17.07zM535.07 433.96h17.07v2.00h-17.07zM347.30 447.98h17.07v2.00h-17.07zM364.37 451.98h17.07v2.00h-17.07zM381.44 457.99h17.07v2.00h-17.07zM381.44 556.10h17.07v2.00h-17.07zM518.00 598.15h17.07v2.00h-17.07z"/>
<path fill="#a4c0ee" d="M603.35 389.91h17.07v2.00h-17.07zM569.21 403.93h17.07v2.00h-17.07zM381.44 490.03h17.07v2.00h-17.07zM466.79 546.09h17.07v2.00h-17.07zM364.37 598.15h17.07v2.00h-17.07zM398.51 602.15h17.07v2.00h-17.07z"/>
<path fill="#fdeded" d="M637.49 389.91h17.07v2.00h-17.07zM483.86 441.97h17.07v2.00h-17.07zM603.35 522.06h17.07v2.00h-17.07zM500.93 562.11h17.07v2.00h-17.07z"/>
<path fill="#f59c9b" d="M364.37 391.92h17.07v2.00h-17.07zM552.14 536.08h17.07v2.00h-17.07zM500.93 594.15h17.07v2.00h-17.07zM518.00 614.17h17.07v2.00h-17.07z"/>
<path fill="#facac9" d="M381.44 391.92h17.07v2.00h-17.07z"/>
<path fill="#eff4fc" d="M398.51 391.92h17.07v2.00h-17.07zM483.86 409.94h17.07v2.00h-17.07zM620.42 421.95h17.07v2.00h-17.07zM535.07 508.05h17.07v2.00h-17.07zM398.51 512.05h17.07v2.00h-17.07zM381.44 516.06h17.07v2.00h-17.07zM466.79 538.08h17.07v2.00h-17.07zM483.86 554.10h17.07v2.00h-17.07zM449.72 574.12h17.07v2.00h-17.07z"/>
<path fill="#f59d9c" d="M415.58 391.92h17.07v2.00h-17.07zM518.00 411.94h17.07v2.00h-17.07zM466.79 415.94h17.07v2.00h-17.07zM637.49 457.99h17.07v2.00h-17.07zM603.35 534.08h17.07v2.00h-17.07zM466.79 630.19h17.07v2.00h-17.07zM535.07 638.20h17.07v2.00h-17.07z"/>
<path fill="#fffefe" d="M432.65 391.92h17.07v2.00h-17.07zM483.86 395.92h17.07v2.00h-17.07zM381.44 401.93h17.07v2.00h-17.07zM398.51 401.93h17.07v2.00h-17.07zM500.93 486.02h17.07v2.00h-17.07zM432.65 504.04h17.07v2.00h-17.07zM483.86 532.08h17.07v2.00h-17.07zM449.72 638.20h17.07v2.00h-17.07z"/>
<path fill="#ef5a59" d="M449.72 391.92h17.07v2.00h-17.07zM347.30 429.96h17.07v2.00h-17.07zM603.35 449.98h17.07v2.00h-17.07zM620.42 540.08h17.07v2.00h-17.07zM637.49 566.11h17.07v2.00h-17.07zM637.49 634.19h17.07v2.00h-17.07z"/>
<path fill="#f49392" d="M466.79 391.92h17.07v2.00h-17.07zM569.21 445.98h17.07v2.00h-17.07zM620.42 459.99h17.07v2.00h-17.07z"/>
<path fill="#fbd8d8" d="M483.86 391.92h17.07v2.00h-17.07zM500.93 407.93h17.07v2.00h-17.07zM569.21 417.95h17.07v2.00h-17.07zM466.79 536.08h17.07v2.00h-17.07zM466.79 600.15h17.07v2.00h-17.07z"/>
<path fill="#f17574" d="M500.93 391.92h17.07v2.00h-17.07zM364.37 421.95h17.07v2.00h-17.07zM569.21 464.00h17.07v2.00h-17.07zM620.42 586.14h17.07v2.00h-17.07zM637.49 604.16h17.07v2.00h-17.07zM586.28 622.18h17.07v2.00h-17.07z"/>
<path fill="#f48f8e" d="M518.00 391.92h17.07v2.00h-17.07zM500.93 433.96h17.07v2.00h-17.07zM415.58 528.07h17.07v2.00h-17.07zM637.49 596.15h17.07v2.00h-17.07zM637.49 612.17h17.07v2.00h-17.07z"/>
<path fill="#f7aead" d="M535.07 391.92h17.07v2.00h-17.07zM483.86 417.95h17.07v2.00h-17.07zM552.14 506.05h17.07v2.00h-17.07z"/>
<path fill="#fce4e4" d="M552.14 391.92h17.07v2.00h-17.07zM466.79 395.92h17.07v2.00h-17.07zM398.51 397.92h17.07v2.00h-17.07zM535.07 482.02h17.07v2.00h-17.07zM535.07 494.03h17.07v2.00h-17.07zM586.28 538.08h17.07v2.00h-17.07zM637.49 538.08h17.07v2.00h-17.07zM415.58 540.08h17.07v2.00h-17.07zM552.14 572.12h17.07v2.00h-17.07z"/>
<path fill="#f8fafe" d="M569.21 391.92h17.07v2.00h-17.07zM347.30 405.93h17.07v2.00h-17.07zM432.65 413.94h17.07v2.00h-17.07zM535.07 472.01h17.07v2.00h-17.07zM449.72 504.04h17.07v2.00h-17.07zM483.86 512.05h17.07v2.00h-17.07zM364.37 538.08h17.07v2.00h-17.07zM500.93 558.10h17.07v2.00h-17.07zM449.72 576.12h17.07v2.00h-17.07zM535.07 616.17h17.07v2.00h-17.07z"/>
<path fill="#7ea6e6" d="M586.28 391.92h17.07v2.00h-17.07zM432.65 403.93h17.07v2.00h-17.07zM432.65 606.16h17.07v2.00h-17.07z"/>
<path fill="#bed2f3" d="M603.35 391.92h17.07v2.00h-17.07zM603.35 435.97h17.07v2.00h-17.07zM518.00 490.03h17.07v2.00h-17.07zM364.37 586.14h17.07v2.00h-17.07z"/>
<path fill="#80a8e7" d="M637.49 391.92h17.07v2.00h-17.07zM381.44 476.01h17.07v2.00h-17.07zM415.58 500.04h17.07v2.00h-17.07zM483.86 500.04h17.07v2.00h-17.07zM483.86 552.10h17.07v2.00h-17.07z"/>
<path fill="#a7c2ee" d="M347.30 393.92h17.07v2.00h-17.07zM398.51 449.98h17.07v2.00h-17.07zM364.37 464.00h17.07v2.00h-17.07zM518.00 482.02h17.07v2.00h-17.07zM381.44 488.02h17.07v2.00h-17.07z"/>
<path fill="#f59695" d="M364.37 393.92h17.07v2.00h-17.07zM518.00 588.14h17.07v2.00h-17.07z"/>
<path fill="#f6f9fd" d="M381.44 393.92h17.07v2.00h-17.07zM603.35 413.94h17.07v2.00h-17.07zM466.79 496.03h17.07v2.00h-17.07zM535.07 606.16h17.07v2.00h-17.07zM500.93 608.16h17.07v2.00h-17.07zM500.93 620.18h17.07v2.00h-17.07z"/>
<path fill="#fce5e5" d="M432.65 393.92h17.07v2.00h-17.07zM432.65 437.97h17.07v2.00h-17.07zM518.00 447.98h17.07v2.00h-17.07zM535.07 496.03h17.07v2.00h-17.07zM500.93 518.06h17.07v2.00h-17.07z"/>
<path fill="#f17674" d="M449.72 393.92h17.07v2.00h-17.07z"/>
<path fill="#fbd2d1" d="M466.79 393.92h17.07v2.00h-17.07zM500.93 439.97h17.07v2.00h-17.07z"/>
<path fill="#facfcf" d="M483.86 393.92h17.07v2.00h-17.07zM432.65 468.00h17.07v2.00h-17.07zM535.07 504.04h17.07v2.00h-17.07zM552.14 582.13h17.07v2.00h-17.07z"/>
<path fill="#f9bfbe" d="M500.93 393.92h17.07v2.00h-17.07zM518.00 393.92h17.07v2.00h-17.07zM449.72 441.97h17.07v2.00h-17.07zM381.44 522.06h17.07v2.00h-17.07zM569.21 564.11h17.07v2.00h-17.07z"/>
<path fill="#f8b6b5" d="M535.07 393.92h17.07v2.00h-17.07zM432.65 431.96h17.07v2.00h-17.07zM552.14 455.99h17.07v2.00h-17.07zM620.42 528.07h17.07v2.00h-17.07zM398.51 534.08h17.07v2.00h-17.07z"/>
<path fill="#c8d9f5" d="M552.14 393.92h17.07v2.00h-17.07zM586.28 405.93h17.07v2.00h-17.07zM500.93 437.97h17.07v2.00h-17.07zM364.37 457.99h17.07v2.00h-17.07zM449.72 474.01h17.07v2.00h-17.07zM483.86 584.13h17.07v2.00h-17.07zM381.44 592.14h17.07v2.00h-17.07zM518.00 602.15h17.07v2.00h-17.07zM347.30 620.18h17.07v2.00h-17.07zM569.21 638.20h17.07v2.00h-17.07z"/>
<path fill="#a2bfed" d="M569.21 393.92h17.07v2.00h-17.07zM637.49 403.93h17.07v2.00h-17.07zM364.37 476.01h17.07v2.00h-17.07zM449.72 492.03h17.07v2.00h-17.07zM500.93 536.08h17.07v2.00h-17.07zM347.30 556.10h17.07v2.00h-17.07zM603.35 578.13h17.07v2.00h-17.07zM432.65 582.13h17.07v2.00h-17.07zM432.65 632.19h17.07v2.00h-17.07z"/>
<path fill="#8fb2ea" d="M586.28 393.92h17.07v2.00h-17.07zM518.00 443.98h17.07v2.00h-17.07zM415.58 492.03h17.07v2.00h-17.07z"/>
<path fill="#4f86dd" d="M603.35 393.92h17.07v2.00h-17.07zM347.30 594.15h17.07v2.00h-17.07z"/>
<path fill="#f0f5fc" d="M620.42 393.92h17.07v2.00h-17.07zM620.42 411.94h17.07v2.00h-17.07zM535.07 449.98h17.07v2.00h-17.07zM347.30 462.00h17.07v2.00h-17.07zM432.65 524.07h17.07v2.00h-17.07zM603.35 582.13h17.07v2.00h-17.07zM466.79 602.15h17.07v2.00h-17.07z"/>
<path fill="#ffffff" d="M637.49 393.92h17.07v2.00h-17.07zM620.42 409.94h17.07v2.00h-17.07zM364.37 431.96h17.07v2.00h-17.07zM449.72 431.96h17.07v2.00h-17.07zM483.86 449.98h17.07v2.00h-17.07zM500.93 464.00h17.07v2.00h-17.07zM518.00 488.02h17.07v2.00h-17.07zM398.51 498.04h17.07v2.00h-17.07zM483.86 534.08h17.07v2.00h-17.07zM347.30 536.08h17.07v2.00h-17.07zM569.21 586.14h17.07v2.00h-17.07zM552.14 594.15h17.07v2.00h-17.07z"/>
<path fill="#f7b1b0" d="M364.37 395.92h17.07v2.00h-17.07zM398.51 415.94h17.07v2.00h-17.07zM466.79 425.95h17.07v2.00h-17.07zM364.37 441.97h17.07v2.00h-17.07zM620.42 443.98h17.07v2.00h-17.07zM569.21 466.00h17.07v2.00h-17.07zM466.79 572.12h17.07v2.00h-17.07z"/>
<path fill="#96b7eb" d="M381.44 395.92h17.07v2.00h-17.07zM552.14 433.96h17.07v2.00h-17.07zM518.00 512.05h17.07v2.00h-17.07zM347.30 636.19h17.07v2.00h-17.07z"/>
<path fill="#d9e5f8" d="M398.51 395.92h17.07v2.00h-17.07zM569.21 413.94h17.07v2.00h-17.07zM364.37 449.98h17.07v2.00h-17.07zM432.65 466.00h17.07v2.00h-17.07zM449.72 498.04h17.07v2.00h-17.07zM466.79 504.04h17.07v2.00h-17.07zM398.51 580.13h17.07v2.00h-17.07zM500.93 614.17h17.07v2.00h-17.07zM569.21 618.17h17.07v2.00h-17.07zM432.65 620.18h17.07v2.00h-17.07z"/>
<path fill="#fcdfdf" d="M415.58 395.92h17.07v2.00h-17.07zM535.07 413.94h17.07v2.00h-17.07zM535.07 570.12h17.07v2.00h-17.07zM466.79 626.18h17.07v2.00h-17.07zM569.21 640.20h17.07v2.00h-17.07z"/>
<path fill="#fcdddc" d="M432.65 395.92h17.07v2.00h-17.07zM432.65 421.95h17.07v2.00h-17.07zM347.30 435.97h17.07v2.00h-17.07z"/>
<path fill="#f17170" d="M449.72 395.92h17.07v2.00h-17.07zM381.44 427.96h17.07v2.00h-17.07zM569.21 484.02h17.07v2.00h-17.07zM620.42 580.13h17.07v2.00h-17.07z"/>
<path fill="#f38382" d="M500.93 395.92h17.07v2.00h-17.07zM381.44 415.94h17.07v2.00h-17.07zM449.72 423.95h17.07v2.00h-17.07zM637.49 464.00h17.07v2.00h-17.07zM620.42 466.00h17.07v2.00h-17.07zM569.21 540.08h17.07v2.00h-17.07z"/>
<path fill="#a5c1ee" d="M552.14 395.92h17.07v2.00h-17.07zM432.65 482.02h17.07v2.00h-17.07zM432.65 566.11h17.07v2.00h-17.07zM381.44 612.17h17.07v2.00h-17.07z"/>
<path fill="#88ade8" d="M586.28 395.92h17.07v2.00h-17.07zM449.72 439.97h17.07v2.00h-17.07zM415.58 451.98h17.07v2.00h-17.07zM483.86 457.99h17.07v2.00h-17.07zM466.79 526.07h17.07v2.00h-17.07zM432.65 536.08h17.07v2.00h-17.07z"/>
<path fill="#9dbbec" d="M603.35 395.92h17.07v2.00h-17.07zM381.44 480.02h17.07v2.00h-17.07zM364.37 510.05h17.07v2.00h-17.07zM398.51 634.19h17.07v2.00h-17.07z"/>
<path fill="#aec7f0" d="M620.42 395.92h17.07v2.00h-17.07zM620.42 433.96h17.07v2.00h-17.07zM449.72 451.98h17.07v2.00h-17.07zM518.00 453.99h17.07v2.00h-17.07zM535.07 524.07h17.07v2.00h-17.07zM381.44 608.16h17.07v2.00h-17.07zM449.72 608.16h17.07v2.00h-17.07z"/>
<path fill="#e7eefa" d="M637.49 395.92h17.07v2.00h-17.07zM449.72 572.12h17.07v2.00h-17.07z"/>
<path fill="#f6a5a4" d="M449.72 397.92h17.07v2.00h-17.07zM620.42 504.04h17.07v2.00h-17.07zM552.14 550.10h17.07v2.00h-17.07z"/>
<path fill="#fce3e2" d="M466.79 397.92h17.07v2.00h-17.07z"/>
<path fill="#facbcb" d="M500.93 397.92h17.07v2.00h-17.07zM637.49 445.98h17.07v2.00h-17.07zM398.51 516.06h17.07v2.00h-17.07zM500.93 604.16h17.07v2.00h-17.07z"/>
<path fill="#f49493" d="M535.07 397.92h17.07v2.00h-17.07zM415.58 425.95h17.07v2.00h-17.07zM569.21 449.98h17.07v2.00h-17.07zM620.42 457.99h17.07v2.00h-17.07zM603.35 516.06h17.07v2.00h-17.07zM569.21 520.06h17.07v2.00h-17.07zM586.28 524.07h17.07v2.00h-17.07zM552.14 580.13h17.07v2.00h-17.07zM466.79 590.14h17.07v2.00h-17.07zM466.79 612.17h17.07v2.00h-17.07zM535.07 614.17h17.07v2.00h-17.07z"/>
<path fill="#6a98e2" d="M586.28 397.92h17.07v2.00h-17.07zM518.00 441.97h17.07v2.00h-17.07z"/>
<path fill="#c0d4f3" d="M620.42 397.92h17.07v2.00h-17.07zM535.07 423.95h17.07v2.00h-17.07zM449.72 459.99h17.07v2.00h-17.07zM432.65 492.03h17.07v2.00h-17.07zM535.07 528.07h17.07v2.00h-17.07z"/>
<path fill="#89aee8" d="M637.49 397.92h17.07v2.00h-17.07zM586.28 407.93h17.07v2.00h-17.07zM586.28 419.95h17.07v2.00h-17.07zM586.28 423.95h17.07v2.00h-17.07zM432.65 608.16h17.07v2.00h-17.07z"/>
<path fill="#fac9c9" d="M347.30 399.92h17.07v2.00h-17.07zM415.58 439.97h17.07v2.00h-17.07zM586.28 534.08h17.07v2.00h-17.07zM381.44 538.08h17.07v2.00h-17.07zM552.14 544.09h17.07v2.00h-17.07zM535.07 582.13h17.07v2.00h-17.07zM500.93 584.13h17.07v2.00h-17.07zM449.72 616.17h17.07v2.00h-17.07z"/>
<path fill="#fef2f2" d="M398.51 399.92h17.07v2.00h-17.07zM381.44 407.93h17.07v2.00h-17.07zM347.30 453.99h17.07v2.00h-17.07zM518.00 462.00h17.07v2.00h-17.07zM449.72 502.04h17.07v2.00h-17.07zM535.07 512.05h17.07v2.00h-17.07zM347.30 546.09h17.07v2.00h-17.07zM398.51 582.13h17.07v2.00h-17.07zM552.14 592.14h17.07v2.00h-17.07zM552.14 618.17h17.07v2.00h-17.07zM449.72 632.19h17.07v2.00h-17.07z"/>
<path fill="#f59595" d="M449.72 399.92h17.07v2.00h-17.07z"/>
<path fill="#fbd4d4" d="M483.86 399.92h17.07v2.00h-17.07zM466.79 628.18h17.07v2.00h-17.07zM500.93 628.18h17.07v2.00h-17.07zM552.14 638.20h17.07v2.00h-17.07z"/>
<path fill="#f8bdbc" d="M500.93 399.92h17.07v2.00h-17.07zM398.51 435.97h17.07v2.00h-17.07zM398.51 526.07h17.07v2.00h-17.07zM552.14 526.07h17.07v2.00h-17.07zM569.21 594.15h17.07v2.00h-17.07z"/>
<path fill="#e92422" d="M518.00 399.92h17.07v2.00h-17.07zM381.44 435.97h17.07v2.00h-17.07zM586.28 614.17h17.07v2.00h-17.07z"/>
<path fill="#f59b9a" d="M535.07 399.92h17.07v2.00h-17.07zM466.79 413.94h17.07v2.00h-17.07zM415.58 415.94h17.07v2.00h-17.07zM466.79 427.96h17.07v2.00h-17.07zM569.21 490.03h17.07v2.00h-17.07zM552.14 504.04h17.07v2.00h-17.07z"/>
<path fill="#fef9f9" d="M552.14 399.92h17.07v2.00h-17.07zM347.30 455.99h17.07v2.00h-17.07zM500.93 455.99h17.07v2.00h-17.07zM535.07 466.00h17.07v2.00h-17.07zM518.00 484.02h17.07v2.00h-17.07zM466.79 502.04h17.07v2.00h-17.07zM500.93 504.04h17.07v2.00h-17.07zM449.72 518.06h17.07v2.00h-17.07zM535.07 564.11h17.07v2.00h-17.07zM432.65 594.15h17.07v2.00h-17.07z"/>
<path fill="#fafcfe" d="M569.21 399.92h17.07v2.00h-17.07zM398.51 407.93h17.07v2.00h-17.07zM603.35 457.99h17.07v2.00h-17.07zM398.51 466.00h17.07v2.00h-17.07zM432.65 510.05h17.07v2.00h-17.07zM398.51 578.13h17.07v2.00h-17.07z"/>
<path fill="#a0beed" d="M586.28 399.92h17.07v2.00h-17.07zM466.79 453.99h17.07v2.00h-17.07zM500.93 474.01h17.07v2.00h-17.07zM432.65 626.18h17.07v2.00h-17.07z"/>
<path fill="#588cdf" d="M620.42 399.92h17.07v2.00h-17.07z"/>
<path fill="#b2caf0" d="M637.49 399.92h17.07v2.00h-17.07zM500.93 459.99h17.07v2.00h-17.07zM432.65 506.05h17.07v2.00h-17.07zM415.58 514.05h17.07v2.00h-17.07zM466.79 514.05h17.07v2.00h-17.07zM364.37 568.12h17.07v2.00h-17.07zM432.65 586.14h17.07v2.00h-17.07zM449.72 606.16h17.07v2.00h-17.07z"/>
<path fill="#76a1e5" d="M347.30 401.93h17.07v2.00h-17.07zM586.28 431.96h17.07v2.00h-17.07zM415.58 556.10h17.07v2.00h-17.07zM381.44 630.19h17.07v2.00h-17.07z"/>
<path fill="#f9fbfe" d="M415.58 401.93h17.07v2.00h-17.07zM347.30 451.98h17.07v2.00h-17.07zM535.07 480.02h17.07v2.00h-17.07zM466.79 484.02h17.07v2.00h-17.07zM500.93 516.06h17.07v2.00h-17.07zM518.00 520.06h17.07v2.00h-17.07zM500.93 592.14h17.07v2.00h-17.07zM398.51 604.16h17.07v2.00h-17.07z"/>
<path fill="#99b9eb" d="M432.65 401.93h17.07v2.00h-17.07zM432.65 464.00h17.07v2.00h-17.07zM449.72 478.01h17.07v2.00h-17.07zM364.37 572.12h17.07v2.00h-17.07z"/>
<path fill="#f8b4b3" d="M449.72 401.93h17.07v2.00h-17.07zM552.14 484.02h17.07v2.00h-17.07zM586.28 530.07h17.07v2.00h-17.07zM569.21 550.10h17.07v2.00h-17.07zM569.21 590.14h17.07v2.00h-17.07zM637.49 590.14h17.07v2.00h-17.07zM569.21 596.15h17.07v2.00h-17.07z"/>
<path fill="#f27e7d" d="M466.79 401.93h17.07v2.00h-17.07zM620.42 484.02h17.07v2.00h-17.07zM552.14 510.05h17.07v2.00h-17.07zM586.28 510.05h17.07v2.00h-17.07zM603.35 564.11h17.07v2.00h-17.07zM637.49 570.12h17.07v2.00h-17.07zM637.49 620.18h17.07v2.00h-17.07zM552.14 626.18h17.07v2.00h-17.07zM518.00 636.19h17.07v2.00h-17.07zM483.86 640.20h17.07v2.00h-17.07z"/>
<path fill="#f8bcbb" d="M518.00 401.93h17.07v2.00h-17.07zM603.35 552.10h17.07v2.00h-17.07zM518.00 612.17h17.07v2.00h-17.07z"/>
<path fill="#f48c8b" d="M535.07 401.93h17.07v2.00h-17.07zM637.49 455.99h17.07v2.00h-17.07zM552.14 508.05h17.07v2.00h-17.07zM552.14 512.05h17.07v2.00h-17.07zM518.00 540.08h17.07v2.00h-17.07zM518.00 610.16h17.07v2.00h-17.07z"/>
<path fill="#fdfeff" d="M552.14 401.93h17.07v2.00h-17.07zM432.65 552.10h17.07v2.00h-17.07zM483.86 588.14h17.07v2.00h-17.07zM518.00 596.15h17.07v2.00h-17.07zM364.37 610.16h17.07v2.00h-17.07zM364.37 618.17h17.07v2.00h-17.07z"/>
<path fill="#d3e1f7" d="M603.35 401.93h17.07v2.00h-17.07zM432.65 415.94h17.07v2.00h-17.07zM415.58 464.00h17.07v2.00h-17.07zM415.58 522.06h17.07v2.00h-17.07zM449.72 538.08h17.07v2.00h-17.07zM552.14 560.11h17.07v2.00h-17.07zM535.07 580.13h17.07v2.00h-17.07z"/>
<path fill="#7da5e6" d="M620.42 401.93h17.07v2.00h-17.07zM347.30 518.06h17.07v2.00h-17.07z"/>
<path fill="#739ee4" d="M637.49 401.93h17.07v2.00h-17.07zM586.28 413.94h17.07v2.00h-17.07z"/>
<path fill="#f7fafd" d="M347.30 403.93h17.07v2.00h-17.07zM500.93 413.94h17.07v2.00h-17.07z"/>
<path fill="#7aa3e5" d="M381.44 403.93h17.07v2.00h-17.07z"/>
<path fill="#fef0f0" d="M398.51 403.93h17.07v2.00h-17.07zM603.35 405.93h17.07v2.00h-17.07zM518.00 409.94h17.07v2.00h-17.07zM398.51 459.99h17.07v2.00h-17.07zM398.51 490.03h17.07v2.00h-17.07zM552.14 546.09h17.07v2.00h-17.07zM483.86 574.12h17.07v2.00h-17.07zM466.79 598.15h17.07v2.00h-17.07z"/>
<path fill="#fdefef" d="M415.58 403.93h17.07v2.00h-17.07zM432.65 407.93h17.07v2.00h-17.07zM535.07 407.93h17.07v2.00h-17.07zM364.37 437.97h17.07v2.00h-17.07zM518.00 492.03h17.07v2.00h-17.07zM518.00 564.11h17.07v2.00h-17.07z"/>
<path fill="#f9c5c5" d="M449.72 403.93h17.07v2.00h-17.07zM449.72 411.94h17.07v2.00h-17.07zM569.21 411.94h17.07v2.00h-17.07zM603.35 630.19h17.07v2.00h-17.07z"/>
<path fill="#f48b8a" d="M466.79 403.93h17.07v2.00h-17.07zM432.65 423.95h17.07v2.00h-17.07zM569.21 472.01h17.07v2.00h-17.07zM586.28 550.10h17.07v2.00h-17.07z"/>
<path fill="#f59e9e" d="M483.86 403.93h17.07v2.00h-17.07z"/>
<path fill="#f06b6a" d="M500.93 403.93h17.07v2.00h-17.07zM569.21 447.98h17.07v2.00h-17.07zM586.28 462.00h17.07v2.00h-17.07zM603.35 542.09h17.07v2.00h-17.07zM620.42 588.14h17.07v2.00h-17.07zM586.28 610.16h17.07v2.00h-17.07z"/>
<path fill="#f27c7a" d="M518.00 403.93h17.07v2.00h-17.07zM552.14 612.17h17.07v2.00h-17.07z"/>
<path fill="#ee5654" d="M535.07 403.93h17.07v2.00h-17.07zM518.00 572.12h17.07v2.00h-17.07zM637.49 592.14h17.07v2.00h-17.07z"/>
<path fill="#edf2fb" d="M552.14 403.93h17.07v2.00h-17.07z"/>
<path fill="#9abaec" d="M586.28 403.93h17.07v2.00h-17.07zM415.58 586.14h17.07v2.00h-17.07z"/>
<path fill="#d1dff6" d="M364.37 405.93h17.07v2.00h-17.07zM620.42 423.95h17.07v2.00h-17.07zM364.37 455.99h17.07v2.00h-17.07zM364.37 512.05h17.07v2.00h-17.07zM518.00 524.07h17.07v2.00h-17.07zM449.72 554.10h17.07v2.00h-17.07zM535.07 572.12h17.07v2.00h-17.07zM432.65 600.15h17.07v2.00h-17.07zM432.65 604.16h17.07v2.00h-17.07z"/>
<path fill="#fffdfd" d="M381.44 405.93h17.07v2.00h-17.07zM381.44 409.94h17.07v2.00h-17.07zM535.07 411.94h17.07v2.00h-17.07zM500.93 447.98h17.07v2.00h-17.07zM500.93 520.06h17.07v2.00h-17.07zM483.86 542.09h17.07v2.00h-17.07zM483.86 626.18h17.07v2.00h-17.07z"/>
<path fill="#f7afaf" d="M415.58 405.93h17.07v2.00h-17.07zM518.00 530.07h17.07v2.00h-17.07zM518.00 586.14h17.07v2.00h-17.07zM552.14 616.17h17.07v2.00h-17.07z"/>
<path fill="#5b8ee0" d="M432.65 405.93h17.07v2.00h-17.07zM586.28 417.95h17.07v2.00h-17.07zM483.86 530.07h17.07v2.00h-17.07zM432.65 540.08h17.07v2.00h-17.07zM347.30 590.14h17.07v2.00h-17.07zM381.44 614.17h17.07v2.00h-17.07z"/>
<path fill="#ef5f5d" d="M449.72 405.93h17.07v2.00h-17.07zM569.21 451.98h17.07v2.00h-17.07zM637.49 530.07h17.07v2.00h-17.07z"/>
<path fill="#f16e6d" d="M466.79 405.93h17.07v2.00h-17.07zM620.42 500.04h17.07v2.00h-17.07zM620.42 578.13h17.07v2.00h-17.07zM586.28 592.14h17.07v2.00h-17.07z"/>
<path fill="#f7acac" d="M483.86 405.93h17.07v2.00h-17.07zM347.30 445.98h17.07v2.00h-17.07zM586.28 594.15h17.07v2.00h-17.07zM620.42 634.19h17.07v2.00h-17.07z"/>
<path fill="#f7acab" d="M500.93 405.93h17.07v2.00h-17.07zM500.93 435.97h17.07v2.00h-17.07zM637.49 514.05h17.07v2.00h-17.07zM535.07 550.10h17.07v2.00h-17.07zM586.28 556.10h17.07v2.00h-17.07zM466.79 578.13h17.07v2.00h-17.07zM466.79 616.17h17.07v2.00h-17.07zM586.28 630.19h17.07v2.00h-17.07z"/>
<path fill="#f6a1a0" d="M518.00 405.93h17.07v2.00h-17.07zM483.86 439.97h17.07v2.00h-17.07zM586.28 457.99h17.07v2.00h-17.07zM637.49 586.14h17.07v2.00h-17.07zM620.42 606.16h17.07v2.00h-17.07zM603.35 614.17h17.07v2.00h-17.07zM603.35 620.18h17.07v2.00h-17.07zM620.42 620.18h17.07v2.00h-17.07z"/>
<path fill="#f59e9d" d="M535.07 405.93h17.07v2.00h-17.07zM364.37 409.94h17.07v2.00h-17.07zM398.51 437.97h17.07v2.00h-17.07zM637.49 447.98h17.07v2.00h-17.07zM535.07 476.01h17.07v2.00h-17.07z"/>
<path fill="#b0c8f0" d="M552.14 405.93h17.07v2.00h-17.07zM449.72 480.02h17.07v2.00h-17.07zM347.30 552.10h17.07v2.00h-17.07z"/>
<path fill="#83a9e7" d="M569.21 405.93h17.07v2.00h-17.07zM586.28 411.94h17.07v2.00h-17.07zM398.51 486.02h17.07v2.00h-17.07zM432.65 550.10h17.07v2.00h-17.07z"/>
<path fill="#c3d5f3" d="M620.42 405.93h17.07v2.00h-17.07zM569.21 419.95h17.07v2.00h-17.07zM398.51 502.04h17.07v2.00h-17.07zM449.72 546.09h17.07v2.00h-17.07z"/>
<path fill="#87ace8" d="M637.49 405.93h17.07v2.00h-17.07zM483.86 492.03h17.07v2.00h-17.07zM432.65 568.12h17.07v2.00h-17.07z"/>
<path fill="#fdeae9" d="M347.30 407.93h17.07v2.00h-17.07zM603.35 407.93h17.07v2.00h-17.07zM569.21 512.05h17.07v2.00h-17.07zM552.14 562.11h17.07v2.00h-17.07z"/>
<path fill="#f7fafe" d="M364.37 407.93h17.07v2.00h-17.07zM552.14 445.98h17.07v2.00h-17.07zM518.00 470.00h17.07v2.00h-17.07zM381.44 492.03h17.07v2.00h-17.07zM449.72 586.14h17.07v2.00h-17.07zM432.65 592.14h17.07v2.00h-17.07z"/>
<path fill="#dde7f8" d="M415.58 407.93h17.07v2.00h-17.07zM569.21 435.97h17.07v2.00h-17.07zM381.44 514.05h17.07v2.00h-17.07zM535.07 558.10h17.07v2.00h-17.07zM381.44 588.14h17.07v2.00h-17.07z"/>
<path fill="#fffcfc" d="M449.72 407.93h17.07v2.00h-17.07zM398.51 484.02h17.07v2.00h-17.07zM483.86 518.06h17.07v2.00h-17.07zM483.86 540.08h17.07v2.00h-17.07z"/>
<path fill="#fef1f1" d="M466.79 407.93h17.07v2.00h-17.07zM449.72 409.94h17.07v2.00h-17.07zM500.93 457.99h17.07v2.00h-17.07zM449.72 462.00h17.07v2.00h-17.07zM415.58 530.07h17.07v2.00h-17.07zM483.86 570.12h17.07v2.00h-17.07zM466.79 620.18h17.07v2.00h-17.07z"/>
<path fill="#f9bebd" d="M518.00 407.93h17.07v2.00h-17.07zM398.51 518.06h17.07v2.00h-17.07zM552.14 542.09h17.07v2.00h-17.07z"/>
<path fill="#a1bfed" d="M552.14 407.93h17.07v2.00h-17.07z"/>
<path fill="#fbdada" d="M569.21 407.93h17.07v2.00h-17.07zM432.65 443.98h17.07v2.00h-17.07zM518.00 496.03h17.07v2.00h-17.07zM620.42 526.07h17.07v2.00h-17.07zM586.28 544.09h17.07v2.00h-17.07zM586.28 560.11h17.07v2.00h-17.07zM449.72 630.19h17.07v2.00h-17.07z"/>
<path fill="#eaf1fb" d="M620.42 407.93h17.07v2.00h-17.07zM466.79 433.96h17.07v2.00h-17.07zM381.44 447.98h17.07v2.00h-17.07zM466.79 447.98h17.07v2.00h-17.07zM398.51 576.12h17.07v2.00h-17.07zM518.00 624.18h17.07v2.00h-17.07z"/>
<path fill="#f9c2c1" d="M347.30 409.94h17.07v2.00h-17.07zM586.28 472.01h17.07v2.00h-17.07zM569.21 528.07h17.07v2.00h-17.07zM535.07 556.10h17.07v2.00h-17.07zM518.00 622.18h17.07v2.00h-17.07z"/>
<path fill="#f8b3b3" d="M398.51 409.94h17.07v2.00h-17.07zM518.00 590.14h17.07v2.00h-17.07zM483.86 630.19h17.07v2.00h-17.07z"/>
<path fill="#f16c6b" d="M415.58 409.94h17.07v2.00h-17.07z"/>
<path fill="#fce3e3" d="M466.79 409.94h17.07v2.00h-17.07zM535.07 490.03h17.07v2.00h-17.07zM620.42 520.06h17.07v2.00h-17.07zM586.28 554.10h17.07v2.00h-17.07z"/>
<path fill="#fbfcfe" d="M535.07 409.94h17.07v2.00h-17.07zM432.65 480.02h17.07v2.00h-17.07zM518.00 502.04h17.07v2.00h-17.07zM466.79 564.11h17.07v2.00h-17.07zM620.42 626.18h17.07v2.00h-17.07zM398.51 632.19h17.07v2.00h-17.07z"/>
<path fill="#dde8f9" d="M552.14 409.94h17.07v2.00h-17.07zM449.72 455.99h17.07v2.00h-17.07zM500.93 598.15h17.07v2.00h-17.07zM603.35 616.17h17.07v2.00h-17.07z"/>
<path fill="#719de4" d="M569.21 409.94h17.07v2.00h-17.07zM432.65 542.09h17.07v2.00h-17.07zM432.65 570.12h17.07v2.00h-17.07z"/>
<path fill="#5d90e0" d="M586.28 409.94h17.07v2.00h-17.07z"/>
<path fill="#f7aaaa" d="M603.35 409.94h17.07v2.00h-17.07zM569.21 554.10h17.07v2.00h-17.07zM500.93 596.15h17.07v2.00h-17.07zM603.35 608.16h17.07v2.00h-17.07z"/>
<path fill="#f38685" d="M364.37 411.94h17.07v2.00h-17.07zM432.65 433.96h17.07v2.00h-17.07zM518.00 566.11h17.07v2.00h-17.07zM586.28 576.12h17.07v2.00h-17.07zM620.42 600.15h17.07v2.00h-17.07zM552.14 610.16h17.07v2.00h-17.07z"/>
<path fill="#fffafa" d="M398.51 411.94h17.07v2.00h-17.07zM466.79 437.97h17.07v2.00h-17.07zM552.14 447.98h17.07v2.00h-17.07zM518.00 604.16h17.07v2.00h-17.07z"/>
<path fill="#f7b3b2" d="M415.58 411.94h17.07v2.00h-17.07zM415.58 413.94h17.07v2.00h-17.07zM569.21 542.09h17.07v2.00h-17.07zM637.49 602.15h17.07v2.00h-17.07z"/>
<path fill="#ecf2fb" d="M432.65 411.94h17.07v2.00h-17.07zM535.07 431.96h17.07v2.00h-17.07zM398.51 443.98h17.07v2.00h-17.07zM347.30 464.00h17.07v2.00h-17.07zM500.93 478.01h17.07v2.00h-17.07zM500.93 510.05h17.07v2.00h-17.07zM552.14 534.08h17.07v2.00h-17.07z"/>
<path fill="#f9c7c6" d="M466.79 411.94h17.07v2.00h-17.07z"/>
<path fill="#fde9e9" d="M500.93 411.94h17.07v2.00h-17.07zM449.72 472.01h17.07v2.00h-17.07zM364.37 526.07h17.07v2.00h-17.07zM347.30 532.08h17.07v2.00h-17.07zM483.86 622.18h17.07v2.00h-17.07zM586.28 636.19h17.07v2.00h-17.07z"/>
<path fill="#a6c2ee" d="M552.14 411.94h17.07v2.00h-17.07zM637.49 417.95h17.07v2.00h-17.07zM415.58 482.02h17.07v2.00h-17.07zM381.44 484.02h17.07v2.00h-17.07zM500.93 544.09h17.07v2.00h-17.07zM432.65 554.10h17.07v2.00h-17.07zM364.37 566.11h17.07v2.00h-17.07zM398.51 584.13h17.07v2.00h-17.07z"/>
<path fill="#f9c0c0" d="M603.35 411.94h17.07v2.00h-17.07zM466.79 624.18h17.07v2.00h-17.07zM637.49 640.20h17.07v2.00h-17.07z"/>
<path fill="#fce0e0" d="M347.30 413.94h17.07v2.00h-17.07zM483.86 427.96h17.07v2.00h-17.07zM500.93 453.99h17.07v2.00h-17.07zM535.07 488.02h17.07v2.00h-17.07zM398.51 514.05h17.07v2.00h-17.07zM483.86 514.05h17.07v2.00h-17.07zM466.79 530.07h17.07v2.00h-17.07zM569.21 548.09h17.07v2.00h-17.07zM500.93 640.20h17.07v2.00h-17.07z"/>
<path fill="#f4908f" d="M364.37 413.94h17.07v2.00h-17.07zM637.49 486.02h17.07v2.00h-17.07zM586.28 498.04h17.07v2.00h-17.07zM398.51 528.07h17.07v2.00h-17.07zM535.07 560.11h17.07v2.00h-17.07zM637.49 582.13h17.07v2.00h-17.07zM500.93 612.17h17.07v2.00h-17.07z"/>
<path fill="#f8b9b9" d="M381.44 413.94h17.07v2.00h-17.07zM620.42 441.97h17.07v2.00h-17.07zM535.07 451.98h17.07v2.00h-17.07z"/>
<path fill="#facbca" d="M483.86 413.94h17.07v2.00h-17.07zM347.30 443.98h17.07v2.00h-17.07zM432.65 445.98h17.07v2.00h-17.07zM518.00 616.17h17.07v2.00h-17.07z"/>
<path fill="#90b2ea" d="M552.14 413.94h17.07v2.00h-17.07zM347.30 508.05h17.07v2.00h-17.07z"/>
<path fill="#c6d8f4" d="M620.42 413.94h17.07v2.00h-17.07zM603.35 437.97h17.07v2.00h-17.07zM364.37 478.01h17.07v2.00h-17.07zM398.51 480.02h17.07v2.00h-17.07zM535.07 522.06h17.07v2.00h-17.07zM500.93 524.07h17.07v2.00h-17.07zM500.93 568.12h17.07v2.00h-17.07zM415.58 574.12h17.07v2.00h-17.07z"/>
<path fill="#b0c9f0" d="M637.49 413.94h17.07v2.00h-17.07zM586.28 447.98h17.07v2.00h-17.07zM415.58 502.04h17.07v2.00h-17.07zM415.58 510.05h17.07v2.00h-17.07zM415.58 512.05h17.07v2.00h-17.07zM466.79 554.10h17.07v2.00h-17.07zM381.44 566.11h17.07v2.00h-17.07zM364.37 590.14h17.07v2.00h-17.07zM364.37 600.15h17.07v2.00h-17.07z"/>
<path fill="#f8b5b5" d="M347.30 415.94h17.07v2.00h-17.07zM518.00 415.94h17.07v2.00h-17.07zM432.65 419.95h17.07v2.00h-17.07z"/>
<path fill="#f59594" d="M364.37 415.94h17.07v2.00h-17.07zM569.21 478.01h17.07v2.00h-17.07zM552.14 498.04h17.07v2.00h-17.07z"/>
<path fill="#f9c4c3" d="M483.86 415.94h17.07v2.00h-17.07zM518.00 640.20h17.07v2.00h-17.07z"/>
<path fill="#f8b6b6" d="M500.93 415.94h17.07v2.00h-17.07z"/>
<path fill="#a3bfed" d="M552.14 415.94h17.07v2.00h-17.07zM381.44 472.01h17.07v2.00h-17.07z"/>
<path fill="#b4cbf1" d="M569.21 415.94h17.07v2.00h-17.07zM535.07 421.95h17.07v2.00h-17.07zM347.30 498.04h17.07v2.00h-17.07zM398.51 542.09h17.07v2.00h-17.07zM483.86 556.10h17.07v2.00h-17.07zM398.51 596.15h17.07v2.00h-17.07z"/>
<path fill="#9dbcec" d="M586.28 415.94h17.07v2.00h-17.07zM381.44 494.03h17.07v2.00h-17.07zM381.44 610.16h17.07v2.00h-17.07z"/>
<path fill="#dbe6f8" d="M603.35 415.94h17.07v2.00h-17.07zM552.14 425.95h17.07v2.00h-17.07zM535.07 447.98h17.07v2.00h-17.07zM381.44 504.04h17.07v2.00h-17.07z"/>
<path fill="#cfdef6" d="M620.42 415.94h17.07v2.00h-17.07zM552.14 423.95h17.07v2.00h-17.07zM381.44 478.01h17.07v2.00h-17.07zM483.86 490.03h17.07v2.00h-17.07zM449.72 512.05h17.07v2.00h-17.07zM466.79 534.08h17.07v2.00h-17.07zM535.07 546.09h17.07v2.00h-17.07zM347.30 554.10h17.07v2.00h-17.07zM398.51 600.15h17.07v2.00h-17.07zM500.93 624.18h17.07v2.00h-17.07z"/>
<path fill="#f06867" d="M347.30 417.95h17.07v2.00h-17.07zM415.58 462.00h17.07v2.00h-17.07zM603.35 556.10h17.07v2.00h-17.07zM620.42 602.15h17.07v2.00h-17.07zM466.79 606.16h17.07v2.00h-17.07zM637.49 624.18h17.07v2.00h-17.07zM620.42 632.19h17.07v2.00h-17.07zM535.07 636.19h17.07v2.00h-17.07z"/>
<path fill="#f59796" d="M364.37 417.95h17.07v2.00h-17.07zM415.58 435.97h17.07v2.00h-17.07zM552.14 492.03h17.07v2.00h-17.07zM569.21 492.03h17.07v2.00h-17.07zM483.86 538.08h17.07v2.00h-17.07z"/>
<path fill="#f6a7a7" d="M381.44 417.95h17.07v2.00h-17.07z"/>
<path fill="#facecd" d="M398.51 417.95h17.07v2.00h-17.07zM535.07 492.03h17.07v2.00h-17.07zM535.07 544.09h17.07v2.00h-17.07z"/>
<path fill="#f7b2b1" d="M415.58 417.95h17.07v2.00h-17.07zM620.42 445.98h17.07v2.00h-17.07zM552.14 457.99h17.07v2.00h-17.07zM552.14 464.00h17.07v2.00h-17.07zM535.07 536.08h17.07v2.00h-17.07zM398.51 540.08h17.07v2.00h-17.07zM569.21 552.10h17.07v2.00h-17.07zM586.28 566.11h17.07v2.00h-17.07zM603.35 604.16h17.07v2.00h-17.07zM500.93 610.16h17.07v2.00h-17.07zM449.72 618.17h17.07v2.00h-17.07zM552.14 630.19h17.07v2.00h-17.07zM500.93 632.19h17.07v2.00h-17.07z"/>
<path fill="#facccc" d="M500.93 417.95h17.07v2.00h-17.07zM466.79 441.97h17.07v2.00h-17.07zM466.79 443.98h17.07v2.00h-17.07zM466.79 466.00h17.07v2.00h-17.07zM569.21 524.07h17.07v2.00h-17.07zM586.28 542.09h17.07v2.00h-17.07zM398.51 548.09h17.07v2.00h-17.07z"/>
<path fill="#9ebced" d="M620.42 417.95h17.07v2.00h-17.07zM432.65 472.01h17.07v2.00h-17.07zM381.44 640.20h17.07v2.00h-17.07z"/>
<path fill="#ee5453" d="M347.30 419.95h17.07v2.00h-17.07zM381.44 429.96h17.07v2.00h-17.07zM586.28 568.12h17.07v2.00h-17.07zM586.28 600.15h17.07v2.00h-17.07z"/>
<path fill="#f7abaa" d="M364.37 419.95h17.07v2.00h-17.07zM552.14 472.01h17.07v2.00h-17.07zM449.72 590.14h17.07v2.00h-17.07z"/>
<path fill="#f7adad" d="M449.72 419.95h17.07v2.00h-17.07zM535.07 612.17h17.07v2.00h-17.07z"/>
<path fill="#fbd2d2" d="M466.79 419.95h17.07v2.00h-17.07zM432.65 429.96h17.07v2.00h-17.07zM603.35 447.98h17.07v2.00h-17.07zM535.07 462.00h17.07v2.00h-17.07zM552.14 462.00h17.07v2.00h-17.07zM569.21 572.12h17.07v2.00h-17.07zM535.07 622.18h17.07v2.00h-17.07z"/>
<path fill="#fef3f3" d="M483.86 419.95h17.07v2.00h-17.07zM535.07 540.08h17.07v2.00h-17.07zM466.79 582.13h17.07v2.00h-17.07zM449.72 600.15h17.07v2.00h-17.07zM415.58 614.17h17.07v2.00h-17.07z"/>
<path fill="#fbd5d5" d="M500.93 419.95h17.07v2.00h-17.07zM364.37 518.06h17.07v2.00h-17.07zM449.72 598.15h17.07v2.00h-17.07z"/>
<path fill="#facdcc" d="M535.07 419.95h17.07v2.00h-17.07zM535.07 554.10h17.07v2.00h-17.07zM500.93 576.12h17.07v2.00h-17.07zM535.07 584.13h17.07v2.00h-17.07z"/>
<path fill="#fde8e8" d="M620.42 419.95h17.07v2.00h-17.07zM398.51 421.95h17.07v2.00h-17.07zM381.44 528.07h17.07v2.00h-17.07zM466.79 528.07h17.07v2.00h-17.07zM483.86 624.18h17.07v2.00h-17.07z"/>
<path fill="#93b5ea" d="M637.49 419.95h17.07v2.00h-17.07zM381.44 449.98h17.07v2.00h-17.07zM449.72 457.99h17.07v2.00h-17.07zM500.93 466.00h17.07v2.00h-17.07zM381.44 634.19h17.07v2.00h-17.07z"/>
<path fill="#ee5655" d="M347.30 421.95h17.07v2.00h-17.07zM637.49 502.04h17.07v2.00h-17.07zM586.28 508.05h17.07v2.00h-17.07zM603.35 562.11h17.07v2.00h-17.07z"/>
<path fill="#f27a79" d="M381.44 421.95h17.07v2.00h-17.07zM637.49 492.03h17.07v2.00h-17.07zM586.28 558.10h17.07v2.00h-17.07zM518.00 638.20h17.07v2.00h-17.07z"/>
<path fill="#fac9c8" d="M415.58 421.95h17.07v2.00h-17.07zM381.44 524.07h17.07v2.00h-17.07zM500.93 590.14h17.07v2.00h-17.07zM620.42 594.15h17.07v2.00h-17.07zM552.14 598.15h17.07v2.00h-17.07zM518.00 628.18h17.07v2.00h-17.07z"/>
<path fill="#f9bebe" d="M449.72 421.95h17.07v2.00h-17.07zM432.65 441.97h17.07v2.00h-17.07zM518.00 560.11h17.07v2.00h-17.07z"/>
<path fill="#f7f9fd" d="M466.79 421.95h17.07v2.00h-17.07zM483.86 618.17h17.07v2.00h-17.07z"/>
<path fill="#f6a4a3" d="M483.86 421.95h17.07v2.00h-17.07zM398.51 439.97h17.07v2.00h-17.07zM603.35 455.99h17.07v2.00h-17.07zM535.07 474.01h17.07v2.00h-17.07zM535.07 498.04h17.07v2.00h-17.07zM552.14 624.18h17.07v2.00h-17.07zM603.35 626.18h17.07v2.00h-17.07zM620.42 636.19h17.07v2.00h-17.07z"/>
<path fill="#fbd6d6" d="M500.93 421.95h17.07v2.00h-17.07zM500.93 570.12h17.07v2.00h-17.07z"/>
<path fill="#fdebeb" d="M518.00 421.95h17.07v2.00h-17.07zM483.86 423.95h17.07v2.00h-17.07zM449.72 429.96h17.07v2.00h-17.07zM569.21 441.97h17.07v2.00h-17.07zM500.93 482.02h17.07v2.00h-17.07zM535.07 486.02h17.07v2.00h-17.07zM432.65 528.07h17.07v2.00h-17.07z"/>
<path fill="#b9cef2" d="M552.14 421.95h17.07v2.00h-17.07z"/>
<path fill="#4780dc" d="M586.28 421.95h17.07v2.00h-17.07zM483.86 494.03h17.07v2.00h-17.07z"/>
<path fill="#739fe4" d="M637.49 421.95h17.07v2.00h-17.07zM364.37 504.04h17.07v2.00h-17.07zM398.51 504.04h17.07v2.00h-17.07z"/>
<path fill="#f38786" d="M347.30 423.95h17.07v2.00h-17.07zM569.21 632.19h17.07v2.00h-17.07zM637.49 636.19h17.07v2.00h-17.07z"/>
<path fill="#ee504f" d="M364.37 423.95h17.07v2.00h-17.07zM364.37 425.95h17.07v2.00h-17.07zM637.49 554.10h17.07v2.00h-17.07z"/>
<path fill="#f38a89" d="M398.51 423.95h17.07v2.00h-17.07zM603.35 612.17h17.07v2.00h-17.07z"/>
<path fill="#ed4d4b" d="M415.58 423.95h17.07v2.00h-17.07zM620.42 482.02h17.07v2.00h-17.07zM569.21 494.03h17.07v2.00h-17.07z"/>
<path fill="#fcdedd" d="M466.79 423.95h17.07v2.00h-17.07zM483.86 425.95h17.07v2.00h-17.07zM535.07 602.15h17.07v2.00h-17.07z"/>
<path fill="#5d8fe0" d="M569.21 423.95h17.07v2.00h-17.07zM449.72 449.98h17.07v2.00h-17.07zM432.65 530.07h17.07v2.00h-17.07z"/>
<path fill="#7ba4e6" d="M603.35 423.95h17.07v2.00h-17.07zM586.28 437.97h17.07v2.00h-17.07zM415.58 445.98h17.07v2.00h-17.07zM364.37 634.19h17.07v2.00h-17.07z"/>
<path fill="#6293e1" d="M637.49 423.95h17.07v2.00h-17.07zM347.30 592.14h17.07v2.00h-17.07zM483.86 606.16h17.07v2.00h-17.07zM347.30 614.17h17.07v2.00h-17.07z"/>
<path fill="#f38483" d="M347.30 425.95h17.07v2.00h-17.07zM603.35 445.98h17.07v2.00h-17.07zM569.21 482.02h17.07v2.00h-17.07zM637.49 508.05h17.07v2.00h-17.07z"/>
<path fill="#f9c6c5" d="M381.44 425.95h17.07v2.00h-17.07zM603.35 532.08h17.07v2.00h-17.07z"/>
<path fill="#fac7c7" d="M518.00 425.95h17.07v2.00h-17.07zM552.14 578.13h17.07v2.00h-17.07z"/>
<path fill="#e0eaf9" d="M535.07 425.95h17.07v2.00h-17.07zM535.07 457.99h17.07v2.00h-17.07zM569.21 474.01h17.07v2.00h-17.07zM432.65 502.04h17.07v2.00h-17.07zM347.30 580.13h17.07v2.00h-17.07zM364.37 580.13h17.07v2.00h-17.07z"/>
<path fill="#94b5eb" d="M569.21 425.95h17.07v2.00h-17.07zM483.86 498.04h17.07v2.00h-17.07zM432.65 520.06h17.07v2.00h-17.07zM466.79 552.10h17.07v2.00h-17.07z"/>
<path fill="#5187de" d="M586.28 425.95h17.07v2.00h-17.07zM483.86 506.05h17.07v2.00h-17.07z"/>
<path fill="#8bafe9" d="M603.35 425.95h17.07v2.00h-17.07zM347.30 457.99h17.07v2.00h-17.07zM466.79 468.00h17.07v2.00h-17.07zM432.65 474.01h17.07v2.00h-17.07zM347.30 608.16h17.07v2.00h-17.07zM432.65 610.16h17.07v2.00h-17.07z"/>
<path fill="#fce0df" d="M620.42 425.95h17.07v2.00h-17.07zM603.35 598.15h17.07v2.00h-17.07z"/>
<path fill="#ef5e5d" d="M347.30 427.96h17.07v2.00h-17.07zM415.58 433.96h17.07v2.00h-17.07zM637.49 518.06h17.07v2.00h-17.07zM637.49 548.09h17.07v2.00h-17.07z"/>
<path fill="#f8b8b7" d="M364.37 427.96h17.07v2.00h-17.07z"/>
<path fill="#f9c0bf" d="M398.51 427.96h17.07v2.00h-17.07zM347.30 437.97h17.07v2.00h-17.07zM552.14 449.98h17.07v2.00h-17.07zM535.07 542.09h17.07v2.00h-17.07zM637.49 616.17h17.07v2.00h-17.07z"/>
<path fill="#fbd3d3" d="M432.65 427.96h17.07v2.00h-17.07zM398.51 462.00h17.07v2.00h-17.07zM415.58 520.06h17.07v2.00h-17.07zM535.07 598.15h17.07v2.00h-17.07z"/>
<path fill="#fce6e5" d="M449.72 427.96h17.07v2.00h-17.07zM398.51 554.10h17.07v2.00h-17.07z"/>
<path fill="#cadbf5" d="M535.07 427.96h17.07v2.00h-17.07zM466.79 494.03h17.07v2.00h-17.07z"/>
<path fill="#f1f5fc" d="M552.14 427.96h17.07v2.00h-17.07zM518.00 476.01h17.07v2.00h-17.07zM518.00 498.04h17.07v2.00h-17.07zM483.86 558.10h17.07v2.00h-17.07zM603.35 636.19h17.07v2.00h-17.07z"/>
<path fill="#3675d9" d="M569.21 427.96h17.07v2.00h-17.07z"/>
<path fill="#447edb" d="M586.28 427.96h17.07v2.00h-17.07zM364.37 496.03h17.07v2.00h-17.07z"/>
<path fill="#bed2f2" d="M603.35 427.96h17.07v2.00h-17.07zM552.14 429.96h17.07v2.00h-17.07zM432.65 576.12h17.07v2.00h-17.07z"/>
<path fill="#cadaf5" d="M637.49 427.96h17.07v2.00h-17.07zM500.93 542.09h17.07v2.00h-17.07z"/>
<path fill="#fad0cf" d="M364.37 429.96h17.07v2.00h-17.07zM466.79 439.97h17.07v2.00h-17.07zM535.07 520.06h17.07v2.00h-17.07zM552.14 566.11h17.07v2.00h-17.07zM398.51 586.14h17.07v2.00h-17.07z"/>
<path fill="#f17371" d="M398.51 429.96h17.07v2.00h-17.07z"/>
<path fill="#fbd9d9" d="M415.58 429.96h17.07v2.00h-17.07zM518.00 562.11h17.07v2.00h-17.07zM535.07 574.12h17.07v2.00h-17.07zM552.14 584.13h17.07v2.00h-17.07zM432.65 602.15h17.07v2.00h-17.07z"/>
<path fill="#f6a6a5" d="M466.79 429.96h17.07v2.00h-17.07zM535.07 470.00h17.07v2.00h-17.07zM569.21 598.15h17.07v2.00h-17.07zM620.42 618.17h17.07v2.00h-17.07z"/>
<path fill="#aac5ef" d="M483.86 429.96h17.07v2.00h-17.07zM381.44 508.05h17.07v2.00h-17.07zM432.65 588.14h17.07v2.00h-17.07z"/>
<path fill="#f8b7b6" d="M500.93 429.96h17.07v2.00h-17.07zM620.42 524.07h17.07v2.00h-17.07zM603.35 528.07h17.07v2.00h-17.07zM483.86 628.18h17.07v2.00h-17.07z"/>
<path fill="#91b4ea" d="M569.21 429.96h17.07v2.00h-17.07zM381.44 482.02h17.07v2.00h-17.07z"/>
<path fill="#5f90e0" d="M586.28 429.96h17.07v2.00h-17.07z"/>
<path fill="#92b4ea" d="M620.42 429.96h17.07v2.00h-17.07zM415.58 470.00h17.07v2.00h-17.07zM483.86 478.01h17.07v2.00h-17.07zM381.44 500.04h17.07v2.00h-17.07zM466.79 532.08h17.07v2.00h-17.07zM432.65 538.08h17.07v2.00h-17.07z"/>
<path fill="#3d79da" d="M637.49 429.96h17.07v2.00h-17.07z"/>
<path fill="#f9c6c6" d="M381.44 431.96h17.07v2.00h-17.07zM364.37 516.06h17.07v2.00h-17.07zM466.79 622.18h17.07v2.00h-17.07z"/>
<path fill="#ee4e4d" d="M415.58 431.96h17.07v2.00h-17.07zM637.49 614.17h17.07v2.00h-17.07z"/>
<path fill="#fdfdff" d="M483.86 431.96h17.07v2.00h-17.07zM518.00 516.06h17.07v2.00h-17.07zM449.72 528.07h17.07v2.00h-17.07zM466.79 576.12h17.07v2.00h-17.07zM381.44 604.16h17.07v2.00h-17.07z"/>
<path fill="#dee9f9" d="M500.93 431.96h17.07v2.00h-17.07zM364.37 574.12h17.07v2.00h-17.07z"/>
<path fill="#d5e2f7" d="M518.00 431.96h17.07v2.00h-17.07zM552.14 439.97h17.07v2.00h-17.07zM500.93 470.00h17.07v2.00h-17.07zM449.72 568.12h17.07v2.00h-17.07z"/>
<path fill="#6092e1" d="M552.14 431.96h17.07v2.00h-17.07z"/>
<path fill="#5e90e0" d="M569.21 431.96h17.07v2.00h-17.07zM381.44 558.10h17.07v2.00h-17.07zM398.51 572.12h17.07v2.00h-17.07z"/>
<path fill="#9ebcec" d="M637.49 431.96h17.07v2.00h-17.07zM347.30 520.06h17.07v2.00h-17.07z"/>
<path fill="#ef5857" d="M347.30 433.96h17.07v2.00h-17.07zM569.21 480.02h17.07v2.00h-17.07zM637.49 532.08h17.07v2.00h-17.07zM569.21 534.08h17.07v2.00h-17.07zM637.49 606.16h17.07v2.00h-17.07z"/>
<path fill="#f6a3a2" d="M398.51 433.96h17.07v2.00h-17.07zM552.14 488.02h17.07v2.00h-17.07zM518.00 556.10h17.07v2.00h-17.07z"/>
<path fill="#e4ecfa" d="M483.86 433.96h17.07v2.00h-17.07zM535.07 437.97h17.07v2.00h-17.07zM398.51 488.02h17.07v2.00h-17.07zM500.93 522.06h17.07v2.00h-17.07zM398.51 532.08h17.07v2.00h-17.07zM500.93 548.09h17.07v2.00h-17.07zM569.21 620.18h17.07v2.00h-17.07z"/>
<path fill="#3775d9" d="M569.21 433.96h17.07v2.00h-17.07z"/>
<path fill="#9cbbec" d="M586.28 433.96h17.07v2.00h-17.07zM415.58 447.98h17.07v2.00h-17.07zM398.51 476.01h17.07v2.00h-17.07zM347.30 488.02h17.07v2.00h-17.07zM518.00 510.05h17.07v2.00h-17.07zM432.65 562.11h17.07v2.00h-17.07zM347.30 638.20h17.07v2.00h-17.07z"/>
<path fill="#598ddf" d="M637.49 433.96h17.07v2.00h-17.07zM381.44 606.16h17.07v2.00h-17.07z"/>
<path fill="#f69f9f" d="M364.37 435.97h17.07v2.00h-17.07zM569.21 568.12h17.07v2.00h-17.07z"/>
<path fill="#cdddf5" d="M449.72 435.97h17.07v2.00h-17.07zM500.93 490.03h17.07v2.00h-17.07zM466.79 556.10h17.07v2.00h-17.07zM398.51 562.11h17.07v2.00h-17.07z"/>
<path fill="#fdedec" d="M483.86 435.97h17.07v2.00h-17.07zM500.93 528.07h17.07v2.00h-17.07zM381.44 534.08h17.07v2.00h-17.07z"/>
<path fill="#8cb0e9" d="M518.00 435.97h17.07v2.00h-17.07zM364.37 480.02h17.07v2.00h-17.07zM381.44 496.03h17.07v2.00h-17.07zM347.30 578.13h17.07v2.00h-17.07z"/>
<path fill="#2b6dd7" d="M552.14 435.97h17.07v2.00h-17.07z"/>
<path fill="#bcd1f2" d="M586.28 435.97h17.07v2.00h-17.07zM449.72 470.00h17.07v2.00h-17.07zM415.58 472.01h17.07v2.00h-17.07zM364.37 482.02h17.07v2.00h-17.07zM449.72 496.03h17.07v2.00h-17.07zM483.86 520.06h17.07v2.00h-17.07zM415.58 608.16h17.07v2.00h-17.07zM432.65 612.17h17.07v2.00h-17.07zM381.44 622.18h17.07v2.00h-17.07z"/>
<path fill="#568adf" d="M620.42 435.97h17.07v2.00h-17.07z"/>
<path fill="#4c84dd" d="M637.49 435.97h17.07v2.00h-17.07zM347.30 484.02h17.07v2.00h-17.07z"/>
<path fill="#f27877" d="M381.44 437.97h17.07v2.00h-17.07zM620.42 468.00h17.07v2.00h-17.07zM620.42 492.03h17.07v2.00h-17.07zM569.21 566.11h17.07v2.00h-17.07zM500.93 586.14h17.07v2.00h-17.07z"/>
<path fill="#ef605e" d="M415.58 437.97h17.07v2.00h-17.07z"/>
<path fill="#e4edfa" d="M449.72 437.97h17.07v2.00h-17.07z"/>
<path fill="#edf3fc" d="M483.86 437.97h17.07v2.00h-17.07zM398.51 510.05h17.07v2.00h-17.07zM466.79 580.13h17.07v2.00h-17.07z"/>
<path fill="#a1beed" d="M552.14 437.97h17.07v2.00h-17.07zM364.37 556.10h17.07v2.00h-17.07zM432.65 564.11h17.07v2.00h-17.07zM483.86 602.15h17.07v2.00h-17.07zM381.44 636.19h17.07v2.00h-17.07z"/>
<path fill="#c6d7f4" d="M569.21 437.97h17.07v2.00h-17.07zM432.65 558.10h17.07v2.00h-17.07z"/>
<path fill="#5a8ddf" d="M620.42 437.97h17.07v2.00h-17.07zM347.30 492.03h17.07v2.00h-17.07z"/>
<path fill="#fbd6d5" d="M347.30 439.97h17.07v2.00h-17.07zM398.51 574.12h17.07v2.00h-17.07zM518.00 630.19h17.07v2.00h-17.07z"/>
<path fill="#f8bab9" d="M364.37 439.97h17.07v2.00h-17.07zM552.14 453.99h17.07v2.00h-17.07z"/>
<path fill="#f49190" d="M381.44 439.97h17.07v2.00h-17.07zM637.49 510.05h17.07v2.00h-17.07zM518.00 574.12h17.07v2.00h-17.07zM466.79 588.14h17.07v2.00h-17.07z"/>
<path fill="#f27d7c" d="M432.65 439.97h17.07v2.00h-17.07zM569.21 470.00h17.07v2.00h-17.07zM603.35 570.12h17.07v2.00h-17.07zM637.49 630.19h17.07v2.00h-17.07z"/>
<path fill="#fdeeed" d="M518.00 439.97h17.07v2.00h-17.07z"/>
<path fill="#fefeff" d="M535.07 439.97h17.07v2.00h-17.07zM466.79 474.01h17.07v2.00h-17.07zM518.00 594.15h17.07v2.00h-17.07z"/>
<path fill="#b3cbf0" d="M569.21 439.97h17.07v2.00h-17.07zM398.51 451.98h17.07v2.00h-17.07z"/>
<path fill="#a3c0ed" d="M603.35 439.97h17.07v2.00h-17.07zM415.58 476.01h17.07v2.00h-17.07zM466.79 542.09h17.07v2.00h-17.07z"/>
<path fill="#75a0e5" d="M620.42 439.97h17.07v2.00h-17.07zM483.86 470.00h17.07v2.00h-17.07z"/>
<path fill="#93b4ea" d="M637.49 439.97h17.07v2.00h-17.07zM500.93 550.10h17.07v2.00h-17.07zM449.72 588.14h17.07v2.00h-17.07z"/>
<path fill="#f7aaa9" d="M347.30 441.97h17.07v2.00h-17.07zM364.37 514.05h17.07v2.00h-17.07zM569.21 514.05h17.07v2.00h-17.07zM381.44 520.06h17.07v2.00h-17.07zM518.00 536.08h17.07v2.00h-17.07zM637.49 626.18h17.07v2.00h-17.07zM620.42 638.20h17.07v2.00h-17.07z"/>
<path fill="#ebf2fb" d="M381.44 441.97h17.07v2.00h-17.07zM518.00 522.06h17.07v2.00h-17.07z"/>
<path fill="#f7b2b2" d="M398.51 441.97h17.07v2.00h-17.07zM586.28 455.99h17.07v2.00h-17.07zM415.58 532.08h17.07v2.00h-17.07z"/>
<path fill="#fef8f8" d="M415.58 441.97h17.07v2.00h-17.07zM432.65 453.99h17.07v2.00h-17.07zM500.93 492.03h17.07v2.00h-17.07zM449.72 508.05h17.07v2.00h-17.07zM364.37 540.08h17.07v2.00h-17.07zM364.37 558.10h17.07v2.00h-17.07zM398.51 594.15h17.07v2.00h-17.07z"/>
<path fill="#fbd4d3" d="M535.07 441.97h17.07v2.00h-17.07zM552.14 474.01h17.07v2.00h-17.07zM552.14 564.11h17.07v2.00h-17.07z"/>
<path fill="#dbe7f8" d="M552.14 441.97h17.07v2.00h-17.07z"/>
<path fill="#fbdad9" d="M603.35 441.97h17.07v2.00h-17.07z"/>
<path fill="#f7afae" d="M381.44 443.98h17.07v2.00h-17.07zM535.07 445.98h17.07v2.00h-17.07zM569.21 538.08h17.07v2.00h-17.07zM518.00 554.10h17.07v2.00h-17.07zM552.14 570.12h17.07v2.00h-17.07zM535.07 640.20h17.07v2.00h-17.07z"/>
<path fill="#6e9be3" d="M449.72 443.98h17.07v2.00h-17.07zM483.86 502.04h17.07v2.00h-17.07zM432.65 522.06h17.07v2.00h-17.07zM347.30 558.10h17.07v2.00h-17.07z"/>
<path fill="#f38584" d="M483.86 443.98h17.07v2.00h-17.07zM586.28 518.06h17.07v2.00h-17.07zM449.72 594.15h17.07v2.00h-17.07zM569.21 610.16h17.07v2.00h-17.07z"/>
<path fill="#ed4847" d="M535.07 443.98h17.07v2.00h-17.07zM637.49 540.08h17.07v2.00h-17.07zM637.49 560.11h17.07v2.00h-17.07z"/>
<path fill="#fcdcdc" d="M552.14 443.98h17.07v2.00h-17.07zM535.07 500.04h17.07v2.00h-17.07zM535.07 502.04h17.07v2.00h-17.07zM603.35 574.12h17.07v2.00h-17.07z"/>
<path fill="#bacff2" d="M586.28 443.98h17.07v2.00h-17.07zM347.30 524.07h17.07v2.00h-17.07zM483.86 566.11h17.07v2.00h-17.07z"/>
<path fill="#f06a69" d="M603.35 443.98h17.07v2.00h-17.07zM637.49 459.99h17.07v2.00h-17.07zM569.21 504.04h17.07v2.00h-17.07zM620.42 616.17h17.07v2.00h-17.07z"/>
<path fill="#f8bdbd" d="M637.49 443.98h17.07v2.00h-17.07z"/>
<path fill="#9bbaec" d="M381.44 445.98h17.07v2.00h-17.07zM518.00 506.05h17.07v2.00h-17.07zM449.72 602.15h17.07v2.00h-17.07z"/>
<path fill="#fad1d1" d="M398.51 445.98h17.07v2.00h-17.07zM398.51 457.99h17.07v2.00h-17.07zM552.14 466.00h17.07v2.00h-17.07zM518.00 494.03h17.07v2.00h-17.07zM569.21 634.19h17.07v2.00h-17.07z"/>
<path fill="#edf2fc" d="M449.72 445.98h17.07v2.00h-17.07zM449.72 584.13h17.07v2.00h-17.07z"/>
<path fill="#f2f6fc" d="M466.79 445.98h17.07v2.00h-17.07zM381.44 451.98h17.07v2.00h-17.07zM483.86 522.06h17.07v2.00h-17.07zM518.00 620.18h17.07v2.00h-17.07z"/>
<path fill="#ebf1fb" d="M483.86 445.98h17.07v2.00h-17.07zM466.79 451.98h17.07v2.00h-17.07zM449.72 536.08h17.07v2.00h-17.07zM569.21 558.10h17.07v2.00h-17.07zM466.79 614.17h17.07v2.00h-17.07zM347.30 624.18h17.07v2.00h-17.07z"/>
<path fill="#f9c5c4" d="M586.28 445.98h17.07v2.00h-17.07zM518.00 474.01h17.07v2.00h-17.07zM449.72 526.07h17.07v2.00h-17.07zM500.93 572.12h17.07v2.00h-17.07zM518.00 582.13h17.07v2.00h-17.07zM449.72 596.15h17.07v2.00h-17.07zM620.42 596.15h17.07v2.00h-17.07zM603.35 610.16h17.07v2.00h-17.07z"/>
<path fill="#facccb" d="M364.37 447.98h17.07v2.00h-17.07zM569.21 518.06h17.07v2.00h-17.07zM415.58 524.07h17.07v2.00h-17.07zM449.72 628.18h17.07v2.00h-17.07z"/>
<path fill="#e9f0fb" d="M483.86 447.98h17.07v2.00h-17.07zM432.65 488.02h17.07v2.00h-17.07zM500.93 532.08h17.07v2.00h-17.07zM620.42 532.08h17.07v2.00h-17.07zM347.30 542.09h17.07v2.00h-17.07zM535.07 552.10h17.07v2.00h-17.07zM466.79 608.16h17.07v2.00h-17.07zM483.86 616.17h17.07v2.00h-17.07z"/>
<path fill="#f48e8d" d="M620.42 447.98h17.07v2.00h-17.07zM552.14 502.04h17.07v2.00h-17.07zM552.14 602.15h17.07v2.00h-17.07zM603.35 628.18h17.07v2.00h-17.07zM620.42 628.18h17.07v2.00h-17.07z"/>
<path fill="#4a82dc" d="M415.58 449.98h17.07v2.00h-17.07z"/>
<path fill="#fbd5d4" d="M432.65 449.98h17.07v2.00h-17.07zM398.51 524.07h17.07v2.00h-17.07z"/>
<path fill="#f4f8fd" d="M466.79 449.98h17.07v2.00h-17.07zM364.37 608.16h17.07v2.00h-17.07z"/>
<path fill="#b1c9f0" d="M518.00 449.98h17.07v2.00h-17.07zM381.44 455.99h17.07v2.00h-17.07zM432.65 462.00h17.07v2.00h-17.07zM466.79 488.02h17.07v2.00h-17.07zM500.93 512.05h17.07v2.00h-17.07zM415.58 548.09h17.07v2.00h-17.07zM347.30 576.12h17.07v2.00h-17.07zM483.86 576.12h17.07v2.00h-17.07zM483.86 604.16h17.07v2.00h-17.07zM398.51 608.16h17.07v2.00h-17.07z"/>
<path fill="#f38281" d="M620.42 449.98h17.07v2.00h-17.07zM586.28 453.99h17.07v2.00h-17.07zM637.49 478.01h17.07v2.00h-17.07zM569.21 546.09h17.07v2.00h-17.07zM637.49 580.13h17.07v2.00h-17.07zM620.42 612.17h17.07v2.00h-17.07z"/>
<path fill="#ea2826" d="M637.49 449.98h17.07v2.00h-17.07zM586.28 484.02h17.07v2.00h-17.07z"/>
<path fill="#c3d6f4" d="M483.86 451.98h17.07v2.00h-17.07zM518.00 478.01h17.07v2.00h-17.07zM381.44 510.05h17.07v2.00h-17.07zM466.79 512.05h17.07v2.00h-17.07zM535.07 538.08h17.07v2.00h-17.07zM415.58 550.10h17.07v2.00h-17.07zM466.79 550.10h17.07v2.00h-17.07zM449.72 558.10h17.07v2.00h-17.07zM432.65 578.13h17.07v2.00h-17.07z"/>
<path fill="#cbdbf5" d="M500.93 451.98h17.07v2.00h-17.07zM398.51 506.05h17.07v2.00h-17.07zM381.44 550.10h17.07v2.00h-17.07zM449.72 552.10h17.07v2.00h-17.07zM483.86 560.11h17.07v2.00h-17.07zM535.07 586.14h17.07v2.00h-17.07zM535.07 592.14h17.07v2.00h-17.07zM381.44 602.15h17.07v2.00h-17.07zM415.58 610.16h17.07v2.00h-17.07zM449.72 612.17h17.07v2.00h-17.07z"/>
<path fill="#96b6eb" d="M518.00 451.98h17.07v2.00h-17.07z"/>
<path fill="#f38887" d="M552.14 451.98h17.07v2.00h-17.07zM552.14 468.00h17.07v2.00h-17.07zM620.42 510.05h17.07v2.00h-17.07zM637.49 520.06h17.07v2.00h-17.07zM552.14 588.14h17.07v2.00h-17.07z"/>
<path fill="#f06c6a" d="M603.35 451.98h17.07v2.00h-17.07zM637.49 488.02h17.07v2.00h-17.07zM586.28 564.11h17.07v2.00h-17.07zM586.28 574.12h17.07v2.00h-17.07z"/>
<path fill="#ed4746" d="M620.42 451.98h17.07v2.00h-17.07zM637.49 453.99h17.07v2.00h-17.07z"/>
<path fill="#ef605f" d="M637.49 451.98h17.07v2.00h-17.07zM518.00 578.13h17.07v2.00h-17.07zM569.21 606.16h17.07v2.00h-17.07z"/>
<path fill="#83aae7" d="M364.37 453.99h17.07v2.00h-17.07z"/>
<path fill="#7aa4e6" d="M381.44 453.99h17.07v2.00h-17.07zM364.37 564.11h17.07v2.00h-17.07z"/>
<path fill="#f6a5a5" d="M398.51 453.99h17.07v2.00h-17.07z"/>
<path fill="#ef5f5e" d="M569.21 453.99h17.07v2.00h-17.07zM569.21 496.03h17.07v2.00h-17.07zM603.35 520.06h17.07v2.00h-17.07zM381.44 526.07h17.07v2.00h-17.07z"/>
<path fill="#ed4443" d="M603.35 453.99h17.07v2.00h-17.07zM620.42 598.15h17.07v2.00h-17.07z"/>
<path fill="#f1f6fc" d="M415.58 455.99h17.07v2.00h-17.07zM535.07 464.00h17.07v2.00h-17.07zM381.44 548.09h17.07v2.00h-17.07z"/>
<path fill="#7da6e6" d="M483.86 455.99h17.07v2.00h-17.07zM364.37 588.14h17.07v2.00h-17.07z"/>
<path fill="#ef5958" d="M569.21 455.99h17.07v2.00h-17.07zM620.42 462.00h17.07v2.00h-17.07zM586.28 514.05h17.07v2.00h-17.07zM586.28 562.11h17.07v2.00h-17.07zM552.14 608.16h17.07v2.00h-17.07z"/>
<path fill="#ed4644" d="M620.42 455.99h17.07v2.00h-17.07zM620.42 574.12h17.07v2.00h-17.07z"/>
<path fill="#eb302e" d="M569.21 457.99h17.07v2.00h-17.07z"/>
<path fill="#d2e0f6" d="M381.44 459.99h17.07v2.00h-17.07zM398.51 470.00h17.07v2.00h-17.07zM449.72 490.03h17.07v2.00h-17.07zM415.58 604.16h17.07v2.00h-17.07zM449.72 620.18h17.07v2.00h-17.07zM500.93 636.19h17.07v2.00h-17.07zM449.72 640.20h17.07v2.00h-17.07z"/>
<path fill="#facfce" d="M432.65 459.99h17.07v2.00h-17.07zM586.28 626.18h17.07v2.00h-17.07z"/>
<path fill="#c1d4f3" d="M483.86 459.99h17.07v2.00h-17.07zM483.86 462.00h17.07v2.00h-17.07zM432.65 494.03h17.07v2.00h-17.07zM483.86 610.16h17.07v2.00h-17.07z"/>
<path fill="#79a3e5" d="M518.00 459.99h17.07v2.00h-17.07zM398.51 482.02h17.07v2.00h-17.07zM466.79 544.09h17.07v2.00h-17.07zM364.37 594.15h17.07v2.00h-17.07zM381.44 620.18h17.07v2.00h-17.07z"/>
<path fill="#f9c7c7" d="M535.07 459.99h17.07v2.00h-17.07zM552.14 528.07h17.07v2.00h-17.07z"/>
<path fill="#eb3937" d="M569.21 459.99h17.07v2.00h-17.07zM603.35 472.01h17.07v2.00h-17.07zM586.28 606.16h17.07v2.00h-17.07z"/>
<path fill="#ed4b4a" d="M586.28 459.99h17.07v2.00h-17.07zM586.28 474.01h17.07v2.00h-17.07zM586.28 486.02h17.07v2.00h-17.07z"/>
<path fill="#f06261" d="M603.35 459.99h17.07v2.00h-17.07zM586.28 532.08h17.07v2.00h-17.07zM603.35 558.10h17.07v2.00h-17.07z"/>
<path fill="#fce4e3" d="M466.79 462.00h17.07v2.00h-17.07zM603.35 584.13h17.07v2.00h-17.07z"/>
<path fill="#c5d7f4" d="M500.93 462.00h17.07v2.00h-17.07zM449.72 464.00h17.07v2.00h-17.07zM518.00 486.02h17.07v2.00h-17.07zM535.07 518.06h17.07v2.00h-17.07zM466.79 568.12h17.07v2.00h-17.07zM415.58 602.15h17.07v2.00h-17.07zM483.86 612.17h17.07v2.00h-17.07z"/>
<path fill="#f27b7a" d="M569.21 462.00h17.07v2.00h-17.07zM586.28 504.04h17.07v2.00h-17.07zM552.14 520.06h17.07v2.00h-17.07zM569.21 562.11h17.07v2.00h-17.07z"/>
<path fill="#ed4a49" d="M603.35 462.00h17.07v2.00h-17.07zM603.35 514.05h17.07v2.00h-17.07zM586.28 628.18h17.07v2.00h-17.07z"/>
<path fill="#dae6f8" d="M381.44 464.00h17.07v2.00h-17.07zM449.72 510.05h17.07v2.00h-17.07zM535.07 514.05h17.07v2.00h-17.07zM500.93 526.07h17.07v2.00h-17.07zM535.07 576.12h17.07v2.00h-17.07z"/>
<path fill="#a0bded" d="M518.00 464.00h17.07v2.00h-17.07zM398.51 474.01h17.07v2.00h-17.07zM449.72 514.05h17.07v2.00h-17.07zM364.37 552.10h17.07v2.00h-17.07zM483.86 594.15h17.07v2.00h-17.07zM364.37 632.19h17.07v2.00h-17.07z"/>
<path fill="#ea2b29" d="M603.35 464.00h17.07v2.00h-17.07zM586.28 516.06h17.07v2.00h-17.07zM603.35 538.08h17.07v2.00h-17.07zM518.00 568.12h17.07v2.00h-17.07z"/>
<path fill="#f16f6e" d="M620.42 464.00h17.07v2.00h-17.07zM603.35 492.03h17.07v2.00h-17.07z"/>
<path fill="#78a2e5" d="M364.37 466.00h17.07v2.00h-17.07zM535.07 526.07h17.07v2.00h-17.07zM415.58 630.19h17.07v2.00h-17.07zM364.37 636.19h17.07v2.00h-17.07z"/>
<path fill="#fffbfb" d="M518.00 466.00h17.07v2.00h-17.07z"/>
<path fill="#f27f7e" d="M586.28 466.00h17.07v2.00h-17.07zM603.35 546.09h17.07v2.00h-17.07z"/>
<path fill="#eb3332" d="M603.35 466.00h17.07v2.00h-17.07zM620.42 506.05h17.07v2.00h-17.07z"/>
<path fill="#f7b0af" d="M637.49 466.00h17.07v2.00h-17.07zM569.21 592.14h17.07v2.00h-17.07zM552.14 622.18h17.07v2.00h-17.07z"/>
<path fill="#6091e1" d="M347.30 468.00h17.07v2.00h-17.07zM432.65 598.15h17.07v2.00h-17.07z"/>
<path fill="#5a8de0" d="M364.37 468.00h17.07v2.00h-17.07z"/>
<path fill="#8eb1e9" d="M381.44 468.00h17.07v2.00h-17.07zM432.65 628.18h17.07v2.00h-17.07zM381.44 638.20h17.07v2.00h-17.07zM432.65 638.20h17.07v2.00h-17.07z"/>
<path fill="#8db0e9" d="M398.51 468.00h17.07v2.00h-17.07zM432.65 496.03h17.07v2.00h-17.07zM347.30 522.06h17.07v2.00h-17.07zM415.58 596.15h17.07v2.00h-17.07z"/>
<path fill="#aac4ef" d="M415.58 468.00h17.07v2.00h-17.07z"/>
<path fill="#1e64d4" d="M483.86 468.00h17.07v2.00h-17.07zM347.30 598.15h17.07v2.00h-17.07zM415.58 628.18h17.07v2.00h-17.07z"/>
<path fill="#a6c1ee" d="M500.93 468.00h17.07v2.00h-17.07zM364.37 542.09h17.07v2.00h-17.07z"/>
<path fill="#9fbded" d="M518.00 468.00h17.07v2.00h-17.07zM483.86 474.01h17.07v2.00h-17.07zM415.58 480.02h17.07v2.00h-17.07zM398.51 560.11h17.07v2.00h-17.07zM364.37 614.17h17.07v2.00h-17.07z"/>
<path fill="#f8b3b2" d="M569.21 468.00h17.07v2.00h-17.07z"/>
<path fill="#f27c7b" d="M586.28 468.00h17.07v2.00h-17.07zM586.28 476.01h17.07v2.00h-17.07zM620.42 530.07h17.07v2.00h-17.07z"/>
<path fill="#f06968" d="M637.49 468.00h17.07v2.00h-17.07zM552.14 490.03h17.07v2.00h-17.07z"/>
<path fill="#7fa7e7" d="M347.30 470.00h17.07v2.00h-17.07zM347.30 514.05h17.07v2.00h-17.07zM381.44 626.18h17.07v2.00h-17.07z"/>
<path fill="#6494e1" d="M364.37 470.00h17.07v2.00h-17.07z"/>
<path fill="#91b3ea" d="M381.44 470.00h17.07v2.00h-17.07zM449.72 540.08h17.07v2.00h-17.07zM381.44 578.13h17.07v2.00h-17.07zM415.58 598.15h17.07v2.00h-17.07zM483.86 600.15h17.07v2.00h-17.07zM347.30 606.16h17.07v2.00h-17.07zM347.30 632.19h17.07v2.00h-17.07z"/>
<path fill="#709de4" d="M432.65 470.00h17.07v2.00h-17.07z"/>
<path fill="#6f9ce3" d="M466.79 470.00h17.07v2.00h-17.07zM483.86 598.15h17.07v2.00h-17.07z"/>
<path fill="#f59f9e" d="M552.14 470.00h17.07v2.00h-17.07zM415.58 526.07h17.07v2.00h-17.07z"/>
<path fill="#f2807f" d="M586.28 470.00h17.07v2.00h-17.07zM603.35 618.17h17.07v2.00h-17.07zM637.49 628.18h17.07v2.00h-17.07z"/>
<path fill="#fad0d0" d="M620.42 470.00h17.07v2.00h-17.07zM569.21 612.17h17.07v2.00h-17.07z"/>
<path fill="#ea2a28" d="M637.49 470.00h17.07v2.00h-17.07zM586.28 488.02h17.07v2.00h-17.07zM637.49 550.10h17.07v2.00h-17.07z"/>
<path fill="#6f9be3" d="M347.30 472.01h17.07v2.00h-17.07z"/>
<path fill="#c7d8f4" d="M364.37 472.01h17.07v2.00h-17.07zM432.65 512.05h17.07v2.00h-17.07zM381.44 562.11h17.07v2.00h-17.07zM535.07 578.13h17.07v2.00h-17.07zM364.37 584.13h17.07v2.00h-17.07z"/>
<path fill="#fcdfde" d="M518.00 472.01h17.07v2.00h-17.07z"/>
<path fill="#f06563" d="M620.42 472.01h17.07v2.00h-17.07zM569.21 498.04h17.07v2.00h-17.07z"/>
<path fill="#ee5755" d="M637.49 472.01h17.07v2.00h-17.07z"/>
<path fill="#81a8e7" d="M347.30 474.01h17.07v2.00h-17.07zM415.58 490.03h17.07v2.00h-17.07zM398.51 500.04h17.07v2.00h-17.07zM381.44 576.12h17.07v2.00h-17.07zM432.65 590.14h17.07v2.00h-17.07zM364.37 592.14h17.07v2.00h-17.07zM415.58 624.18h17.07v2.00h-17.07zM415.58 632.19h17.07v2.00h-17.07z"/>
<path fill="#d4e2f7" d="M381.44 474.01h17.07v2.00h-17.07zM432.65 518.06h17.07v2.00h-17.07z"/>
<path fill="#5f91e0" d="M415.58 474.01h17.07v2.00h-17.07zM415.58 618.17h17.07v2.00h-17.07z"/>
<path fill="#e92322" d="M603.35 474.01h17.07v2.00h-17.07z"/>
<path fill="#f17675" d="M620.42 474.01h17.07v2.00h-17.07zM603.35 596.15h17.07v2.00h-17.07zM569.21 602.15h17.07v2.00h-17.07z"/>
<path fill="#f27978" d="M637.49 474.01h17.07v2.00h-17.07zM637.49 542.09h17.07v2.00h-17.07zM586.28 612.17h17.07v2.00h-17.07z"/>
<path fill="#b7cef1" d="M347.30 476.01h17.07v2.00h-17.07zM398.51 478.01h17.07v2.00h-17.07zM415.58 494.03h17.07v2.00h-17.07zM398.51 556.10h17.07v2.00h-17.07zM432.65 556.10h17.07v2.00h-17.07zM381.44 598.15h17.07v2.00h-17.07zM432.65 624.18h17.07v2.00h-17.07z"/>
<path fill="#ea2d2b" d="M552.14 476.01h17.07v2.00h-17.07zM586.28 496.03h17.07v2.00h-17.07zM637.49 562.11h17.07v2.00h-17.07z"/>
<path fill="#f59999" d="M569.21 476.01h17.07v2.00h-17.07zM637.49 608.16h17.07v2.00h-17.07z"/>
<path fill="#e91e1c" d="M637.49 476.01h17.07v2.00h-17.07zM620.42 516.06h17.07v2.00h-17.07z"/>
<path fill="#f6a7a6" d="M552.14 478.01h17.07v2.00h-17.07z"/>
<path fill="#e91e1d" d="M586.28 478.01h17.07v2.00h-17.07z"/>
<path fill="#f38280" d="M620.42 478.01h17.07v2.00h-17.07zM569.21 526.07h17.07v2.00h-17.07z"/>
<path fill="#558adf" d="M347.30 480.02h17.07v2.00h-17.07zM347.30 502.04h17.07v2.00h-17.07zM432.65 572.12h17.07v2.00h-17.07z"/>
<path fill="#558ade" d="M483.86 480.02h17.07v2.00h-17.07z"/>
<path fill="#c7d9f4" d="M518.00 480.02h17.07v2.00h-17.07zM535.07 530.07h17.07v2.00h-17.07z"/>
<path fill="#dee8f9" d="M552.14 480.02h17.07v2.00h-17.07zM483.86 484.02h17.07v2.00h-17.07zM466.79 490.03h17.07v2.00h-17.07zM381.44 498.04h17.07v2.00h-17.07zM398.51 550.10h17.07v2.00h-17.07zM432.65 580.13h17.07v2.00h-17.07zM535.07 588.14h17.07v2.00h-17.07zM398.51 610.16h17.07v2.00h-17.07z"/>
<path fill="#e92423" d="M586.28 480.02h17.07v2.00h-17.07zM603.35 482.02h17.07v2.00h-17.07z"/>
<path fill="#f06665" d="M620.42 480.02h17.07v2.00h-17.07z"/>
<path fill="#ee5250" d="M637.49 480.02h17.07v2.00h-17.07z"/>
<path fill="#729ee4" d="M466.79 482.02h17.07v2.00h-17.07z"/>
<path fill="#6796e2" d="M483.86 482.02h17.07v2.00h-17.07z"/>
<path fill="#f59696" d="M552.14 482.02h17.07v2.00h-17.07zM552.14 530.07h17.07v2.00h-17.07z"/>
<path fill="#ed4d4c" d="M637.49 482.02h17.07v2.00h-17.07zM637.49 496.03h17.07v2.00h-17.07zM603.35 572.12h17.07v2.00h-17.07z"/>
<path fill="#ec3b39" d="M637.49 484.02h17.07v2.00h-17.07zM603.35 494.03h17.07v2.00h-17.07zM569.21 510.05h17.07v2.00h-17.07z"/>
<path fill="#86ace8" d="M415.58 486.02h17.07v2.00h-17.07zM398.51 558.10h17.07v2.00h-17.07zM483.86 568.12h17.07v2.00h-17.07z"/>
<path fill="#fdf0f0" d="M466.79 486.02h17.07v2.00h-17.07zM347.30 534.08h17.07v2.00h-17.07z"/>
<path fill="#7aa3e6" d="M483.86 486.02h17.07v2.00h-17.07zM347.30 640.20h17.07v2.00h-17.07z"/>
<path fill="#f17271" d="M552.14 486.02h17.07v2.00h-17.07zM637.49 500.04h17.07v2.00h-17.07zM552.14 514.05h17.07v2.00h-17.07z"/>
<path fill="#f49291" d="M569.21 486.02h17.07v2.00h-17.07zM603.35 544.09h17.07v2.00h-17.07zM552.14 552.10h17.07v2.00h-17.07zM518.00 580.13h17.07v2.00h-17.07zM500.93 600.15h17.07v2.00h-17.07zM518.00 632.19h17.07v2.00h-17.07zM483.86 636.19h17.07v2.00h-17.07z"/>
<path fill="#eb3836" d="M603.35 486.02h17.07v2.00h-17.07zM637.49 494.03h17.07v2.00h-17.07zM569.21 508.05h17.07v2.00h-17.07zM603.35 594.15h17.07v2.00h-17.07z"/>
<path fill="#e91b19" d="M620.42 486.02h17.07v2.00h-17.07zM620.42 548.09h17.07v2.00h-17.07zM637.49 568.12h17.07v2.00h-17.07z"/>
<path fill="#bad0f2" d="M364.37 488.02h17.07v2.00h-17.07z"/>
<path fill="#427cdb" d="M415.58 488.02h17.07v2.00h-17.07z"/>
<path fill="#2d6ed7" d="M483.86 488.02h17.07v2.00h-17.07zM381.44 574.12h17.07v2.00h-17.07z"/>
<path fill="#f06564" d="M569.21 488.02h17.07v2.00h-17.07zM552.14 516.06h17.07v2.00h-17.07zM466.79 594.15h17.07v2.00h-17.07z"/>
<path fill="#ef5b5a" d="M603.35 488.02h17.07v2.00h-17.07z"/>
<path fill="#ef5957" d="M620.42 488.02h17.07v2.00h-17.07zM552.14 496.03h17.07v2.00h-17.07z"/>
<path fill="#3d7ada" d="M347.30 490.03h17.07v2.00h-17.07z"/>
<path fill="#85abe8" d="M364.37 490.03h17.07v2.00h-17.07zM364.37 506.05h17.07v2.00h-17.07zM381.44 506.05h17.07v2.00h-17.07zM381.44 552.10h17.07v2.00h-17.07z"/>
<path fill="#acc6ef" d="M432.65 490.03h17.07v2.00h-17.07zM415.58 508.05h17.07v2.00h-17.07zM364.37 560.11h17.07v2.00h-17.07zM415.58 578.13h17.07v2.00h-17.07zM398.51 588.14h17.07v2.00h-17.07z"/>
<path fill="#eb3331" d="M620.42 490.03h17.07v2.00h-17.07zM620.42 614.17h17.07v2.00h-17.07z"/>
<path fill="#ed4846" d="M637.49 490.03h17.07v2.00h-17.07zM586.28 596.15h17.07v2.00h-17.07z"/>
<path fill="#437ddb" d="M364.37 492.03h17.07v2.00h-17.07zM347.30 494.03h17.07v2.00h-17.07z"/>
<path fill="#568bdf" d="M364.37 494.03h17.07v2.00h-17.07z"/>
<path fill="#f16e6c" d="M552.14 494.03h17.07v2.00h-17.07zM586.28 586.14h17.07v2.00h-17.07z"/>
<path fill="#e9211f" d="M586.28 494.03h17.07v2.00h-17.07zM637.49 526.07h17.07v2.00h-17.07z"/>
<path fill="#2f70d7" d="M415.58 496.03h17.07v2.00h-17.07zM347.30 586.14h17.07v2.00h-17.07z"/>
<path fill="#3c79da" d="M483.86 496.03h17.07v2.00h-17.07z"/>
<path fill="#6695e2" d="M364.37 498.04h17.07v2.00h-17.07zM569.21 580.13h17.07v2.00h-17.07zM347.30 610.16h17.07v2.00h-17.07zM381.44 628.18h17.07v2.00h-17.07z"/>
<path fill="#4881dc" d="M347.30 500.04h17.07v2.00h-17.07z"/>
<path fill="#3f7bda" d="M364.37 500.04h17.07v2.00h-17.07zM347.30 634.19h17.07v2.00h-17.07z"/>
<path fill="#6797e2" d="M432.65 500.04h17.07v2.00h-17.07zM432.65 584.13h17.07v2.00h-17.07zM398.51 598.15h17.07v2.00h-17.07z"/>
<path fill="#feffff" d="M449.72 500.04h17.07v2.00h-17.07zM483.86 508.05h17.07v2.00h-17.07zM449.72 520.06h17.07v2.00h-17.07zM381.44 546.09h17.07v2.00h-17.07zM398.51 552.10h17.07v2.00h-17.07z"/>
<path fill="#ee5150" d="M569.21 500.04h17.07v2.00h-17.07zM620.42 512.05h17.07v2.00h-17.07z"/>
<path fill="#ec403e" d="M586.28 500.04h17.07v2.00h-17.07z"/>
<path fill="#ec4341" d="M603.35 500.04h17.07v2.00h-17.07z"/>
<path fill="#e3ebfa" d="M500.93 502.04h17.07v2.00h-17.07z"/>
<path fill="#ec413f" d="M569.21 502.04h17.07v2.00h-17.07zM637.49 504.04h17.07v2.00h-17.07zM620.42 576.12h17.07v2.00h-17.07zM620.42 604.16h17.07v2.00h-17.07z"/>
<path fill="#457fdb" d="M347.30 504.04h17.07v2.00h-17.07zM466.79 518.06h17.07v2.00h-17.07z"/>
<path fill="#a3c0ee" d="M415.58 504.04h17.07v2.00h-17.07z"/>
<path fill="#ef615f" d="M603.35 504.04h17.07v2.00h-17.07z"/>
<path fill="#578bdf" d="M347.30 506.05h17.07v2.00h-17.07zM347.30 568.12h17.07v2.00h-17.07zM398.51 612.17h17.07v2.00h-17.07z"/>
<path fill="#a7c3ee" d="M449.72 506.05h17.07v2.00h-17.07zM466.79 540.08h17.07v2.00h-17.07zM415.58 590.14h17.07v2.00h-17.07z"/>
<path fill="#709ce4" d="M466.79 506.05h17.07v2.00h-17.07z"/>
<path fill="#fbd7d6" d="M535.07 506.05h17.07v2.00h-17.07zM364.37 522.06h17.07v2.00h-17.07zM552.14 574.12h17.07v2.00h-17.07z"/>
<path fill="#ea2726" d="M586.28 506.05h17.07v2.00h-17.07z"/>
<path fill="#f17473" d="M637.49 506.05h17.07v2.00h-17.07zM586.28 602.15h17.07v2.00h-17.07zM586.28 616.17h17.07v2.00h-17.07z"/>
<path fill="#8db1e9" d="M364.37 508.05h17.07v2.00h-17.07zM415.58 640.20h17.07v2.00h-17.07z"/>
<path fill="#c1d5f3" d="M466.79 508.05h17.07v2.00h-17.07z"/>
<path fill="#e2ebf9" d="M500.93 508.05h17.07v2.00h-17.07zM466.79 524.07h17.07v2.00h-17.07zM347.30 530.07h17.07v2.00h-17.07zM483.86 546.09h17.07v2.00h-17.07zM535.07 566.11h17.07v2.00h-17.07zM500.93 578.13h17.07v2.00h-17.07zM466.79 638.20h17.07v2.00h-17.07z"/>
<path fill="#ed4947" d="M603.35 508.05h17.07v2.00h-17.07z"/>
<path fill="#5c8fe0" d="M347.30 510.05h17.07v2.00h-17.07zM483.86 526.07h17.07v2.00h-17.07zM415.58 580.13h17.07v2.00h-17.07zM398.51 638.20h17.07v2.00h-17.07z"/>
<path fill="#fde6e6" d="M381.44 512.05h17.07v2.00h-17.07zM518.00 526.07h17.07v2.00h-17.07zM603.35 540.08h17.07v2.00h-17.07zM552.14 554.10h17.07v2.00h-17.07zM535.07 594.15h17.07v2.00h-17.07zM603.35 624.18h17.07v2.00h-17.07z"/>
<path fill="#f17372" d="M603.35 512.05h17.07v2.00h-17.07z"/>
<path fill="#7fa7e6" d="M518.00 514.05h17.07v2.00h-17.07zM381.44 580.13h17.07v2.00h-17.07z"/>
<path fill="#6b99e3" d="M347.30 516.06h17.07v2.00h-17.07zM415.58 552.10h17.07v2.00h-17.07z"/>
<path fill="#86abe8" d="M415.58 516.06h17.07v2.00h-17.07z"/>
<path fill="#fcdcdb" d="M449.72 516.06h17.07v2.00h-17.07z"/>
<path fill="#f2f6fd" d="M535.07 516.06h17.07v2.00h-17.07zM586.28 528.07h17.07v2.00h-17.07zM432.65 616.17h17.07v2.00h-17.07z"/>
<path fill="#f8b4b4" d="M569.21 516.06h17.07v2.00h-17.07zM552.14 568.12h17.07v2.00h-17.07zM535.07 608.16h17.07v2.00h-17.07zM449.72 634.19h17.07v2.00h-17.07z"/>
<path fill="#f8b5b4" d="M637.49 516.06h17.07v2.00h-17.07zM637.49 536.08h17.07v2.00h-17.07zM569.21 560.11h17.07v2.00h-17.07zM569.21 608.16h17.07v2.00h-17.07z"/>
<path fill="#f3807f" d="M381.44 518.06h17.07v2.00h-17.07zM603.35 518.06h17.07v2.00h-17.07zM586.28 522.06h17.07v2.00h-17.07z"/>
<path fill="#97b7eb" d="M415.58 518.06h17.07v2.00h-17.07zM364.37 606.16h17.07v2.00h-17.07z"/>
<path fill="#ef5b59" d="M552.14 518.06h17.07v2.00h-17.07zM620.42 592.14h17.07v2.00h-17.07z"/>
<path fill="#ee5756" d="M620.42 518.06h17.07v2.00h-17.07z"/>
<path fill="#fac8c8" d="M364.37 520.06h17.07v2.00h-17.07zM569.21 544.09h17.07v2.00h-17.07zM637.49 546.09h17.07v2.00h-17.07z"/>
<path fill="#adc7ef" d="M466.79 520.06h17.07v2.00h-17.07zM364.37 544.09h17.07v2.00h-17.07zM483.86 562.11h17.07v2.00h-17.07zM569.21 582.13h17.07v2.00h-17.07zM483.86 592.14h17.07v2.00h-17.07zM415.58 634.19h17.07v2.00h-17.07zM432.65 636.19h17.07v2.00h-17.07z"/>
<path fill="#eb3735" d="M586.28 520.06h17.07v2.00h-17.07z"/>
<path fill="#ed4745" d="M569.21 522.06h17.07v2.00h-17.07zM569.21 536.08h17.07v2.00h-17.07z"/>
<path fill="#fce5e4" d="M449.72 524.07h17.07v2.00h-17.07zM518.00 528.07h17.07v2.00h-17.07zM466.79 566.11h17.07v2.00h-17.07z"/>
<path fill="#6f9ce4" d="M483.86 524.07h17.07v2.00h-17.07z"/>
<path fill="#f06866" d="M603.35 524.07h17.07v2.00h-17.07z"/>
<path fill="#f59b9b" d="M637.49 524.07h17.07v2.00h-17.07z"/>
<path fill="#b9cff2" d="M432.65 526.07h17.07v2.00h-17.07zM466.79 560.11h17.07v2.00h-17.07zM415.58 562.11h17.07v2.00h-17.07zM381.44 586.14h17.07v2.00h-17.07zM398.51 590.14h17.07v2.00h-17.07zM398.51 620.18h17.07v2.00h-17.07z"/>
<path fill="#f06361" d="M586.28 526.07h17.07v2.00h-17.07z"/>
<path fill="#eef4fc" d="M347.30 528.07h17.07v2.00h-17.07z"/>
<path fill="#ea2624" d="M637.49 528.07h17.07v2.00h-17.07zM586.28 604.16h17.07v2.00h-17.07z"/>
<path fill="#f9c1c1" d="M364.37 530.07h17.07v2.00h-17.07zM500.93 588.14h17.07v2.00h-17.07zM552.14 606.16h17.07v2.00h-17.07zM620.42 640.20h17.07v2.00h-17.07z"/>
<path fill="#f9bdbd" d="M398.51 530.07h17.07v2.00h-17.07z"/>
<path fill="#fdf0ef" d="M449.72 530.07h17.07v2.00h-17.07z"/>
<path fill="#a4c1ee" d="M500.93 530.07h17.07v2.00h-17.07z"/>
<path fill="#fdeaea" d="M569.21 530.07h17.07v2.00h-17.07zM449.72 592.14h17.07v2.00h-17.07zM466.79 596.15h17.07v2.00h-17.07zM466.79 618.17h17.07v2.00h-17.07z"/>
<path fill="#f38988" d="M603.35 530.07h17.07v2.00h-17.07zM552.14 538.08h17.07v2.00h-17.07zM518.00 542.09h17.07v2.00h-17.07zM603.35 588.14h17.07v2.00h-17.07z"/>
<path fill="#c4d7f4" d="M364.37 532.08h17.07v2.00h-17.07z"/>
<path fill="#b8cef2" d="M415.58 534.08h17.07v2.00h-17.07z"/>
<path fill="#2e6fd7" d="M432.65 534.08h17.07v2.00h-17.07zM381.44 590.14h17.07v2.00h-17.07z"/>
<path fill="#fbdbdb" d="M518.00 534.08h17.07v2.00h-17.07zM449.72 556.10h17.07v2.00h-17.07zM449.72 636.19h17.07v2.00h-17.07z"/>
<path fill="#ec3f3d" d="M620.42 534.08h17.07v2.00h-17.07z"/>
<path fill="#f27b79" d="M637.49 534.08h17.07v2.00h-17.07z"/>
<path fill="#fce2e1" d="M381.44 536.08h17.07v2.00h-17.07z"/>
<path fill="#6897e2" d="M483.86 536.08h17.07v2.00h-17.07zM381.44 584.13h17.07v2.00h-17.07z"/>
<path fill="#ed4c4a" d="M586.28 536.08h17.07v2.00h-17.07z"/>
<path fill="#facaca" d="M620.42 536.08h17.07v2.00h-17.07zM500.93 582.13h17.07v2.00h-17.07zM535.07 628.18h17.07v2.00h-17.07z"/>
<path fill="#eb3230" d="M620.42 538.08h17.07v2.00h-17.07z"/>
<path fill="#fcdede" d="M347.30 540.08h17.07v2.00h-17.07zM552.14 634.19h17.07v2.00h-17.07z"/>
<path fill="#eb3534" d="M518.00 544.09h17.07v2.00h-17.07z"/>
<path fill="#ed4948" d="M620.42 544.09h17.07v2.00h-17.07zM586.28 572.12h17.07v2.00h-17.07z"/>
<path fill="#e6edfa" d="M398.51 546.09h17.07v2.00h-17.07z"/>
<path fill="#ccdcf5" d="M432.65 546.09h17.07v2.00h-17.07zM432.65 560.11h17.07v2.00h-17.07zM398.51 570.12h17.07v2.00h-17.07zM398.51 640.20h17.07v2.00h-17.07z"/>
<path fill="#fbd7d7" d="M586.28 546.09h17.07v2.00h-17.07zM449.72 566.11h17.07v2.00h-17.07zM518.00 608.16h17.07v2.00h-17.07zM518.00 618.17h17.07v2.00h-17.07zM500.93 634.19h17.07v2.00h-17.07z"/>
<path fill="#84aae8" d="M364.37 548.09h17.07v2.00h-17.07zM364.37 626.18h17.07v2.00h-17.07z"/>
<path fill="#dde8f8" d="M432.65 548.09h17.07v2.00h-17.07z"/>
<path fill="#ee504e" d="M518.00 548.09h17.07v2.00h-17.07z"/>
<path fill="#f8bbba" d="M586.28 548.09h17.07v2.00h-17.07zM586.28 640.20h17.07v2.00h-17.07z"/>
<path fill="#d1e0f6" d="M449.72 550.10h17.07v2.00h-17.07z"/>
<path fill="#ec4342" d="M518.00 552.10h17.07v2.00h-17.07z"/>
<path fill="#ed4b49" d="M637.49 552.10h17.07v2.00h-17.07zM637.49 632.19h17.07v2.00h-17.07z"/>
<path fill="#ec4240" d="M603.35 554.10h17.07v2.00h-17.07z"/>
<path fill="#e91b1a" d="M637.49 556.10h17.07v2.00h-17.07z"/>
<path fill="#ef5c5b" d="M637.49 558.10h17.07v2.00h-17.07zM637.49 572.12h17.07v2.00h-17.07zM637.49 594.15h17.07v2.00h-17.07z"/>
<path fill="#3c78da" d="M347.30 560.11h17.07v2.00h-17.07z"/>
<path fill="#6696e2" d="M415.58 560.11h17.07v2.00h-17.07z"/>
<path fill="#b3cbf1" d="M449.72 560.11h17.07v2.00h-17.07zM347.30 612.17h17.07v2.00h-17.07zM381.44 618.17h17.07v2.00h-17.07z"/>
<path fill="#f06664" d="M603.35 560.11h17.07v2.00h-17.07z"/>
<path fill="#fef3f2" d="M535.07 562.11h17.07v2.00h-17.07z"/>
<path fill="#3473d8" d="M381.44 564.11h17.07v2.00h-17.07z"/>
<path fill="#6c99e3" d="M398.51 566.11h17.07v2.00h-17.07z"/>
<path fill="#f6a9a8" d="M500.93 566.11h17.07v2.00h-17.07z"/>
<path fill="#f9c2c2" d="M603.35 566.11h17.07v2.00h-17.07zM449.72 570.12h17.07v2.00h-17.07zM552.14 632.19h17.07v2.00h-17.07z"/>
<path fill="#417cdb" d="M381.44 568.12h17.07v2.00h-17.07z"/>
<path fill="#5a8ee0" d="M415.58 568.12h17.07v2.00h-17.07z"/>
<path fill="#f8b7b7" d="M535.07 568.12h17.07v2.00h-17.07z"/>
<path fill="#d3e0f7" d="M347.30 570.12h17.07v2.00h-17.07z"/>
<path fill="#76a0e5" d="M381.44 570.12h17.07v2.00h-17.07z"/>
<path fill="#6c9ae3" d="M415.58 570.12h17.07v2.00h-17.07zM449.72 610.16h17.07v2.00h-17.07z"/>
<path fill="#ea2927" d="M518.00 570.12h17.07v2.00h-17.07z"/>
<path fill="#ec4241" d="M569.21 570.12h17.07v2.00h-17.07z"/>
<path fill="#f59a99" d="M586.28 570.12h17.07v2.00h-17.07zM603.35 606.16h17.07v2.00h-17.07z"/>
<path fill="#3a77d9" d="M381.44 572.12h17.07v2.00h-17.07z"/>
<path fill="#d7e3f7" d="M347.30 574.12h17.07v2.00h-17.07z"/>
<path fill="#f38180" d="M637.49 574.12h17.07v2.00h-17.07zM518.00 576.12h17.07v2.00h-17.07zM637.49 584.13h17.07v2.00h-17.07zM603.35 640.20h17.07v2.00h-17.07z"/>
<path fill="#d6e2f7" d="M415.58 576.12h17.07v2.00h-17.07z"/>
<path fill="#ef5e5c" d="M637.49 576.12h17.07v2.00h-17.07z"/>
<path fill="#e7effa" d="M364.37 578.13h17.07v2.00h-17.07zM398.51 618.17h17.07v2.00h-17.07z"/>
<path fill="#ee5554" d="M637.49 578.13h17.07v2.00h-17.07zM586.28 590.14h17.07v2.00h-17.07z"/>
<path fill="#fef9f8" d="M603.35 580.13h17.07v2.00h-17.07z"/>
<path fill="#e2ebfa" d="M381.44 582.13h17.07v2.00h-17.07z"/>
<path fill="#8aafe9" d="M415.58 582.13h17.07v2.00h-17.07zM432.65 640.20h17.07v2.00h-17.07z"/>
<path fill="#fefaf9" d="M449.72 582.13h17.07v2.00h-17.07z"/>
<path fill="#eb3938" d="M620.42 582.13h17.07v2.00h-17.07z"/>
<path fill="#8aaee9" d="M415.58 584.13h17.07v2.00h-17.07z"/>
<path fill="#f17573" d="M518.00 584.13h17.07v2.00h-17.07zM552.14 604.16h17.07v2.00h-17.07z"/>
<path fill="#ee5251" d="M620.42 584.13h17.07v2.00h-17.07z"/>
<path fill="#f1706e" d="M603.35 586.14h17.07v2.00h-17.07zM603.35 634.19h17.07v2.00h-17.07z"/>
<path fill="#5388de" d="M347.30 588.14h17.07v2.00h-17.07zM415.58 600.15h17.07v2.00h-17.07z"/>
<path fill="#f8bbbb" d="M569.21 588.14h17.07v2.00h-17.07z"/>
<path fill="#e81a18" d="M586.28 588.14h17.07v2.00h-17.07z"/>
<path fill="#ed4544" d="M637.49 588.14h17.07v2.00h-17.07z"/>
<path fill="#aec8f0" d="M483.86 590.14h17.07v2.00h-17.07z"/>
<path fill="#f17270" d="M603.35 590.14h17.07v2.00h-17.07zM552.14 628.18h17.07v2.00h-17.07z"/>
<path fill="#ef5d5b" d="M603.35 592.14h17.07v2.00h-17.07zM569.21 622.18h17.07v2.00h-17.07z"/>
<path fill="#4e85dd" d="M347.30 596.15h17.07v2.00h-17.07z"/>
<path fill="#b1caf0" d="M535.07 596.15h17.07v2.00h-17.07z"/>
<path fill="#f7b0b0" d="M552.14 596.15h17.07v2.00h-17.07z"/>
<path fill="#3373d8" d="M347.30 600.15h17.07v2.00h-17.07z"/>
<path fill="#fbd9d8" d="M535.07 600.15h17.07v2.00h-17.07z"/>
<path fill="#f16d6c" d="M552.14 600.15h17.07v2.00h-17.07z"/>
<path fill="#f06463" d="M603.35 600.15h17.07v2.00h-17.07z"/>
<path fill="#3e7ada" d="M347.30 604.16h17.07v2.00h-17.07z"/>
<path fill="#c3d6f3" d="M364.37 604.16h17.07v2.00h-17.07z"/>
<path fill="#f6a8a8" d="M569.21 604.16h17.07v2.00h-17.07z"/>
<path fill="#ec4442" d="M586.28 608.16h17.07v2.00h-17.07z"/>
<path fill="#f49494" d="M620.42 608.16h17.07v2.00h-17.07z"/>
<path fill="#f06462" d="M466.79 610.16h17.07v2.00h-17.07z"/>
<path fill="#eb3130" d="M620.42 610.16h17.07v2.00h-17.07z"/>
<path fill="#bdd2f2" d="M415.58 612.17h17.07v2.00h-17.07zM364.37 638.20h17.07v2.00h-17.07z"/>
<path fill="#6192e1" d="M483.86 614.17h17.07v2.00h-17.07z"/>
<path fill="#fcfdff" d="M569.21 614.17h17.07v2.00h-17.07z"/>
<path fill="#6998e2" d="M415.58 616.17h17.07v2.00h-17.07z"/>
<path fill="#ec3f3e" d="M586.28 618.17h17.07v2.00h-17.07z"/>
<path fill="#ec3a38" d="M637.49 618.17h17.07v2.00h-17.07z"/>
<path fill="#fafbfe" d="M483.86 620.18h17.07v2.00h-17.07z"/>
<path fill="#f2807e" d="M552.14 620.18h17.07v2.00h-17.07z"/>
<path fill="#94b6eb" d="M364.37 622.18h17.07v2.00h-17.07z"/>
<path fill="#749fe4" d="M398.51 622.18h17.07v2.00h-17.07zM347.30 628.18h17.07v2.00h-17.07z"/>
<path fill="#84aae7" d="M415.58 622.18h17.07v2.00h-17.07z"/>
<path fill="#f49393" d="M603.35 622.18h17.07v2.00h-17.07z"/>
<path fill="#ef6260" d="M637.49 622.18h17.07v2.00h-17.07z"/>
<path fill="#ee514f" d="M569.21 624.18h17.07v2.00h-17.07z"/>
<path fill="#f59897" d="M586.28 624.18h17.07v2.00h-17.07z"/>
<path fill="#80a7e7" d="M347.30 626.18h17.07v2.00h-17.07z"/>
<path fill="#82a9e7" d="M398.51 626.18h17.07v2.00h-17.07z"/>
<path fill="#6d9ae3" d="M415.58 626.18h17.07v2.00h-17.07z"/>
<path fill="#5288de" d="M518.00 626.18h17.07v2.00h-17.07z"/>
<path fill="#77a2e5" d="M398.51 628.18h17.07v2.00h-17.07z"/>
<path fill="#dae5f8" d="M535.07 630.19h17.07v2.00h-17.07z"/>
<path fill="#ef5c5a" d="M603.35 632.19h17.07v2.00h-17.07z"/>
<path fill="#4a83dc" d="M432.65 634.19h17.07v2.00h-17.07z"/>
<path fill="#f7b1b1" d="M466.79 634.19h17.07v2.00h-17.07z"/>
<path fill="#f8bcbc" d="M483.86 634.19h17.07v2.00h-17.07z"/>
<path fill="#f06766" d="M518.00 634.19h17.07v2.00h-17.07z"/>
<path fill="#f27977" d="M535.07 634.19h17.07v2.00h-17.07z"/>
<path fill="#f6a1a1" d="M586.28 634.19h17.07v2.00h-17.07z"/>
<path fill="#6a98e3" d="M415.58 636.19h17.07v2.00h-17.07z"/>
<path fill="#fef1f0" d="M466.79 636.19h17.07v2.00h-17.07z"/>
<path fill="#4c83dd" d="M415.58 638.20h17.07v2.00h-17.07z"/>
<path fill="#fdebea" d="M586.28 638.20h17.07v2.00h-17.07z"/>
</g>
<rect x="347.30" y="368.2" width="102.42" height="8.5" fill="#6ba5d2"/>
<rect x="449.72" y="368.2" width="102.42" height="8.5" fill="#f8ad6a"/>
<rect x="552.14" y="368.2" width="102.42" height="8.5" fill="#7cc67c"/>
<path d="M346.20 379.26H338.25V380.32H346.20M346.20 378.20H335.55V379.79H338.25M346.20 381.38H336.47V382.44H346.20M346.20 384.55H337.48V385.61H346.20M346.20 383.50H336.47V385.08H337.48M346.20 387.73H338.82V388.79H346.20M346.20 386.67H337.30V388.26H338.82M346.20 389.85H338.26V390.91H346.20M346.20 394.09H340.09V395.14H346.20M346.20 393.03H339.89V394.62H340.09M346.20 391.97H337.32V393.82H339.89M338.26 390.38H336.73V392.89H337.32M337.30 387.47H335.73V391.64H336.73M336.47 384.29H335.04V389.55H335.73M336.47 381.91H334.25V386.92H335.04M335.55 378.99H333.20V384.41H334.25M346.20 396.20H338.03V397.26H346.20M346.20 400.44H339.15V401.50H346.20M346.20 399.38H338.25V400.97H339.15M346.20 398.32H336.99V400.18H338.25M346.20 402.56H339.42V403.62H346.20M346.20 404.68H339.14V405.73H346.20M339.42 403.09H337.74V405.21H339.14M346.20 406.79H338.89V407.85H346.20M346.20 408.91H337.56V409.97H346.20M338.89 407.32H336.60V409.44H337.56M337.74 404.15H336.07V408.38H336.60M336.99 399.25H334.78V406.26H336.07M338.03 396.73H334.67V402.76H334.78M346.20 414.21H338.75V415.27H346.20M346.20 413.15H337.18V414.74H338.75M346.20 412.09H335.54V413.94H337.18M346.20 411.03H335.06V413.02H335.54M346.20 416.33H338.07V417.38H346.20M346.20 419.50H339.56V420.56H346.20M346.20 418.44H337.42V420.03H339.56M338.07 416.85H336.29V419.24H337.42M346.20 422.68H337.17V423.74H346.20M346.20 421.62H336.29V423.21H337.17M346.20 424.80H337.56V425.86H346.20M346.20 426.92H336.89V427.97H346.20M337.56 425.33H335.79V427.45H336.89M336.29 422.41H334.59V426.39H335.79M336.29 418.05H334.00V424.40H334.59M335.06 412.02H333.63V421.22H334.00M334.67 399.74H330.98V416.62H333.63M333.20 381.70H330.00V408.18H330.98M346.20 430.09H338.76V431.15H346.20M346.20 429.03H336.76V430.62H338.76M346.20 433.27H338.14V434.33H346.20M346.20 432.21H336.85V433.80H338.14M346.20 437.51H339.85V438.57H346.20M346.20 436.45H338.62V438.04H339.85M346.20 435.39H337.89V437.24H338.62M346.20 440.68H338.44V441.74H346.20M346.20 439.62H337.33V441.21H338.44M337.89 436.31H336.33V440.42H337.33M336.85 433.01H335.43V438.37H336.33M346.20 442.80H336.71V443.86H346.20M346.20 445.98H338.22V447.04H346.20M346.20 444.92H336.91V446.51H338.22M346.20 449.16H339.07V450.21H346.20M346.20 448.10H338.06V449.68H339.07M346.20 451.27H338.97V452.33H346.20M346.20 453.39H338.78V454.45H346.20M338.97 451.80H337.92V453.92H338.78M338.06 448.89H336.68V452.86H337.92M336.91 445.71H335.32V450.88H336.68M336.71 443.33H334.91V448.29H335.32M335.43 435.69H334.69V445.81H334.91M336.76 429.83H333.76V440.75H334.69M346.20 455.51H335.52V456.57H346.20M346.20 458.69H337.27V459.75H346.20M346.20 457.63H336.75V459.22H337.27M346.20 461.86H338.37V462.92H346.20M346.20 460.80H336.49V462.39H338.37M336.75 458.42H335.02V461.60H336.49M335.52 456.04H333.52V460.01H335.02M346.20 463.98H337.44V465.04H346.20M346.20 467.16H336.57V468.22H346.20M346.20 466.10H335.87V467.69H336.57M337.44 464.51H335.16V466.89H335.87M346.20 471.40H339.08V472.45H346.20M346.20 473.51H338.77V474.57H346.20M339.08 471.92H337.81V474.04H338.77M346.20 470.34H337.31V472.98H337.81M346.20 469.28H336.28V471.66H337.31M346.20 476.69H336.88V477.75H346.20M346.20 475.63H335.84V477.22H336.88M336.28 470.47H334.93V476.43H335.84M335.16 465.70H333.26V473.45H334.93M333.52 458.02H332.87V469.57H333.26M346.20 480.93H338.35V481.99H346.20M346.20 479.87H337.90V481.46H338.35M346.20 478.81H337.55V480.66H337.90M346.20 483.04H338.25V484.10H346.20M346.20 485.16H337.91V486.22H346.20M338.25 483.57H337.26V485.69H337.91M337.55 479.74H335.48V484.63H337.26M346.20 488.34H338.73V489.40H346.20M346.20 487.28H336.63V488.87H338.73M346.20 491.52H339.27V492.58H346.20M346.20 490.46H338.54V492.05H339.27M346.20 493.63H337.84V494.69H346.20M338.54 491.25H336.61V494.16H337.84M336.63 488.07H335.39V492.71H336.61M346.20 495.75H339.09V496.81H346.20M346.20 497.87H337.67V498.93H346.20M339.09 496.28H336.56V498.40H337.67M346.20 501.05H338.53V502.11H346.20M346.20 499.99H336.35V501.58H338.53M336.56 497.34H335.37V500.78H336.35M335.39 490.39H334.63V499.06H335.37M335.48 482.18H334.08V494.73H334.63M346.20 504.23H338.04V505.28H346.20M346.20 507.40H338.42V508.46H346.20M346.20 506.34H337.03V507.93H338.42M338.04 504.75H336.29V507.14H337.03M346.20 503.17H335.46V505.95H336.29M346.20 509.52H338.40V510.58H346.20M346.20 511.64H337.89V512.70H346.20M338.40 510.05H336.76V512.17H337.89M346.20 514.82H339.19V515.87H346.20M346.20 513.76H337.65V515.35H339.19M346.20 516.93H338.50V517.99H346.20M346.20 519.05H338.22V520.11H346.20M338.50 517.46H336.36V519.58H338.22M337.65 514.55H336.18V518.52H336.36M336.76 511.11H334.89V516.54H336.18M335.46 504.56H334.73V513.82H334.89M346.20 522.23H339.29V523.29H346.20M346.20 521.17H336.97V522.76H339.29M346.20 525.41H338.24V526.47H346.20M346.20 524.35H337.81V525.94H338.24M346.20 527.52H337.41V528.58H346.20M337.81 525.14H335.75V528.05H337.41M336.97 521.96H335.56V526.60H335.75M346.20 530.70H338.58V531.76H346.20M346.20 529.64H335.53V531.23H338.58M335.56 524.28H333.50V530.44H335.53M334.73 509.19H332.79V527.36H333.50M334.08 488.46H332.58V518.27H332.79M332.87 463.80H331.24V503.36H332.58M346.20 533.88H337.13V534.94H346.20M346.20 532.82H335.64V534.41H337.13M346.20 537.06H338.80V538.11H346.20M346.20 536.00H337.87V537.58H338.80M346.20 540.23H339.36V541.29H346.20M346.20 539.17H337.67V540.76H339.36M337.87 536.79H336.21V539.97H337.67M346.20 542.35H338.19V543.41H346.20M346.20 544.47H339.06V545.53H346.20M346.20 546.59H337.92V547.65H346.20M339.06 545.00H336.59V547.12H337.92M338.19 542.88H336.12V546.06H336.59M336.21 538.38H335.12V544.47H336.12M335.64 533.61H333.75V541.42H335.12M346.20 548.70H337.25V549.76H346.20M346.20 551.88H338.26V552.94H346.20M346.20 550.82H336.48V552.41H338.26M337.25 549.23H335.45V551.62H336.48M346.20 555.06H338.26V556.12H346.20M346.20 554.00H337.23V555.59H338.26M346.20 557.18H339.12V558.24H346.20M346.20 560.35H339.87V561.41H346.20M346.20 559.30H338.25V560.88H339.87M339.12 557.71H337.32V560.09H338.25M346.20 562.47H338.43V563.53H346.20M346.20 565.65H340.21V566.71H346.20M346.20 564.59H338.23V566.18H340.21M338.43 563.00H337.16V565.38H338.23M337.32 558.90H336.46V564.19H337.16M337.23 554.79H335.08V561.55H336.46M335.45 550.43H334.57V558.17H335.08M346.20 568.83H337.93V569.89H346.20M346.20 570.94H338.67V572.00H346.20M346.20 574.12H340.70V575.18H346.20M346.20 576.24H339.35V577.30H346.20M340.70 574.65H338.64V576.77H339.35M346.20 573.06H337.00V575.71H338.64M338.67 571.47H336.24V574.39H337.00M337.93 569.36H335.86V572.93H336.24M346.20 567.77H334.27V571.14H335.86M334.57 554.30H331.91V569.46H334.27M333.75 537.52H331.57V561.88H331.91M346.20 579.42H336.99V580.48H346.20M346.20 578.36H335.44V579.95H336.99M346.20 582.59H338.64V583.65H346.20M346.20 581.53H337.31V583.12H338.64M346.20 585.77H340.00V586.83H346.20M346.20 584.71H338.56V586.30H340.00M346.20 587.89H337.81V588.95H346.20M338.56 585.51H336.49V588.42H337.81M337.31 582.33H336.26V586.96H336.49M346.20 591.07H338.85V592.13H346.20M346.20 593.18H337.90V594.24H346.20M338.85 591.60H337.40V593.71H337.90M346.20 596.36H337.72V597.42H346.20M346.20 595.30H336.04V596.89H337.72M337.40 592.65H335.67V596.10H336.04M346.20 590.01H334.68V594.38H335.67M336.26 584.65H334.07V592.19H334.68M335.44 579.15H333.23V588.42H334.07M346.20 601.66H338.60V602.72H346.20M346.20 600.60H337.55V602.19H338.60M346.20 599.54H336.41V601.39H337.55M346.20 605.89H338.90V606.95H346.20M346.20 604.83H337.53V606.42H338.90M346.20 603.77H337.09V605.63H337.53M346.20 608.01H338.47V609.07H346.20M346.20 610.13H337.90V611.19H346.20M338.47 608.54H336.81V610.66H337.90M337.09 604.70H335.86V609.60H336.81M336.41 600.47H335.48V607.15H335.86M346.20 598.48H334.27V603.81H335.48M346.20 614.37H338.89V615.42H346.20M346.20 613.31H337.28V614.89H338.89M346.20 612.25H336.74V614.10H337.28M346.20 617.54H339.52V618.60H346.20M346.20 616.48H338.62V618.07H339.52M346.20 619.66H337.52V620.72H346.20M338.62 617.28H336.50V620.19H337.52M336.74 613.17H334.98V618.73H336.50M346.20 621.78H337.82V622.84H346.20M346.20 623.90H338.63V624.96H346.20M346.20 627.07H339.42V628.13H346.20M346.20 626.01H337.54V627.60H339.42M346.20 630.25H338.74V631.31H346.20M346.20 629.19H337.16V630.78H338.74M337.54 626.81H336.43V629.99H337.16M338.63 624.43H335.71V628.40H336.43M337.82 622.31H334.90V626.41H335.71M346.20 633.43H338.07V634.49H346.20M346.20 632.37H336.81V633.96H338.07M346.20 635.55H337.10V636.60H346.20M346.20 638.72H339.03V639.78H346.20M346.20 637.66H337.81V639.25H339.03M346.20 640.84H336.33V641.90H346.20M337.81 638.46H335.61V641.37H336.33M337.10 636.08H335.09V639.91H335.61M336.81 633.16H334.72V637.99H335.09M334.90 624.36H334.27V635.58H334.72M334.98 615.95H333.57V629.97H334.27M334.27 601.14H331.70V622.96H333.57M333.23 583.79H331.15V612.05H331.70M331.57 549.70H330.60V597.92H331.15M331.24 483.58H330.24V573.81H330.60M333.76 435.29H329.19V528.70H330.24M330.00 394.94H328.40V481.99H329.19" fill="none" stroke="#2a2a2a" stroke-width="0.55"/>
<text x="356.84" y="648.30" font-size="5.7" fill="#1a1a1a" text-anchor="end" font-weight="normal" font-family='"Liberation Sans", sans-serif' stroke="#1a1a1a" stroke-width="0.25" transform="rotate(-45 356.84 648.30)">SHAM1</text>
<text x="373.91" y="648.30" font-size="5.7" fill="#1a1a1a" text-anchor="end" font-weight="normal" font-family='"Liberation Sans", sans-serif' stroke="#1a1a1a" stroke-width="0.25" transform="rotate(-45 373.91 648.30)">SHAM2</text>
<text x="390.98" y="648.30" font-size="5.7" fill="#1a1a1a" text-anchor="end" font-weight="normal" font-family='"Liberation Sans", sans-serif' stroke="#1a1a1a" stroke-width="0.25" transform="rotate(-45 390.98 648.30)">SHAM3</text>
<text x="408.05" y="648.30" font-size="5.7" fill="#1a1a1a" text-anchor="end" font-weight="normal" font-family='"Liberation Sans", sans-serif' stroke="#1a1a1a" stroke-width="0.25" transform="rotate(-45 408.05 648.30)">SHAM4</text>
<text x="425.12" y="648.30" font-size="5.7" fill="#1a1a1a" text-anchor="end" font-weight="normal" font-family='"Liberation Sans", sans-serif' stroke="#1a1a1a" stroke-width="0.25" transform="rotate(-45 425.12 648.30)">SHAM5</text>
<text x="442.19" y="648.30" font-size="5.7" fill="#1a1a1a" text-anchor="end" font-weight="normal" font-family='"Liberation Sans", sans-serif' stroke="#1a1a1a" stroke-width="0.25" transform="rotate(-45 442.19 648.30)">SHAM6</text>
<text x="459.25" y="648.30" font-size="5.7" fill="#1a1a1a" text-anchor="end" font-weight="normal" font-family='"Liberation Sans", sans-serif' stroke="#1a1a1a" stroke-width="0.25" transform="rotate(-45 459.25 648.30)">FLASH1</text>
<text x="476.33" y="648.30" font-size="5.7" fill="#1a1a1a" text-anchor="end" font-weight="normal" font-family='"Liberation Sans", sans-serif' stroke="#1a1a1a" stroke-width="0.25" transform="rotate(-45 476.33 648.30)">FLASH2</text>
<text x="493.39" y="648.30" font-size="5.7" fill="#1a1a1a" text-anchor="end" font-weight="normal" font-family='"Liberation Sans", sans-serif' stroke="#1a1a1a" stroke-width="0.25" transform="rotate(-45 493.39 648.30)">FLASH3</text>
<text x="510.47" y="648.30" font-size="5.7" fill="#1a1a1a" text-anchor="end" font-weight="normal" font-family='"Liberation Sans", sans-serif' stroke="#1a1a1a" stroke-width="0.25" transform="rotate(-45 510.47 648.30)">FLASH4</text>
<text x="527.54" y="648.30" font-size="5.7" fill="#1a1a1a" text-anchor="end" font-weight="normal" font-family='"Liberation Sans", sans-serif' stroke="#1a1a1a" stroke-width="0.25" transform="rotate(-45 527.54 648.30)">FLASH5</text>
<text x="544.61" y="648.30" font-size="5.7" fill="#1a1a1a" text-anchor="end" font-weight="normal" font-family='"Liberation Sans", sans-serif' stroke="#1a1a1a" stroke-width="0.25" transform="rotate(-45 544.61 648.30)">FLASH6</text>
<text x="561.67" y="648.30" font-size="5.7" fill="#1a1a1a" text-anchor="end" font-weight="normal" font-family='"Liberation Sans", sans-serif' stroke="#1a1a1a" stroke-width="0.25" transform="rotate(-45 561.67 648.30)">CONV1</text>
<text x="578.75" y="648.30" font-size="5.7" fill="#1a1a1a" text-anchor="end" font-weight="normal" font-family='"Liberation Sans", sans-serif' stroke="#1a1a1a" stroke-width="0.25" transform="rotate(-45 578.75 648.30)">CONV2</text>
<text x="595.82" y="648.30" font-size="5.7" fill="#1a1a1a" text-anchor="end" font-weight="normal" font-family='"Liberation Sans", sans-serif' stroke="#1a1a1a" stroke-width="0.25" transform="rotate(-45 595.82 648.30)">CONV3</text>
<text x="612.88" y="648.30" font-size="5.7" fill="#1a1a1a" text-anchor="end" font-weight="normal" font-family='"Liberation Sans", sans-serif' stroke="#1a1a1a" stroke-width="0.25" transform="rotate(-45 612.88 648.30)">CONV4</text>
<text x="629.96" y="648.30" font-size="5.7" fill="#1a1a1a" text-anchor="end" font-weight="normal" font-family='"Liberation Sans", sans-serif' stroke="#1a1a1a" stroke-width="0.25" transform="rotate(-45 629.96 648.30)">CONV5</text>
<text x="647.03" y="648.30" font-size="5.7" fill="#1a1a1a" text-anchor="end" font-weight="normal" font-family='"Liberation Sans", sans-serif' stroke="#1a1a1a" stroke-width="0.25" transform="rotate(-45 647.03 648.30)">CONV6</text>
<text x="657.80" y="482.10" font-size="6.0" fill="#000" text-anchor="start" font-weight="bold" font-family='"Liberation Sans", sans-serif' >Group</text>
<rect x="658.0" y="484.60" width="6.3" height="6.0" fill="#6ba5d2"/>
<text x="667.00" y="489.60" font-size="5.6" fill="#111" text-anchor="start" font-weight="normal" font-family='"Liberation Sans", sans-serif' stroke="#111" stroke-width="0.2">S</text>
<rect x="658.0" y="491.60" width="6.3" height="6.0" fill="#f8ad6a"/>
<text x="667.00" y="496.60" font-size="5.6" fill="#111" text-anchor="start" font-weight="normal" font-family='"Liberation Sans", sans-serif' stroke="#111" stroke-width="0.2">F</text>
<rect x="658.0" y="498.60" width="6.3" height="6.0" fill="#7cc67c"/>
<text x="667.00" y="503.60" font-size="5.6" fill="#111" text-anchor="start" font-weight="normal" font-family='"Liberation Sans", sans-serif' stroke="#111" stroke-width="0.2">C</text>
<defs><linearGradient id="cb" x1="0" y1="0" x2="0" y2="1"><stop offset="0" stop-color="#e81614"/><stop offset="0.25" stop-color="#f48a8a"/><stop offset="0.5" stop-color="#ffffff"/><stop offset="0.75" stop-color="#8eb2ea"/><stop offset="1" stop-color="#1e64d4"/></linearGradient></defs>
<rect x="664.6" y="507.6" width="7.2" height="48.6" fill="url(#cb)"/>
<text x="673.40" y="511.60" font-size="5.6" fill="#111" text-anchor="start" font-weight="normal" font-family='"Liberation Sans", sans-serif' stroke="#111" stroke-width="0.2">2</text>
<text x="673.40" y="522.70" font-size="5.6" fill="#111" text-anchor="start" font-weight="normal" font-family='"Liberation Sans", sans-serif' stroke="#111" stroke-width="0.2">1</text>
<text x="673.40" y="535.00" font-size="5.6" fill="#111" text-anchor="start" font-weight="normal" font-family='"Liberation Sans", sans-serif' stroke="#111" stroke-width="0.2">0</text>
<text x="673.40" y="546.40" font-size="5.6" fill="#111" text-anchor="start" font-weight="normal" font-family='"Liberation Sans", sans-serif' stroke="#111" stroke-width="0.2">-1</text>
<text x="673.40" y="558.00" font-size="5.6" fill="#111" text-anchor="start" font-weight="normal" font-family='"Liberation Sans", sans-serif' stroke="#111" stroke-width="0.2">-2</text>
<text x="663.40" y="532.00" font-size="5.9" fill="#000" text-anchor="middle" font-weight="bold" font-family='"Liberation Sans", sans-serif' transform="rotate(-90 663.4 532.0)">Log2 Expression</text>
</svg></body></html>
